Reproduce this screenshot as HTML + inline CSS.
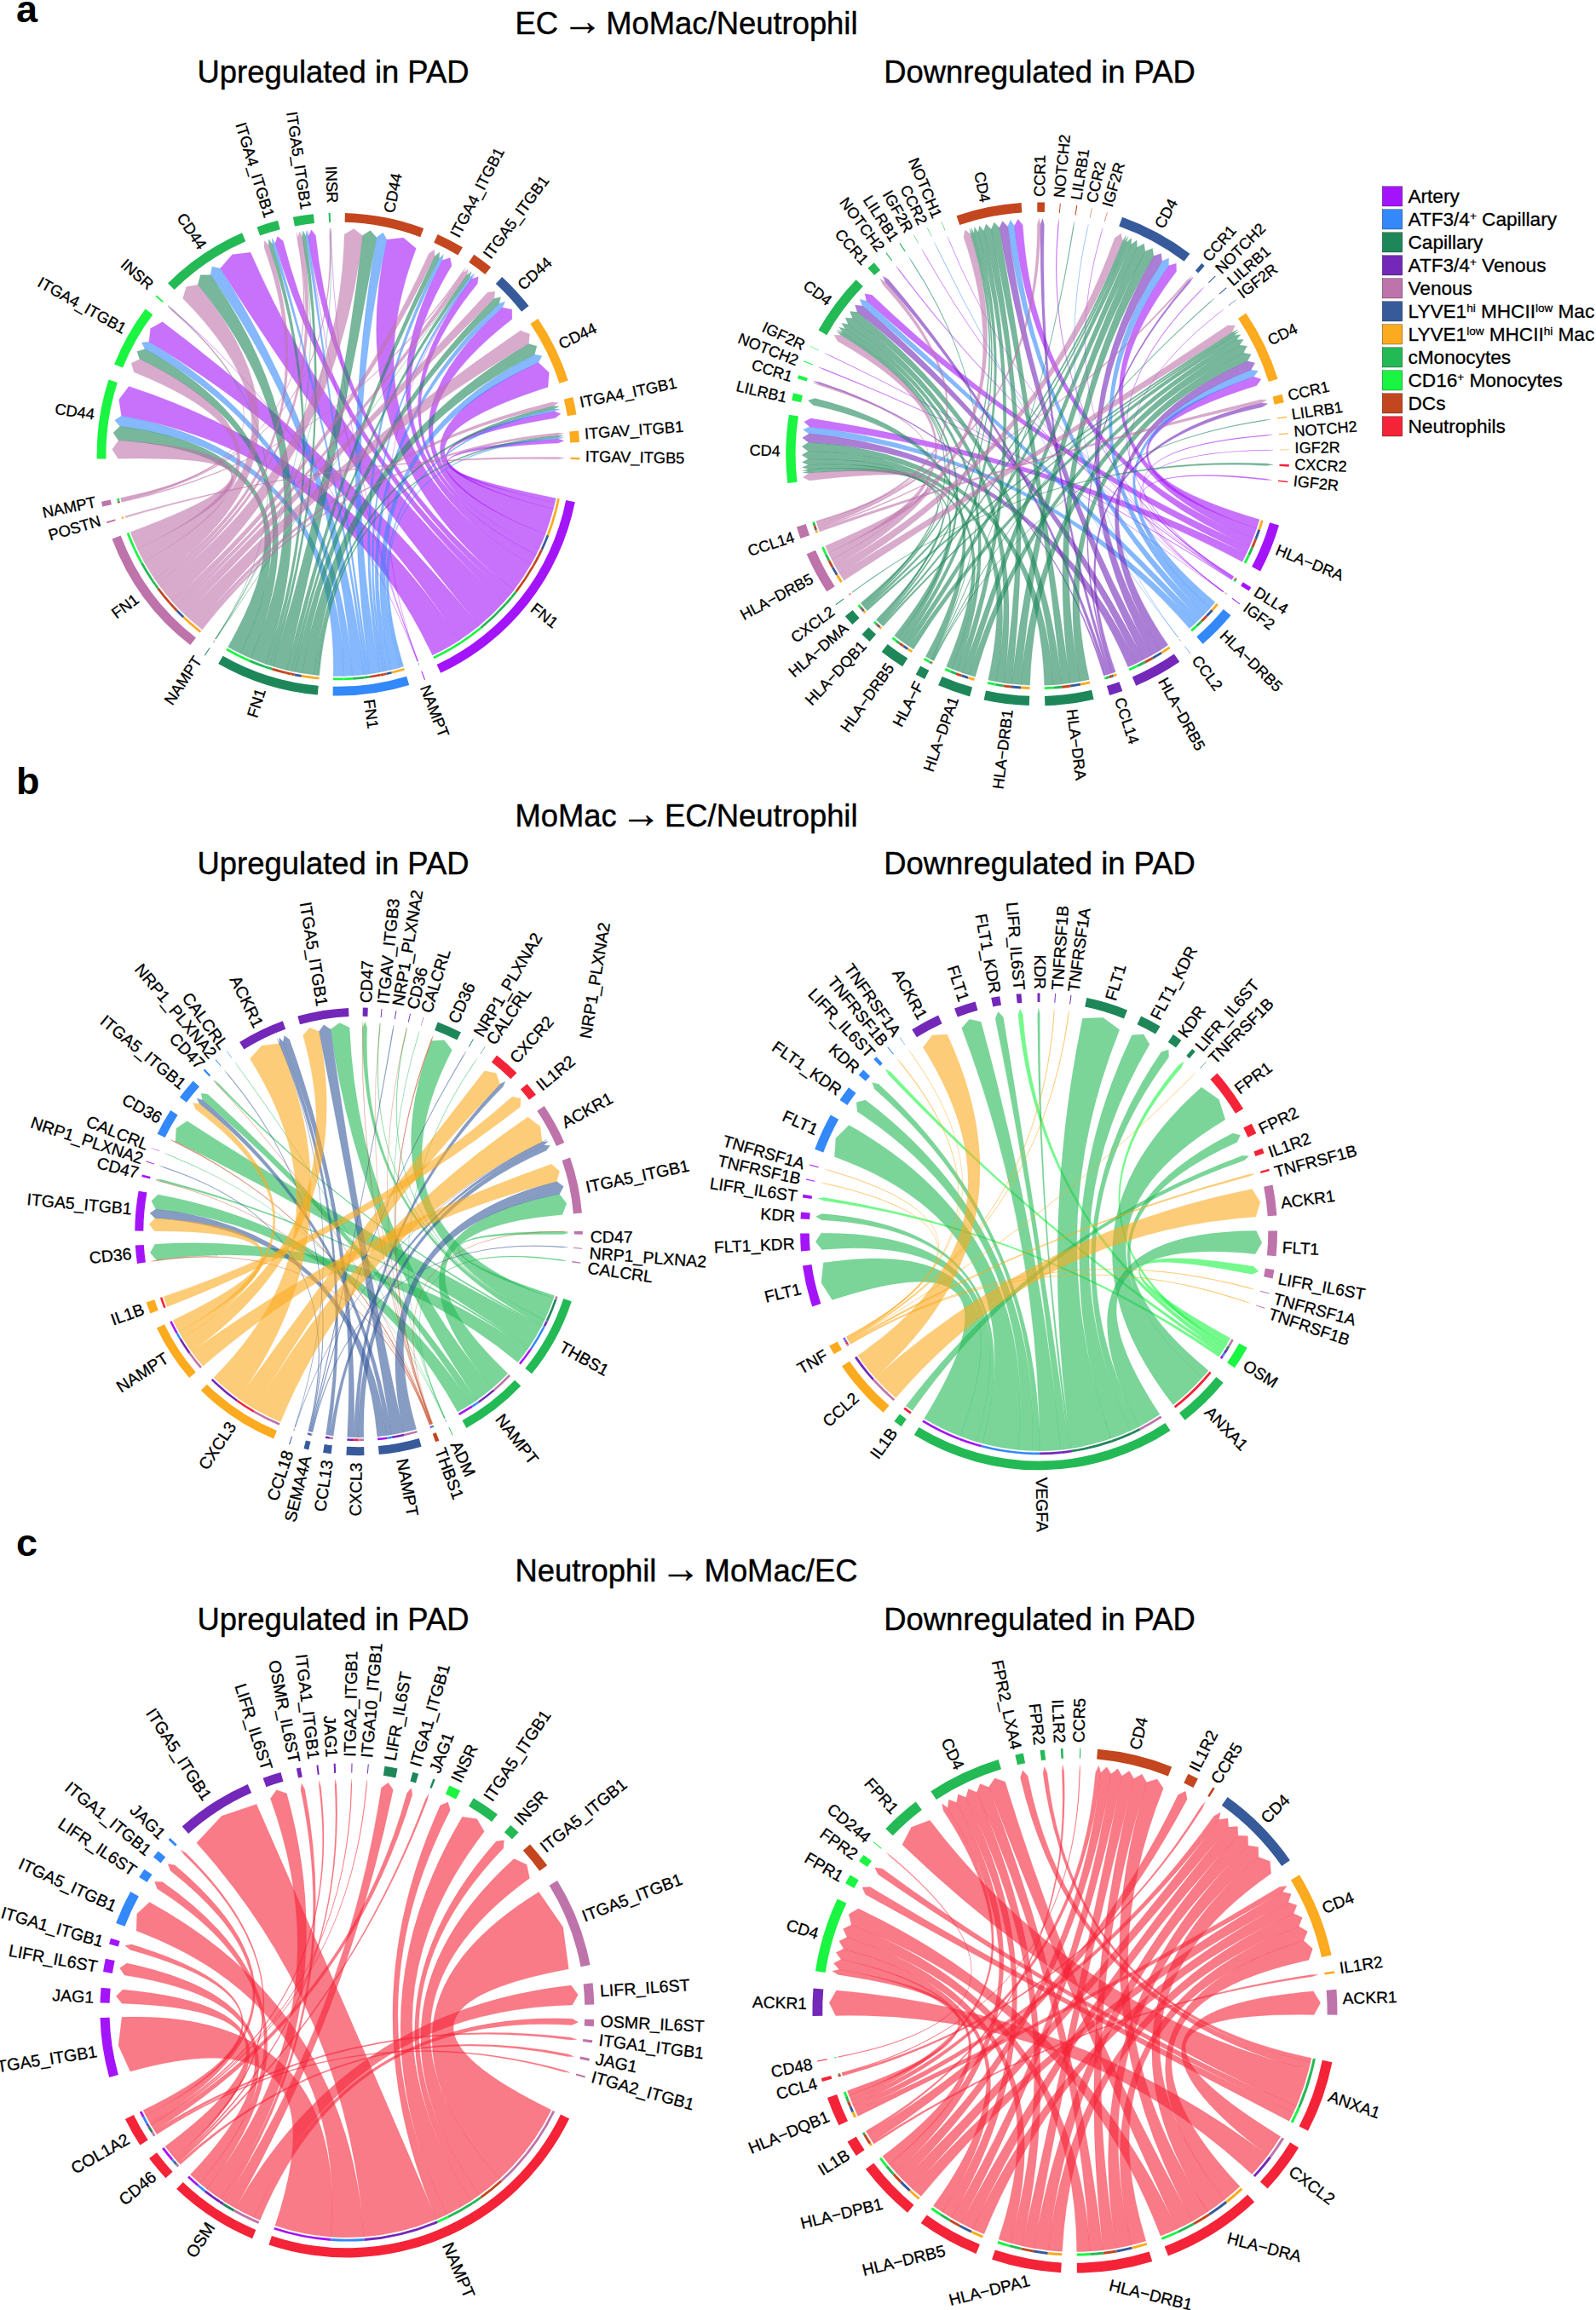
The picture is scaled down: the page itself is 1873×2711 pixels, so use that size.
<!DOCTYPE html>
<html><head><meta charset="utf-8"><title>Chord diagrams</title>
<style>
html,body{margin:0;padding:0;background:#fff;}
body{width:1873px;height:2711px;overflow:hidden;position:relative;font-family:"Liberation Sans", Arial, Helvetica, sans-serif;}
svg{position:absolute;left:0;top:0;display:block;}
text{font-family:"Liberation Sans", Arial, Helvetica, sans-serif;}
</style></head><body>
<svg width="1873" height="2711" viewBox="0 0 1873 2711">
<rect width="1873" height="2711" fill="#fff"/>
<g id="aL">
<g fill-opacity="0.6" stroke-opacity="0.5" stroke-width="0.3">
<path d="M623.1 662.3A260.4 260.4 0 0 1 603.1 692.4Q397.0 533.2 454.0 281.2L473.3 279.1L488.3 291.5Q397.0 533.2 623.1 662.3Z" fill="#A414FA" stroke="#A414FA"/>
<path d="M629.1 651.2A260.4 260.4 0 0 1 623.1 662.3Q397.0 533.2 519.1 305.5L528.1 302.5L530.1 311.7Q397.0 533.2 629.1 651.2Z" fill="#A414FA" stroke="#A414FA"/>
<path d="M632.9 643.3A260.4 260.4 0 0 1 629.1 651.2Q397.0 533.2 553.5 327.6L561.2 324.8L560.3 333.0Q397.0 533.2 632.9 643.3Z" fill="#A414FA" stroke="#A414FA"/>
<path d="M639.9 627.0A260.4 260.4 0 0 1 632.9 643.3Q397.0 533.2 589.6 360.9L600.7 363.2L600.9 374.5Q397.0 533.2 639.9 627.0Z" fill="#A414FA" stroke="#A414FA"/>
<path d="M649.3 597.4A260.4 260.4 0 0 1 639.9 627.0Q397.0 533.2 631.9 425.5L644.3 437.2L643.0 454.2Q397.0 533.2 649.3 597.4Z" fill="#A414FA" stroke="#A414FA"/>
<path d="M651.2 589.7A260.4 260.4 0 0 1 649.3 597.4Q397.0 533.2 650.4 482.8L658.0 485.4L651.8 490.6Q397.0 533.2 651.2 589.7Z" fill="#A414FA" stroke="#A414FA"/>
<path d="M652.3 584.7A260.4 260.4 0 0 1 651.2 589.7Q397.0 533.2 654.7 515.1L661.8 517.2L655.0 520.1Q397.0 533.2 652.3 584.7Z" fill="#A414FA" stroke="#A414FA"/>
<path d="M539.0 751.4A260.4 260.4 0 0 1 507.5 769.0Q397.0 533.2 142.6 488.1L139.6 468.9L151.3 453.4Q397.0 533.2 539.0 751.4Z" fill="#A414FA" stroke="#A414FA"/>
<path d="M562.1 734.6A260.4 260.4 0 0 1 539.0 751.4Q397.0 533.2 174.9 401.2L176.7 385.4L190.7 377.7Q397.0 533.2 562.1 734.6Z" fill="#A414FA" stroke="#A414FA"/>
<path d="M591.3 706.5A260.4 260.4 0 0 1 562.1 734.6Q397.0 533.2 258.5 315.1L272.6 298.8L294.0 296.3Q397.0 533.2 591.3 706.5Z" fill="#A414FA" stroke="#A414FA"/>
<path d="M597.7 699.1A260.4 260.4 0 0 1 591.3 706.5Q397.0 533.2 322.9 285.7L325.7 277.6L332.3 283.1Q397.0 533.2 597.7 699.1Z" fill="#A414FA" stroke="#A414FA"/>
<path d="M603.1 692.4A260.4 260.4 0 0 1 597.7 699.1Q397.0 533.2 362.0 277.2L365.4 269.8L370.4 276.2Q397.0 533.2 603.1 692.4Z" fill="#A414FA" stroke="#A414FA"/>
<path d="M490.7 776.1A260.4 260.4 0 0 1 490.5 776.2Q397.0 533.2 553.3 327.5L557.6 322.0L553.5 327.6Q397.0 533.2 490.7 776.1Z" fill="#A414FA" stroke="#A414FA"/>
<path d="M490.1 776.4A260.4 260.4 0 0 1 489.9 776.5Q397.0 533.2 202.4 363.2L197.3 358.5L202.6 363.0Q397.0 533.2 490.1 776.4Z" fill="#A414FA" stroke="#A414FA"/>
<path d="M490.3 776.3A260.4 260.4 0 0 1 490.1 776.4Q397.0 533.2 361.8 277.2L361.0 270.3L362.0 277.2Q397.0 533.2 490.3 776.3Z" fill="#A414FA" stroke="#A414FA"/>
<path d="M490.5 776.2A260.4 260.4 0 0 1 490.3 776.3Q397.0 533.2 388.2 275.0L388.1 268.0L388.4 275.0Q397.0 533.2 490.5 776.2Z" fill="#A414FA" stroke="#A414FA"/>
<path d="M445.8 789.0A260.4 260.4 0 0 1 433.5 791.0Q397.0 533.2 441.9 278.8L449.4 273.1L454.0 281.2Q397.0 533.2 445.8 789.0Z" fill="#3388FA" stroke="#3388FA"/>
<path d="M450.0 788.1A260.4 260.4 0 0 1 445.8 789.0Q397.0 533.2 515.3 303.5L520.5 298.4L519.1 305.5Q397.0 533.2 450.0 788.1Z" fill="#3388FA" stroke="#3388FA"/>
<path d="M453.0 787.5A260.4 260.4 0 0 1 450.0 788.1Q397.0 533.2 551.0 325.7L556.3 321.0L553.3 327.5Q397.0 533.2 453.0 787.5Z" fill="#3388FA" stroke="#3388FA"/>
<path d="M458.9 786.1A260.4 260.4 0 0 1 453.0 787.5Q397.0 533.2 585.5 356.5L592.7 354.0L589.6 360.9Q397.0 533.2 458.9 786.1Z" fill="#3388FA" stroke="#3388FA"/>
<path d="M469.3 783.4A260.4 260.4 0 0 1 458.9 786.1Q397.0 533.2 627.3 416.0L635.9 417.7L631.9 425.5Q397.0 533.2 469.3 783.4Z" fill="#3388FA" stroke="#3388FA"/>
<path d="M471.9 782.6A260.4 260.4 0 0 1 469.3 783.4Q397.0 533.2 649.9 480.1L656.9 480.1L650.4 482.8Q397.0 533.2 471.9 782.6Z" fill="#3388FA" stroke="#3388FA"/>
<path d="M473.6 782.1A260.4 260.4 0 0 1 471.9 782.6Q397.0 533.2 654.6 513.3L661.6 513.7L654.7 515.1Q397.0 533.2 473.6 782.1Z" fill="#3388FA" stroke="#3388FA"/>
<path d="M403.5 793.5A260.4 260.4 0 0 1 391.1 793.5Q397.0 533.2 140.7 500.3L134.7 493.2L142.6 488.1Q397.0 533.2 403.5 793.5Z" fill="#3388FA" stroke="#3388FA"/>
<path d="M413.4 793.1A260.4 260.4 0 0 1 403.5 793.5Q397.0 533.2 170.0 409.7L166.4 402.0L174.9 401.2Q397.0 533.2 413.4 793.1Z" fill="#3388FA" stroke="#3388FA"/>
<path d="M427.2 791.8A260.4 260.4 0 0 1 413.4 793.1Q397.0 533.2 247.1 322.8L248.9 313.1L258.5 315.1Q397.0 533.2 427.2 791.8Z" fill="#3388FA" stroke="#3388FA"/>
<path d="M430.6 791.4A260.4 260.4 0 0 1 427.2 791.8Q397.0 533.2 319.7 286.7L319.3 279.5L322.9 285.7Q397.0 533.2 430.6 791.4Z" fill="#3388FA" stroke="#3388FA"/>
<path d="M433.5 791.0A260.4 260.4 0 0 1 430.6 791.4Q397.0 533.2 358.9 277.6L359.4 270.6L361.8 277.2Q397.0 533.2 433.5 791.0Z" fill="#3388FA" stroke="#3388FA"/>
<path d="M336.5 786.5A260.4 260.4 0 0 1 320.3 782.0Q397.0 533.2 425.4 276.4L434.7 270.6L441.9 278.8Q397.0 533.2 336.5 786.5Z" fill="#1E875A" stroke="#1E875A"/>
<path d="M342.3 787.8A260.4 260.4 0 0 1 336.5 786.5Q397.0 533.2 510.1 300.9L515.8 296.0L515.3 303.5Q397.0 533.2 342.3 787.8Z" fill="#1E875A" stroke="#1E875A"/>
<path d="M346.2 788.6A260.4 260.4 0 0 1 342.3 787.8Q397.0 533.2 547.7 323.3L553.4 318.9L551.0 325.7Q397.0 533.2 346.2 788.6Z" fill="#1E875A" stroke="#1E875A"/>
<path d="M354.4 790.1A260.4 260.4 0 0 1 346.2 788.6Q397.0 533.2 579.8 350.6L587.6 348.7L585.5 356.5Q397.0 533.2 354.4 790.1Z" fill="#1E875A" stroke="#1E875A"/>
<path d="M368.7 792.0A260.4 260.4 0 0 1 354.4 790.1Q397.0 533.2 620.4 403.4L630.0 406.3L627.3 416.0Q397.0 533.2 368.7 792.0Z" fill="#1E875A" stroke="#1E875A"/>
<path d="M372.4 792.4A260.4 260.4 0 0 1 368.7 792.0Q397.0 533.2 649.1 476.6L656.3 476.9L649.9 480.1Q397.0 533.2 372.4 792.4Z" fill="#1E875A" stroke="#1E875A"/>
<path d="M374.8 792.6A260.4 260.4 0 0 1 372.4 792.4Q397.0 533.2 654.4 511.0L661.4 511.6L654.6 513.3Q397.0 533.2 374.8 792.6Z" fill="#1E875A" stroke="#1E875A"/>
<path d="M282.5 767.0A260.4 260.4 0 0 1 267.6 759.2Q397.0 533.2 139.1 516.9L132.9 507.9L140.7 500.3Q397.0 533.2 282.5 767.0Z" fill="#1E875A" stroke="#1E875A"/>
<path d="M294.6 772.6A260.4 260.4 0 0 1 282.5 767.0Q397.0 533.2 164.0 421.5L160.8 412.4L170.0 409.7Q397.0 533.2 294.6 772.6Z" fill="#1E875A" stroke="#1E875A"/>
<path d="M312.1 779.4A260.4 260.4 0 0 1 294.6 772.6Q397.0 533.2 232.2 334.2L235.3 322.8L247.1 322.8Q397.0 533.2 312.1 779.4Z" fill="#1E875A" stroke="#1E875A"/>
<path d="M316.5 780.8A260.4 260.4 0 0 1 312.1 779.4Q397.0 533.2 315.4 288.1L315.4 280.7L319.7 286.7Q397.0 533.2 316.5 780.8Z" fill="#1E875A" stroke="#1E875A"/>
<path d="M320.3 782.0A260.4 260.4 0 0 1 316.5 780.8Q397.0 533.2 355.1 278.3L355.9 271.1L358.9 277.6Q397.0 533.2 320.3 782.0Z" fill="#1E875A" stroke="#1E875A"/>
<path d="M253.3 750.3A260.4 260.4 0 0 1 253.1 750.2Q397.0 533.2 547.5 323.2L551.7 317.6L547.7 323.3Q397.0 533.2 253.3 750.3Z" fill="#1E875A" stroke="#1E875A"/>
<path d="M252.7 750.0A260.4 260.4 0 0 1 252.5 749.8Q397.0 533.2 202.3 363.4L197.1 358.7L202.4 363.2Q397.0 533.2 252.7 750.0Z" fill="#1E875A" stroke="#1E875A"/>
<path d="M252.9 750.1A260.4 260.4 0 0 1 252.7 750.0Q397.0 533.2 354.8 278.3L353.8 271.4L355.1 278.3Q397.0 533.2 252.9 750.1Z" fill="#1E875A" stroke="#1E875A"/>
<path d="M253.1 750.2A260.4 260.4 0 0 1 252.9 750.1Q397.0 533.2 388.0 275.0L387.9 268.0L388.2 275.0Q397.0 533.2 253.1 750.2Z" fill="#1E875A" stroke="#1E875A"/>
<path d="M201.5 705.2A260.4 260.4 0 0 1 188.0 688.5Q397.0 533.2 404.2 274.9L415.3 268.5L425.4 276.4Q397.0 533.2 201.5 705.2Z" fill="#BE73AA" stroke="#BE73AA"/>
<path d="M206.5 710.8A260.4 260.4 0 0 1 201.5 705.2Q397.0 533.2 503.3 297.7L509.7 293.0L510.1 300.9Q397.0 533.2 206.5 710.8Z" fill="#BE73AA" stroke="#BE73AA"/>
<path d="M210.1 714.5A260.4 260.4 0 0 1 206.5 710.8Q397.0 533.2 543.4 320.3L549.4 316.0L547.5 323.2Q397.0 533.2 210.1 714.5Z" fill="#BE73AA" stroke="#BE73AA"/>
<path d="M217.6 721.9A260.4 260.4 0 0 1 210.1 714.5Q397.0 533.2 572.2 343.3L580.8 341.9L579.8 350.6Q397.0 533.2 217.6 721.9Z" fill="#BE73AA" stroke="#BE73AA"/>
<path d="M231.4 734.1A260.4 260.4 0 0 1 217.6 721.9Q397.0 533.2 610.7 388.0L621.6 391.9L620.4 403.4Q397.0 533.2 231.4 734.1Z" fill="#BE73AA" stroke="#BE73AA"/>
<path d="M235.0 737.1A260.4 260.4 0 0 1 231.4 734.1Q397.0 533.2 648.0 472.0L655.3 472.7L649.1 476.6Q397.0 533.2 235.0 737.1Z" fill="#BE73AA" stroke="#BE73AA"/>
<path d="M237.4 738.9A260.4 260.4 0 0 1 235.0 737.1Q397.0 533.2 654.1 508.0L661.2 508.8L654.4 511.0Q397.0 533.2 237.4 738.9Z" fill="#BE73AA" stroke="#BE73AA"/>
<path d="M161.4 644.1A260.4 260.4 0 0 1 153.1 624.4Q397.0 533.2 138.7 538.2L131.7 527.4L139.1 516.9Q397.0 533.2 161.4 644.1Z" fill="#BE73AA" stroke="#BE73AA"/>
<path d="M169.1 659.2A260.4 260.4 0 0 1 161.4 644.1Q397.0 533.2 157.3 436.8L154.2 426.3L164.0 421.5Q397.0 533.2 169.1 659.2Z" fill="#BE73AA" stroke="#BE73AA"/>
<path d="M181.7 679.7A260.4 260.4 0 0 1 169.1 659.2Q397.0 533.2 214.6 350.2L218.6 336.8L232.2 334.2Q397.0 533.2 181.7 679.7Z" fill="#BE73AA" stroke="#BE73AA"/>
<path d="M185.0 684.4A260.4 260.4 0 0 1 181.7 679.7Q397.0 533.2 309.9 289.9L310.4 282.4L315.4 288.1Q397.0 533.2 185.0 684.4Z" fill="#BE73AA" stroke="#BE73AA"/>
<path d="M188.0 688.5A260.4 260.4 0 0 1 185.0 684.4Q397.0 533.2 349.9 279.2L351.2 271.9L354.8 278.3Q397.0 533.2 188.0 688.5Z" fill="#BE73AA" stroke="#BE73AA"/>
<path d="M147.5 607.6A260.4 260.4 0 0 1 147.0 605.8Q397.0 533.2 655.4 536.6L662.3 537.8L655.3 538.8Q397.0 533.2 147.5 607.6Z" fill="#BE73AA" stroke="#BE73AA"/>
<path d="M142.8 589.6A260.4 260.4 0 0 1 142.5 588.2Q397.0 533.2 542.2 319.5L546.7 314.2L543.4 320.3Q397.0 533.2 142.8 589.6Z" fill="#BE73AA" stroke="#BE73AA"/>
<path d="M141.9 585.6A260.4 260.4 0 0 1 141.7 584.2Q397.0 533.2 201.4 364.4L196.6 359.3L202.3 363.4Q397.0 533.2 141.9 585.6Z" fill="#BE73AA" stroke="#BE73AA"/>
<path d="M142.2 586.9A260.4 260.4 0 0 1 141.9 585.6Q397.0 533.2 348.6 279.4L348.0 272.5L349.9 279.2Q397.0 533.2 142.2 586.9Z" fill="#BE73AA" stroke="#BE73AA"/>
<path d="M142.5 588.2A260.4 260.4 0 0 1 142.2 586.9Q397.0 533.2 386.6 275.0L387.0 268.1L388.0 275.0Q397.0 533.2 142.5 588.2Z" fill="#BE73AA" stroke="#BE73AA"/>
</g>
<path d="M627.1 664.6A265.0 265.0 0 0 1 606.7 695.2L604.6 693.6A262.3 262.3 0 0 0 624.8 663.3Z" fill="#C3461E"/>
<path d="M633.3 653.3A265.0 265.0 0 0 1 627.1 664.6L624.8 663.3A262.3 262.3 0 0 0 630.8 652.0Z" fill="#C3461E"/>
<path d="M637.2 645.3A265.0 265.0 0 0 1 633.3 653.3L630.8 652.0A262.3 262.3 0 0 0 634.7 644.2Z" fill="#C3461E"/>
<path d="M644.3 628.6A265.0 265.0 0 0 1 637.2 645.3L634.7 644.2A262.3 262.3 0 0 0 641.7 627.7Z" fill="#375A9B"/>
<path d="M653.9 598.6A265.0 265.0 0 0 1 644.3 628.6L641.7 627.7A262.3 262.3 0 0 0 651.2 597.9Z" fill="#FCAA1E"/>
<path d="M655.7 590.7A265.0 265.0 0 0 1 653.9 598.6L651.2 597.9A262.3 262.3 0 0 0 653.0 590.1Z" fill="#FCAA1E"/>
<path d="M656.8 585.6A265.0 265.0 0 0 1 655.7 590.7L653.0 590.1A262.3 262.3 0 0 0 654.1 585.0Z" fill="#FCAA1E"/>
<path d="M541.6 755.3A265.0 265.0 0 0 1 509.4 773.2L508.3 770.7A262.3 262.3 0 0 0 540.1 753.0Z" fill="#19F541"/>
<path d="M565.0 738.1A265.0 265.0 0 0 1 541.6 755.3L540.1 753.0A262.3 262.3 0 0 0 563.3 736.0Z" fill="#19F541"/>
<path d="M594.8 709.6A265.0 265.0 0 0 1 565.0 738.1L563.3 736.0A262.3 262.3 0 0 0 592.7 707.8Z" fill="#23B955"/>
<path d="M601.3 702.0A265.0 265.0 0 0 1 594.8 709.6L592.7 707.8A262.3 262.3 0 0 0 599.2 700.3Z" fill="#23B955"/>
<path d="M606.7 695.2A265.0 265.0 0 0 1 601.3 702.0L599.2 700.3A262.3 262.3 0 0 0 604.6 693.6Z" fill="#23B955"/>
<path d="M492.4 780.5A265.0 265.0 0 0 1 492.2 780.5L491.2 778.0A262.3 262.3 0 0 0 491.4 777.9Z" fill="#C3461E"/>
<path d="M491.8 780.7A265.0 265.0 0 0 1 491.5 780.8L490.6 778.2A262.3 262.3 0 0 0 490.8 778.1Z" fill="#19F541"/>
<path d="M492.0 780.6A265.0 265.0 0 0 1 491.8 780.7L490.8 778.1A262.3 262.3 0 0 0 491.0 778.1Z" fill="#23B955"/>
<path d="M492.2 780.5A265.0 265.0 0 0 1 492.0 780.6L491.0 778.1A262.3 262.3 0 0 0 491.2 778.0Z" fill="#23B955"/>
<path d="M446.6 793.5A265.0 265.0 0 0 1 434.2 795.6L433.8 792.9A262.3 262.3 0 0 0 446.1 790.8Z" fill="#C3461E"/>
<path d="M451.0 792.7A265.0 265.0 0 0 1 446.6 793.5L446.1 790.8A262.3 262.3 0 0 0 450.4 790.0Z" fill="#C3461E"/>
<path d="M454.0 792.0A265.0 265.0 0 0 1 451.0 792.7L450.4 790.0A262.3 262.3 0 0 0 453.4 789.4Z" fill="#C3461E"/>
<path d="M460.0 790.6A265.0 265.0 0 0 1 454.0 792.0L453.4 789.4A262.3 262.3 0 0 0 459.4 788.0Z" fill="#375A9B"/>
<path d="M470.5 787.8A265.0 265.0 0 0 1 460.0 790.6L459.4 788.0A262.3 262.3 0 0 0 469.8 785.2Z" fill="#FCAA1E"/>
<path d="M473.2 787.0A265.0 265.0 0 0 1 470.5 787.8L469.8 785.2A262.3 262.3 0 0 0 472.4 784.4Z" fill="#FCAA1E"/>
<path d="M474.9 786.5A265.0 265.0 0 0 1 473.2 787.0L472.4 784.4A262.3 262.3 0 0 0 474.1 783.9Z" fill="#FCAA1E"/>
<path d="M403.6 798.2A265.0 265.0 0 0 1 391.0 798.2L391.0 795.4A262.3 262.3 0 0 0 403.6 795.4Z" fill="#19F541"/>
<path d="M413.6 797.7A265.0 265.0 0 0 1 403.6 798.2L403.6 795.4A262.3 262.3 0 0 0 413.5 795.0Z" fill="#19F541"/>
<path d="M427.8 796.4A265.0 265.0 0 0 1 413.6 797.7L413.5 795.0A262.3 262.3 0 0 0 427.5 793.7Z" fill="#23B955"/>
<path d="M431.2 796.0A265.0 265.0 0 0 1 427.8 796.4L427.5 793.7A262.3 262.3 0 0 0 430.8 793.3Z" fill="#23B955"/>
<path d="M434.2 795.6A265.0 265.0 0 0 1 431.2 796.0L430.8 793.3A262.3 262.3 0 0 0 433.8 792.9Z" fill="#23B955"/>
<path d="M335.4 791.0A265.0 265.0 0 0 1 318.9 786.5L319.7 783.8A262.3 262.3 0 0 0 336.1 788.3Z" fill="#C3461E"/>
<path d="M341.3 792.3A265.0 265.0 0 0 1 335.4 791.0L336.1 788.3A262.3 262.3 0 0 0 341.9 789.6Z" fill="#C3461E"/>
<path d="M345.3 793.2A265.0 265.0 0 0 1 341.3 792.3L341.9 789.6A262.3 262.3 0 0 0 345.9 790.5Z" fill="#C3461E"/>
<path d="M353.6 794.7A265.0 265.0 0 0 1 345.3 793.2L345.9 790.5A262.3 262.3 0 0 0 354.1 792.0Z" fill="#375A9B"/>
<path d="M368.2 796.7A265.0 265.0 0 0 1 353.6 794.7L354.1 792.0A262.3 262.3 0 0 0 368.5 793.9Z" fill="#FCAA1E"/>
<path d="M371.9 797.0A265.0 265.0 0 0 1 368.2 796.7L368.5 793.9A262.3 262.3 0 0 0 372.2 794.3Z" fill="#FCAA1E"/>
<path d="M374.4 797.3A265.0 265.0 0 0 1 371.9 797.0L372.2 794.3A262.3 262.3 0 0 0 374.6 794.5Z" fill="#FCAA1E"/>
<path d="M280.4 771.2A265.0 265.0 0 0 1 265.3 763.2L266.7 760.8A262.3 262.3 0 0 0 281.6 768.7Z" fill="#19F541"/>
<path d="M292.7 776.9A265.0 265.0 0 0 1 280.4 771.2L281.6 768.7A262.3 262.3 0 0 0 293.8 774.3Z" fill="#19F541"/>
<path d="M310.6 783.8A265.0 265.0 0 0 1 292.7 776.9L293.8 774.3A262.3 262.3 0 0 0 311.5 781.2Z" fill="#23B955"/>
<path d="M315.1 785.3A265.0 265.0 0 0 1 310.6 783.8L311.5 781.2A262.3 262.3 0 0 0 315.9 782.6Z" fill="#23B955"/>
<path d="M318.9 786.5A265.0 265.0 0 0 1 315.1 785.3L315.9 782.6A262.3 262.3 0 0 0 319.7 783.8Z" fill="#23B955"/>
<path d="M250.7 754.2A265.0 265.0 0 0 1 250.5 754.1L252.0 751.8A262.3 262.3 0 0 0 252.2 751.9Z" fill="#C3461E"/>
<path d="M250.1 753.8A265.0 265.0 0 0 1 249.9 753.7L251.5 751.4A262.3 262.3 0 0 0 251.7 751.5Z" fill="#19F541"/>
<path d="M250.3 754.0A265.0 265.0 0 0 1 250.1 753.8L251.7 751.5A262.3 262.3 0 0 0 251.9 751.7Z" fill="#23B955"/>
<path d="M250.5 754.1A265.0 265.0 0 0 1 250.3 754.0L251.9 751.7A262.3 262.3 0 0 0 252.0 751.8Z" fill="#23B955"/>
<path d="M198.0 708.3A265.0 265.0 0 0 1 184.3 691.3L186.5 689.7A262.3 262.3 0 0 0 200.1 706.4Z" fill="#C3461E"/>
<path d="M203.1 713.9A265.0 265.0 0 0 1 198.0 708.3L200.1 706.4A262.3 262.3 0 0 0 205.2 712.1Z" fill="#C3461E"/>
<path d="M206.8 717.7A265.0 265.0 0 0 1 203.1 713.9L205.2 712.1A262.3 262.3 0 0 0 208.7 715.8Z" fill="#C3461E"/>
<path d="M214.4 725.3A265.0 265.0 0 0 1 206.8 717.7L208.7 715.8A262.3 262.3 0 0 0 216.3 723.3Z" fill="#375A9B"/>
<path d="M228.4 737.7A265.0 265.0 0 0 1 214.4 725.3L216.3 723.3A262.3 262.3 0 0 0 230.2 735.6Z" fill="#FCAA1E"/>
<path d="M232.1 740.7A265.0 265.0 0 0 1 228.4 737.7L230.2 735.6A262.3 262.3 0 0 0 233.8 738.6Z" fill="#FCAA1E"/>
<path d="M234.6 742.6A265.0 265.0 0 0 1 232.1 740.7L233.8 738.6A262.3 262.3 0 0 0 236.2 740.4Z" fill="#FCAA1E"/>
<path d="M157.2 646.1A265.0 265.0 0 0 1 148.7 626.0L151.3 625.1A262.3 262.3 0 0 0 159.7 644.9Z" fill="#19F541"/>
<path d="M165.1 661.5A265.0 265.0 0 0 1 157.2 646.1L159.7 644.9A262.3 262.3 0 0 0 167.5 660.1Z" fill="#19F541"/>
<path d="M177.9 682.3A265.0 265.0 0 0 1 165.1 661.5L167.5 660.1A262.3 262.3 0 0 0 180.1 680.7Z" fill="#23B955"/>
<path d="M181.3 687.1A265.0 265.0 0 0 1 177.9 682.3L180.1 680.7A262.3 262.3 0 0 0 183.5 685.5Z" fill="#23B955"/>
<path d="M184.3 691.3A265.0 265.0 0 0 1 181.3 687.1L183.5 685.5A262.3 262.3 0 0 0 186.5 689.7Z" fill="#23B955"/>
<path d="M143.0 608.9A265.0 265.0 0 0 1 142.5 607.1L145.1 606.4A262.3 262.3 0 0 0 145.6 608.1Z" fill="#FCAA1E"/>
<path d="M138.2 590.6A265.0 265.0 0 0 1 137.9 589.2L140.6 588.6A262.3 262.3 0 0 0 140.9 590.0Z" fill="#C3461E"/>
<path d="M137.4 586.5A265.0 265.0 0 0 1 137.1 585.1L139.8 584.6A262.3 262.3 0 0 0 140.1 585.9Z" fill="#19F541"/>
<path d="M137.7 587.8A265.0 265.0 0 0 1 137.4 586.5L140.1 585.9A262.3 262.3 0 0 0 140.3 587.3Z" fill="#23B955"/>
<path d="M137.9 589.2A265.0 265.0 0 0 1 137.7 587.8L140.3 587.3A262.3 262.3 0 0 0 140.6 588.6Z" fill="#23B955"/>
<path d="M404.9 249.9A283.4 283.4 0 0 1 497.2 268.1L493.3 278.2A272.5 272.5 0 0 0 404.6 260.8Z" fill="#C3461E"/>
<path d="M513.6 274.9A283.4 283.4 0 0 1 543.0 290.3L537.4 299.6A272.5 272.5 0 0 0 509.2 284.8Z" fill="#C3461E"/>
<path d="M556.3 298.8A283.4 283.4 0 0 1 576.1 313.6L569.3 322.0A272.5 272.5 0 0 0 550.2 307.8Z" fill="#C3461E"/>
<path d="M589.2 324.9A283.4 283.4 0 0 1 620.6 359.1L612.1 365.8A272.5 272.5 0 0 0 581.8 332.9Z" fill="#375A9B"/>
<path d="M631.4 373.9A283.4 283.4 0 0 1 666.8 446.6L656.5 449.9A272.5 272.5 0 0 0 622.4 380.0Z" fill="#FCAA1E"/>
<path d="M672.3 466.1A283.4 283.4 0 0 1 676.5 486.4L665.8 488.2A272.5 272.5 0 0 0 661.8 468.7Z" fill="#FCAA1E"/>
<path d="M679.0 505.5A283.4 283.4 0 0 1 680.0 518.9L669.2 519.4A272.5 272.5 0 0 0 668.2 506.6Z" fill="#FCAA1E"/>
<path d="M680.4 536.9A283.4 283.4 0 0 1 680.3 539.4L669.5 539.1A272.5 272.5 0 0 0 669.5 536.8Z" fill="#FCAA1E"/>
<path d="M674.8 589.2A283.4 283.4 0 0 1 517.2 789.8L512.6 780.0A272.5 272.5 0 0 0 664.2 587.1Z" fill="#A414FA"/>
<path d="M499.0 797.6A283.4 283.4 0 0 1 498.1 798.0L494.2 787.8A272.5 272.5 0 0 0 495.1 787.5Z" fill="#A414FA"/>
<path d="M480.3 804.1A283.4 283.4 0 0 1 390.6 816.5L390.8 805.7A272.5 272.5 0 0 0 477.1 793.7Z" fill="#3388FA"/>
<path d="M372.8 815.6A283.4 283.4 0 0 1 256.2 779.1L261.6 769.7A272.5 272.5 0 0 0 373.7 804.7Z" fill="#1E875A"/>
<path d="M240.6 769.5A283.4 283.4 0 0 1 239.8 769.0L245.8 759.9A272.5 272.5 0 0 0 246.6 760.5Z" fill="#1E875A"/>
<path d="M223.3 757.1A283.4 283.4 0 0 1 131.5 632.4L141.7 628.6A272.5 272.5 0 0 0 230.0 748.6Z" fill="#BE73AA"/>
<path d="M125.4 614.2A283.4 283.4 0 0 1 124.9 612.3L135.3 609.2A272.5 272.5 0 0 0 135.8 611.1Z" fill="#BE73AA"/>
<path d="M120.3 594.5A283.4 283.4 0 0 1 119.1 588.7L129.7 586.6A272.5 272.5 0 0 0 130.9 592.2Z" fill="#BE73AA"/>
<path d="M113.7 538.6A283.4 283.4 0 0 1 127.5 445.6L137.8 449.0A272.5 272.5 0 0 0 124.5 538.4Z" fill="#19F541"/>
<path d="M134.1 427.5A283.4 283.4 0 0 1 170.7 362.6L179.3 369.2A272.5 272.5 0 0 0 144.1 431.5Z" fill="#19F541"/>
<path d="M182.5 348.0A283.4 283.4 0 0 1 183.8 346.5L191.9 353.7A272.5 272.5 0 0 0 190.7 355.1Z" fill="#19F541"/>
<path d="M197.0 332.5A283.4 283.4 0 0 1 284.0 273.3L288.3 283.3A272.5 272.5 0 0 0 204.6 340.1Z" fill="#23B955"/>
<path d="M301.5 266.4A283.4 283.4 0 0 1 326.0 258.8L328.8 269.3A272.5 272.5 0 0 0 305.1 276.6Z" fill="#23B955"/>
<path d="M343.9 254.8A283.4 283.4 0 0 1 367.9 251.3L369.0 262.1A272.5 272.5 0 0 0 345.9 265.5Z" fill="#23B955"/>
<path d="M385.6 250.0A283.4 283.4 0 0 1 387.6 250.0L388.0 260.8A272.5 272.5 0 0 0 386.1 260.9Z" fill="#23B955"/>
<g font-size="18.3" fill="#000" stroke="#000" stroke-width="0.3">
<text transform="translate(456.2 249.4) rotate(-78.8)" text-anchor="start" dy="0.355em">CD44</text>
<text transform="translate(533.0 277.1) rotate(-62.4)" text-anchor="start" dy="0.355em">ITGA4_ITGB1</text>
<text transform="translate(570.8 301.1) rotate(-53.3)" text-anchor="start" dy="0.355em">ITGA5_ITGB1</text>
<text transform="translate(610.1 336.6) rotate(-42.6)" text-anchor="start" dy="0.355em">CD44</text>
<text transform="translate(656.7 404.3) rotate(-26.0)" text-anchor="start" dy="0.355em">CD44</text>
<text transform="translate(680.4 472.2) rotate(-11.6)" text-anchor="start" dy="0.355em">ITGA4_ITGB1</text>
<text transform="translate(685.9 508.8) rotate(-4.2)" text-anchor="start" dy="0.355em">ITGAV_ITGB1</text>
<text transform="translate(686.9 535.3) rotate(1.0)" text-anchor="start" dy="0.355em">ITGAV_ITGB5</text>
<text transform="translate(625.6 711.5) rotate(38.2)" text-anchor="start" dy="0.355em">FN1</text>
<text transform="translate(498.8 804.7) rotate(69.0)" text-anchor="start" dy="0.355em">NAMPT</text>
<text transform="translate(433.4 820.8) rotate(82.1)" text-anchor="start" dy="0.355em">FN1</text>
<text transform="translate(305.9 808.5) rotate(287.4)" text-anchor="end" dy="0.355em">FN1</text>
<text transform="translate(232.3 771.8) rotate(303.6)" text-anchor="end" dy="0.355em">NAMPT</text>
<text transform="translate(160.6 701.1) rotate(323.6)" text-anchor="end" dy="0.355em">FN1</text>
<text transform="translate(117.6 610.6) rotate(343.6)" text-anchor="end" dy="0.355em">POSTN</text>
<text transform="translate(112.4 588.5) rotate(348.1)" text-anchor="end" dy="0.355em">NAMPT</text>
<text transform="translate(110.9 486.1) rotate(368.4)" text-anchor="end" dy="0.355em">CD44</text>
<text transform="translate(146.9 386.5) rotate(389.4)" text-anchor="end" dy="0.355em">ITGA4_ITGB1</text>
<text transform="translate(177.7 336.0) rotate(401.0)" text-anchor="end" dy="0.355em">INSR</text>
<text transform="translate(238.3 290.6) rotate(415.8)" text-anchor="end" dy="0.355em">CD44</text>
<text transform="translate(316.4 254.7) rotate(432.9)" text-anchor="end" dy="0.355em">ITGA4_ITGB1</text>
<text transform="translate(359.4 245.7) rotate(441.6)" text-anchor="end" dy="0.355em">ITGA5_ITGB1</text>
<text transform="translate(390.4 238.3) rotate(447.9)" text-anchor="end" dy="0.355em">INSR</text>
</g>
</g>
<g id="aR">
<g fill-opacity="0.6" stroke-opacity="0.5" stroke-width="0.3">
<path d="M1474.6 620.4A271.4 271.4 0 0 1 1470.5 631.5Q1217.7 532.9 1371.4 311.8L1380.3 309.2L1380.6 318.5Q1217.7 532.9 1474.6 620.4Z" fill="#A414FA" stroke="#A414FA"/>
<path d="M1478.0 609.7A271.4 271.4 0 0 1 1474.6 620.4Q1217.7 532.9 1471.2 442.1L1479.9 445.0L1474.7 452.5Q1217.7 532.9 1478.0 609.7Z" fill="#A414FA" stroke="#A414FA"/>
<path d="M1462.6 649.8A271.4 271.4 0 0 1 1457.9 659.2Q1217.7 532.9 950.2 501.0L943.7 494.9L951.6 490.9Q1217.7 532.9 1462.6 649.8Z" fill="#A414FA" stroke="#A414FA"/>
<path d="M1466.6 641.0A271.4 271.4 0 0 1 1462.6 649.8Q1217.7 532.9 1017.0 353.2L1014.9 344.8L1023.4 346.3Q1217.7 532.9 1466.6 641.0Z" fill="#A414FA" stroke="#A414FA"/>
<path d="M1470.5 631.5A271.4 271.4 0 0 1 1466.6 641.0Q1217.7 532.9 1190.4 265.0L1194.7 257.3L1200.2 264.1Q1217.7 532.9 1470.5 631.5Z" fill="#A414FA" stroke="#A414FA"/>
<path d="M1447.1 677.9A271.4 271.4 0 0 1 1446.6 678.7Q1217.7 532.9 1241.5 264.6L1242.6 257.5L1242.4 264.7Q1217.7 532.9 1447.1 677.9Z" fill="#A414FA" stroke="#A414FA"/>
<path d="M1447.5 677.2A271.4 271.4 0 0 1 1447.1 677.9Q1217.7 532.9 1407.5 341.9L1413.0 337.1L1408.2 342.6Q1217.7 532.9 1447.5 677.2Z" fill="#A414FA" stroke="#A414FA"/>
<path d="M1448.0 676.5A271.4 271.4 0 0 1 1447.5 677.2Q1217.7 532.9 1486.0 510.5L1493.3 510.3L1486.1 511.4Q1217.7 532.9 1448.0 676.5Z" fill="#A414FA" stroke="#A414FA"/>
<path d="M1445.9 679.8A271.4 271.4 0 0 1 1445.4 680.5Q1217.7 532.9 967.2 433.9L960.6 430.8L967.5 433.0Q1217.7 532.9 1445.9 679.8Z" fill="#A414FA" stroke="#A414FA"/>
<path d="M1446.4 679.0A271.4 271.4 0 0 1 1445.9 679.8Q1217.7 532.9 1055.3 318.0L1051.4 311.9L1056.1 317.4Q1217.7 532.9 1446.4 679.0Z" fill="#A414FA" stroke="#A414FA"/>
<path d="M1446.6 678.7A271.4 271.4 0 0 1 1446.4 679.0Q1217.7 532.9 1114.5 284.1L1111.9 277.4L1114.9 284.0Q1217.7 532.9 1446.6 678.7Z" fill="#A414FA" stroke="#A414FA"/>
<path d="M1435.6 694.6A271.4 271.4 0 0 1 1435.6 694.7Q1217.7 532.9 1292.0 274.0L1294.2 267.2L1292.4 274.2Q1217.7 532.9 1435.6 694.6Z" fill="#A414FA" stroke="#A414FA"/>
<path d="M1435.7 694.5A271.4 271.4 0 0 1 1435.6 694.6Q1217.7 532.9 1430.1 367.4L1436.0 363.1L1430.4 367.8Q1217.7 532.9 1435.7 694.5Z" fill="#A414FA" stroke="#A414FA"/>
<path d="M1435.8 694.4A271.4 271.4 0 0 1 1435.7 694.5Q1217.7 532.9 1486.9 528.1L1494.2 528.2L1486.9 528.5Q1217.7 532.9 1435.8 694.4Z" fill="#A414FA" stroke="#A414FA"/>
<path d="M1436.0 694.1A271.4 271.4 0 0 1 1435.8 694.4Q1217.7 532.9 1485.4 561.9L1492.5 563.4L1485.2 563.3Q1217.7 532.9 1436.0 694.1Z" fill="#A414FA" stroke="#A414FA"/>
<path d="M1435.5 694.8A271.4 271.4 0 0 1 1435.4 694.9Q1217.7 532.9 974.2 417.7L967.8 414.4L974.4 417.3Q1217.7 532.9 1435.5 694.8Z" fill="#A414FA" stroke="#A414FA"/>
<path d="M1435.6 694.7A271.4 271.4 0 0 1 1435.5 694.8Q1217.7 532.9 1085.0 298.5L1081.6 292.1L1085.4 298.3Q1217.7 532.9 1435.6 694.7Z" fill="#A414FA" stroke="#A414FA"/>
<path d="M1420.1 713.7A271.4 271.4 0 0 1 1413.6 720.7Q1217.7 532.9 1363.7 306.6L1371.6 303.1L1371.4 311.8Q1217.7 532.9 1420.1 713.7Z" fill="#3388FA" stroke="#3388FA"/>
<path d="M1426.0 706.8A271.4 271.4 0 0 1 1420.1 713.7Q1217.7 532.9 1468.1 433.9L1476.5 435.5L1471.2 442.1Q1217.7 532.9 1426.0 706.8Z" fill="#3388FA" stroke="#3388FA"/>
<path d="M1402.2 731.9A271.4 271.4 0 0 1 1395.9 737.6Q1217.7 532.9 949.4 509.1L942.6 504.3L950.2 501.0Q1217.7 532.9 1402.2 731.9Z" fill="#3388FA" stroke="#3388FA"/>
<path d="M1407.8 726.5A271.4 271.4 0 0 1 1402.2 731.9Q1217.7 532.9 1012.1 358.9L1009.1 351.3L1017.0 353.2Q1217.7 532.9 1407.8 726.5Z" fill="#3388FA" stroke="#3388FA"/>
<path d="M1413.6 720.7A271.4 271.4 0 0 1 1407.8 726.5Q1217.7 532.9 1182.6 265.9L1185.7 258.2L1190.4 265.0Q1217.7 532.9 1413.6 720.7Z" fill="#3388FA" stroke="#3388FA"/>
<path d="M1382.8 748.3A271.4 271.4 0 0 1 1382.7 748.4Q1217.7 532.9 1275.6 269.9L1277.4 262.9L1276.0 270.0Q1217.7 532.9 1382.8 748.3Z" fill="#3388FA" stroke="#3388FA"/>
<path d="M1382.7 748.4A271.4 271.4 0 0 1 1382.5 748.5Q1217.7 532.9 1099.5 290.9L1096.5 284.3L1099.9 290.7Q1217.7 532.9 1382.7 748.4Z" fill="#3388FA" stroke="#3388FA"/>
<path d="M1361.3 763.2A271.4 271.4 0 0 1 1351.1 769.2Q1217.7 532.9 1353.9 300.6L1362.6 297.4L1363.7 306.6Q1217.7 532.9 1361.3 763.2Z" fill="#7328B9" stroke="#7328B9"/>
<path d="M1370.7 757.0A271.4 271.4 0 0 1 1361.3 763.2Q1217.7 532.9 1463.9 423.8L1472.7 426.1L1468.1 433.9Q1217.7 532.9 1370.7 757.0Z" fill="#7328B9" stroke="#7328B9"/>
<path d="M1333.4 778.4A271.4 271.4 0 0 1 1323.8 782.7Q1217.7 532.9 948.7 519.3L941.8 513.7L949.4 509.1Q1217.7 532.9 1333.4 778.4Z" fill="#7328B9" stroke="#7328B9"/>
<path d="M1342.1 774.1A271.4 271.4 0 0 1 1333.4 778.4Q1217.7 532.9 1006.1 366.2L1003.5 358.0L1012.1 358.9Q1217.7 532.9 1342.1 774.1Z" fill="#7328B9" stroke="#7328B9"/>
<path d="M1351.1 769.2A271.4 271.4 0 0 1 1342.1 774.1Q1217.7 532.9 1172.8 267.3L1176.6 259.4L1182.6 265.9Q1217.7 532.9 1351.1 769.2Z" fill="#7328B9" stroke="#7328B9"/>
<path d="M1303.8 790.3A271.4 271.4 0 0 1 1300.5 791.4Q1217.7 532.9 1221.2 263.6L1223.4 256.4L1225.4 263.7Q1217.7 532.9 1303.8 790.3Z" fill="#7328B9" stroke="#7328B9"/>
<path d="M1305.6 789.7A271.4 271.4 0 0 1 1303.8 790.3Q1217.7 532.9 1394.8 330.0L1400.4 325.3L1396.4 331.5Q1217.7 532.9 1305.6 789.7Z" fill="#7328B9" stroke="#7328B9"/>
<path d="M1309.2 788.4A271.4 271.4 0 0 1 1305.6 789.7Q1217.7 532.9 1480.2 473.1L1487.8 473.8L1481.2 477.7Q1217.7 532.9 1309.2 788.4Z" fill="#7328B9" stroke="#7328B9"/>
<path d="M1296.8 792.5A271.4 271.4 0 0 1 1295.2 793.0Q1217.7 532.9 961.3 450.3L954.7 447.2L961.9 448.5Q1217.7 532.9 1296.8 792.5Z" fill="#7328B9" stroke="#7328B9"/>
<path d="M1300.5 791.4A271.4 271.4 0 0 1 1296.8 792.5Q1217.7 532.9 1039.2 331.2L1036.2 324.2L1042.7 328.1Q1217.7 532.9 1300.5 791.4Z" fill="#7328B9" stroke="#7328B9"/>
<path d="M1267.3 799.7A271.4 271.4 0 0 1 1255.7 801.6Q1217.7 532.9 1343.9 295.0L1352.5 291.4L1353.9 300.6Q1217.7 532.9 1267.3 799.7Z" fill="#1E875A" stroke="#1E875A"/>
<path d="M1278.3 797.5A271.4 271.4 0 0 1 1267.3 799.7Q1217.7 532.9 1459.3 414.0L1468.2 415.9L1463.9 423.8Q1217.7 532.9 1278.3 797.5Z" fill="#1E875A" stroke="#1E875A"/>
<path d="M1236.1 803.7A271.4 271.4 0 0 1 1225.7 804.2Q1217.7 532.9 948.4 529.4L941.2 524.1L948.7 519.3Q1217.7 532.9 1236.1 803.7Z" fill="#1E875A" stroke="#1E875A"/>
<path d="M1245.7 802.9A271.4 271.4 0 0 1 1236.1 803.7Q1217.7 532.9 1000.5 373.6L997.5 365.5L1006.1 366.2Q1217.7 532.9 1245.7 802.9Z" fill="#1E875A" stroke="#1E875A"/>
<path d="M1255.7 801.6A271.4 271.4 0 0 1 1245.7 802.9Q1217.7 532.9 1163.2 269.1L1166.7 261.1L1172.8 267.3Q1217.7 532.9 1255.7 801.6Z" fill="#1E875A" stroke="#1E875A"/>
<path d="M1198.2 803.6A271.4 271.4 0 0 1 1187.3 802.6Q1217.7 532.9 1334.5 290.3L1342.5 286.1L1343.9 295.0Q1217.7 532.9 1198.2 803.6Z" fill="#1E875A" stroke="#1E875A"/>
<path d="M1208.6 804.2A271.4 271.4 0 0 1 1198.2 803.6Q1217.7 532.9 1454.7 405.1L1463.5 406.3L1459.3 414.0Q1217.7 532.9 1208.6 804.2Z" fill="#1E875A" stroke="#1E875A"/>
<path d="M1169.2 800.0A271.4 271.4 0 0 1 1159.7 798.1Q1217.7 532.9 948.4 538.8L941.1 534.1L948.4 529.4Q1217.7 532.9 1169.2 800.0Z" fill="#1E875A" stroke="#1E875A"/>
<path d="M1178.0 801.4A271.4 271.4 0 0 1 1169.2 800.0Q1217.7 532.9 995.5 380.7L992.1 372.9L1000.5 373.6Q1217.7 532.9 1178.0 801.4Z" fill="#1E875A" stroke="#1E875A"/>
<path d="M1187.3 802.6A271.4 271.4 0 0 1 1178.0 801.4Q1217.7 532.9 1154.4 271.1L1157.2 263.0L1163.2 269.1Q1217.7 532.9 1187.3 802.6Z" fill="#1E875A" stroke="#1E875A"/>
<path d="M1137.2 792.1A271.4 271.4 0 0 1 1129.7 789.7Q1217.7 532.9 1327.5 287.0L1334.1 282.0L1334.5 290.3Q1217.7 532.9 1137.2 792.1Z" fill="#1E875A" stroke="#1E875A"/>
<path d="M1144.5 794.3A271.4 271.4 0 0 1 1137.2 792.1Q1217.7 532.9 1451.2 398.7L1459.3 398.4L1454.7 405.1Q1217.7 532.9 1144.5 794.3Z" fill="#1E875A" stroke="#1E875A"/>
<path d="M1117.1 785.0A271.4 271.4 0 0 1 1110.6 782.3Q1217.7 532.9 948.6 545.6L941.3 542.4L948.4 538.8Q1217.7 532.9 1117.1 785.0Z" fill="#1E875A" stroke="#1E875A"/>
<path d="M1123.2 787.3A271.4 271.4 0 0 1 1117.1 785.0Q1217.7 532.9 992.0 385.9L987.7 379.3L995.5 380.7Q1217.7 532.9 1123.2 787.3Z" fill="#1E875A" stroke="#1E875A"/>
<path d="M1129.7 789.7A271.4 271.4 0 0 1 1123.2 787.3Q1217.7 532.9 1147.9 272.8L1149.4 264.9L1154.4 271.1Q1217.7 532.9 1129.7 789.7Z" fill="#1E875A" stroke="#1E875A"/>
<path d="M1094.4 774.7A271.4 271.4 0 0 1 1093.6 774.3Q1217.7 532.9 1259.2 266.8L1260.8 259.7L1260.1 267.0Q1217.7 532.9 1094.4 774.7Z" fill="#1E875A" stroke="#1E875A"/>
<path d="M1095.2 775.1A271.4 271.4 0 0 1 1094.4 774.7Q1217.7 532.9 1419.5 354.6L1425.2 350.1L1420.1 355.3Q1217.7 532.9 1095.2 775.1Z" fill="#1E875A" stroke="#1E875A"/>
<path d="M1095.9 775.5A271.4 271.4 0 0 1 1095.2 775.1Q1217.7 532.9 1484.0 492.7L1491.2 492.1L1484.1 493.7Q1217.7 532.9 1095.9 775.5Z" fill="#1E875A" stroke="#1E875A"/>
<path d="M1092.8 773.9A271.4 271.4 0 0 1 1086.3 770.4Q1217.7 532.9 954.5 475.4L948.4 469.9L956.4 467.6Q1217.7 532.9 1092.8 773.9Z" fill="#1E875A" stroke="#1E875A"/>
<path d="M1093.6 774.3A271.4 271.4 0 0 1 1092.8 773.9Q1217.7 532.9 1069.9 307.7L1066.4 301.4L1070.7 307.2Q1217.7 532.9 1093.6 774.3Z" fill="#1E875A" stroke="#1E875A"/>
<path d="M1067.2 758.8A271.4 271.4 0 0 1 1062.1 755.3Q1217.7 532.9 1322.1 284.7L1327.7 279.2L1327.5 287.0Q1217.7 532.9 1067.2 758.8Z" fill="#1E875A" stroke="#1E875A"/>
<path d="M1072.0 761.9A271.4 271.4 0 0 1 1067.2 758.8Q1217.7 532.9 1448.3 393.9L1456.0 392.6L1451.2 398.7Q1217.7 532.9 1072.0 761.9Z" fill="#1E875A" stroke="#1E875A"/>
<path d="M1053.9 749.3A271.4 271.4 0 0 1 1049.6 746.0Q1217.7 532.9 948.9 550.8L941.5 548.6L948.6 545.6Q1217.7 532.9 1053.9 749.3Z" fill="#1E875A" stroke="#1E875A"/>
<path d="M1057.9 752.3A271.4 271.4 0 0 1 1053.9 749.3Q1217.7 532.9 989.4 390.0L984.6 384.1L992.0 385.9Q1217.7 532.9 1057.9 752.3Z" fill="#1E875A" stroke="#1E875A"/>
<path d="M1062.1 755.3A271.4 271.4 0 0 1 1057.9 752.3Q1217.7 532.9 1143.1 274.1L1143.6 266.5L1147.9 272.8Q1217.7 532.9 1062.1 755.3Z" fill="#1E875A" stroke="#1E875A"/>
<path d="M1034.8 733.4A271.4 271.4 0 0 1 1032.9 731.7Q1217.7 532.9 1319.8 283.7L1323.8 277.5L1322.1 284.7Q1217.7 532.9 1034.8 733.4Z" fill="#1E875A" stroke="#1E875A"/>
<path d="M1036.5 735.0A271.4 271.4 0 0 1 1034.8 733.4Q1217.7 532.9 1447.1 391.9L1453.9 389.1L1448.3 393.9Q1217.7 532.9 1036.5 735.0Z" fill="#1E875A" stroke="#1E875A"/>
<path d="M1029.8 728.8A271.4 271.4 0 0 1 1028.2 727.3Q1217.7 532.9 949.1 553.0L941.8 552.4L948.9 550.8Q1217.7 532.9 1029.8 728.8Z" fill="#1E875A" stroke="#1E875A"/>
<path d="M1031.3 730.3A271.4 271.4 0 0 1 1029.8 728.8Q1217.7 532.9 988.3 391.7L982.7 387.0L989.4 390.0Q1217.7 532.9 1031.3 730.3Z" fill="#1E875A" stroke="#1E875A"/>
<path d="M1032.9 731.7A271.4 271.4 0 0 1 1031.3 730.3Q1217.7 532.9 1141.1 274.7L1140.0 267.5L1143.1 274.1Q1217.7 532.9 1032.9 731.7Z" fill="#1E875A" stroke="#1E875A"/>
<path d="M1016.3 714.9A271.4 271.4 0 0 1 1014.5 712.9Q1217.7 532.9 1317.5 282.8L1321.4 276.5L1319.8 283.7Q1217.7 532.9 1016.3 714.9Z" fill="#1E875A" stroke="#1E875A"/>
<path d="M1018.0 716.7A271.4 271.4 0 0 1 1016.3 714.9Q1217.7 532.9 1445.8 389.9L1452.6 387.1L1447.1 391.9Q1217.7 532.9 1018.0 716.7Z" fill="#1E875A" stroke="#1E875A"/>
<path d="M1011.7 709.6A271.4 271.4 0 0 1 1010.1 707.8Q1217.7 532.9 949.3 555.3L942.0 554.7L949.1 553.0Q1217.7 532.9 1011.7 709.6Z" fill="#1E875A" stroke="#1E875A"/>
<path d="M1013.1 711.2A271.4 271.4 0 0 1 1011.7 709.6Q1217.7 532.9 987.2 393.5L981.6 388.8L988.3 391.7Q1217.7 532.9 1013.1 711.2Z" fill="#1E875A" stroke="#1E875A"/>
<path d="M1014.5 712.9A271.4 271.4 0 0 1 1013.1 711.2Q1217.7 532.9 1139.0 275.3L1137.9 268.1L1141.1 274.7Q1217.7 532.9 1014.5 712.9Z" fill="#1E875A" stroke="#1E875A"/>
<path d="M1000.4 695.6A271.4 271.4 0 0 1 999.8 694.8Q1217.7 532.9 1486.7 544.0L1493.9 545.5L1486.6 546.4Q1217.7 532.9 1000.4 695.6Z" fill="#1E875A" stroke="#1E875A"/>
<path d="M985.2 673.0A271.4 271.4 0 0 1 980.1 664.2Q1217.7 532.9 1308.3 279.3L1315.5 274.2L1317.5 282.8Q1217.7 532.9 985.2 673.0Z" fill="#BE73AA" stroke="#BE73AA"/>
<path d="M990.4 681.2A271.4 271.4 0 0 1 985.2 673.0Q1217.7 532.9 1440.7 382.0L1449.4 382.0L1445.8 389.9Q1217.7 532.9 990.4 681.2Z" fill="#BE73AA" stroke="#BE73AA"/>
<path d="M972.3 649.0A271.4 271.4 0 0 1 968.6 640.8Q1217.7 532.9 950.1 563.9L942.5 560.3L949.3 555.3Q1217.7 532.9 972.3 649.0Z" fill="#BE73AA" stroke="#BE73AA"/>
<path d="M976.0 656.5A271.4 271.4 0 0 1 972.3 649.0Q1217.7 532.9 983.2 400.4L978.9 393.3L987.2 393.5Q1217.7 532.9 976.0 656.5Z" fill="#BE73AA" stroke="#BE73AA"/>
<path d="M980.1 664.2A271.4 271.4 0 0 1 976.0 656.5Q1217.7 532.9 1130.9 277.9L1132.7 269.7L1139.0 275.3Q1217.7 532.9 980.1 664.2Z" fill="#BE73AA" stroke="#BE73AA"/>
<path d="M960.3 619.2A271.4 271.4 0 0 1 959.3 616.2Q1217.7 532.9 1217.4 263.6L1219.3 256.4L1221.2 263.6Q1217.7 532.9 960.3 619.2Z" fill="#BE73AA" stroke="#BE73AA"/>
<path d="M960.8 620.7A271.4 271.4 0 0 1 960.3 619.2Q1217.7 532.9 1393.2 328.7L1398.7 323.9L1394.8 330.0Q1217.7 532.9 960.8 620.7Z" fill="#BE73AA" stroke="#BE73AA"/>
<path d="M962.0 624.0A271.4 271.4 0 0 1 960.8 620.7Q1217.7 532.9 1479.3 469.0L1486.8 469.4L1480.2 473.1Q1217.7 532.9 962.0 624.0Z" fill="#BE73AA" stroke="#BE73AA"/>
<path d="M958.3 612.9A271.4 271.4 0 0 1 957.8 611.4Q1217.7 532.9 960.8 452.0L954.1 449.0L961.3 450.3Q1217.7 532.9 958.3 612.9Z" fill="#BE73AA" stroke="#BE73AA"/>
<path d="M959.3 616.2A271.4 271.4 0 0 1 958.3 612.9Q1217.7 532.9 1036.0 334.0L1032.8 327.2L1039.2 331.2Q1217.7 532.9 959.3 616.2Z" fill="#BE73AA" stroke="#BE73AA"/>
</g>
<path d="M1479.2 622.0A276.3 276.3 0 0 1 1475.0 633.3L1472.3 632.3A273.4 273.4 0 0 0 1476.4 621.0Z" fill="#375A9B"/>
<path d="M1482.6 611.0A276.3 276.3 0 0 1 1479.2 622.0L1476.4 621.0A273.4 273.4 0 0 0 1479.9 610.2Z" fill="#FCAA1E"/>
<path d="M1467.0 651.9A276.3 276.3 0 0 1 1462.2 661.5L1459.6 660.1A273.4 273.4 0 0 0 1464.4 650.6Z" fill="#19F541"/>
<path d="M1471.1 642.9A276.3 276.3 0 0 1 1467.0 651.9L1464.4 650.6A273.4 273.4 0 0 0 1468.4 641.7Z" fill="#23B955"/>
<path d="M1475.0 633.3A276.3 276.3 0 0 1 1471.1 642.9L1468.4 641.7A273.4 273.4 0 0 0 1472.3 632.3Z" fill="#C3461E"/>
<path d="M1451.2 680.5A276.3 276.3 0 0 1 1450.7 681.3L1448.3 679.7A273.4 273.4 0 0 0 1448.7 679.0Z" fill="#C3461E"/>
<path d="M1451.6 679.8A276.3 276.3 0 0 1 1451.2 680.5L1448.7 679.0A273.4 273.4 0 0 0 1449.2 678.3Z" fill="#375A9B"/>
<path d="M1452.1 679.0A276.3 276.3 0 0 1 1451.6 679.8L1449.2 678.3A273.4 273.4 0 0 0 1449.7 677.5Z" fill="#FCAA1E"/>
<path d="M1450.0 682.4A276.3 276.3 0 0 1 1449.5 683.1L1447.1 681.6A273.4 273.4 0 0 0 1447.6 680.8Z" fill="#19F541"/>
<path d="M1450.4 681.6A276.3 276.3 0 0 1 1450.0 682.4L1447.6 680.8A273.4 273.4 0 0 0 1448.0 680.1Z" fill="#23B955"/>
<path d="M1450.7 681.3A276.3 276.3 0 0 1 1450.4 681.6L1448.0 680.1A273.4 273.4 0 0 0 1448.3 679.7Z" fill="#23B955"/>
<path d="M1439.5 697.5A276.3 276.3 0 0 1 1439.5 697.6L1437.2 695.9A273.4 273.4 0 0 0 1437.2 695.8Z" fill="#C3461E"/>
<path d="M1439.6 697.4A276.3 276.3 0 0 1 1439.5 697.5L1437.2 695.8A273.4 273.4 0 0 0 1437.3 695.7Z" fill="#375A9B"/>
<path d="M1439.7 697.3A276.3 276.3 0 0 1 1439.6 697.4L1437.3 695.7A273.4 273.4 0 0 0 1437.4 695.6Z" fill="#FCAA1E"/>
<path d="M1439.9 697.0A276.3 276.3 0 0 1 1439.7 697.3L1437.4 695.6A273.4 273.4 0 0 0 1437.6 695.3Z" fill="#F52337"/>
<path d="M1439.4 697.7A276.3 276.3 0 0 1 1439.3 697.8L1437.0 696.1A273.4 273.4 0 0 0 1437.1 696.0Z" fill="#19F541"/>
<path d="M1439.5 697.6A276.3 276.3 0 0 1 1439.4 697.7L1437.1 696.0A273.4 273.4 0 0 0 1437.2 695.9Z" fill="#23B955"/>
<path d="M1423.7 716.9A276.3 276.3 0 0 1 1417.1 724.0L1415.0 722.1A273.4 273.4 0 0 0 1421.6 715.0Z" fill="#375A9B"/>
<path d="M1429.8 709.9A276.3 276.3 0 0 1 1423.7 716.9L1421.6 715.0A273.4 273.4 0 0 0 1427.6 708.1Z" fill="#FCAA1E"/>
<path d="M1405.5 735.5A276.3 276.3 0 0 1 1399.1 741.3L1397.2 739.1A273.4 273.4 0 0 0 1403.5 733.4Z" fill="#19F541"/>
<path d="M1411.2 730.0A276.3 276.3 0 0 1 1405.5 735.5L1403.5 733.4A273.4 273.4 0 0 0 1409.2 727.9Z" fill="#23B955"/>
<path d="M1417.1 724.0A276.3 276.3 0 0 1 1411.2 730.0L1409.2 727.9A273.4 273.4 0 0 0 1415.0 722.1Z" fill="#C3461E"/>
<path d="M1385.8 752.1A276.3 276.3 0 0 1 1385.6 752.2L1383.9 750.0A273.4 273.4 0 0 0 1384.0 749.8Z" fill="#C3461E"/>
<path d="M1385.6 752.2A276.3 276.3 0 0 1 1385.4 752.4L1383.7 750.1A273.4 273.4 0 0 0 1383.9 750.0Z" fill="#23B955"/>
<path d="M1363.9 767.3A276.3 276.3 0 0 1 1353.5 773.5L1352.1 771.0A273.4 273.4 0 0 0 1362.3 764.9Z" fill="#375A9B"/>
<path d="M1373.5 761.0A276.3 276.3 0 0 1 1363.9 767.3L1362.3 764.9A273.4 273.4 0 0 0 1371.9 758.7Z" fill="#FCAA1E"/>
<path d="M1335.5 782.8A276.3 276.3 0 0 1 1325.7 787.2L1324.6 784.5A273.4 273.4 0 0 0 1334.3 780.2Z" fill="#19F541"/>
<path d="M1344.3 778.4A276.3 276.3 0 0 1 1335.5 782.8L1334.3 780.2A273.4 273.4 0 0 0 1343.0 775.8Z" fill="#23B955"/>
<path d="M1353.5 773.5A276.3 276.3 0 0 1 1344.3 778.4L1343.0 775.8A273.4 273.4 0 0 0 1352.1 771.0Z" fill="#C3461E"/>
<path d="M1305.4 794.9A276.3 276.3 0 0 1 1302.0 796.0L1301.1 793.2A273.4 273.4 0 0 0 1304.4 792.1Z" fill="#C3461E"/>
<path d="M1307.1 794.3A276.3 276.3 0 0 1 1305.4 794.9L1304.4 792.1A273.4 273.4 0 0 0 1306.2 791.6Z" fill="#375A9B"/>
<path d="M1310.9 793.0A276.3 276.3 0 0 1 1307.1 794.3L1306.2 791.6A273.4 273.4 0 0 0 1309.9 790.3Z" fill="#FCAA1E"/>
<path d="M1298.2 797.1A276.3 276.3 0 0 1 1296.6 797.6L1295.8 794.9A273.4 273.4 0 0 0 1297.4 794.4Z" fill="#19F541"/>
<path d="M1302.0 796.0A276.3 276.3 0 0 1 1298.2 797.1L1297.4 794.4A273.4 273.4 0 0 0 1301.1 793.2Z" fill="#23B955"/>
<path d="M1268.2 804.5A276.3 276.3 0 0 1 1256.4 806.4L1256.0 803.6A273.4 273.4 0 0 0 1267.7 801.7Z" fill="#375A9B"/>
<path d="M1279.4 802.2A276.3 276.3 0 0 1 1268.2 804.5L1267.7 801.7A273.4 273.4 0 0 0 1278.7 799.4Z" fill="#FCAA1E"/>
<path d="M1236.4 808.5A276.3 276.3 0 0 1 1225.8 809.0L1225.7 806.2A273.4 273.4 0 0 0 1236.2 805.7Z" fill="#19F541"/>
<path d="M1246.2 807.7A276.3 276.3 0 0 1 1236.4 808.5L1236.2 805.7A273.4 273.4 0 0 0 1245.9 804.8Z" fill="#23B955"/>
<path d="M1256.4 806.4A276.3 276.3 0 0 1 1246.2 807.7L1245.9 804.8A273.4 273.4 0 0 0 1256.0 803.6Z" fill="#C3461E"/>
<path d="M1197.9 808.4A276.3 276.3 0 0 1 1186.8 807.4L1187.1 804.6A273.4 273.4 0 0 0 1198.1 805.6Z" fill="#375A9B"/>
<path d="M1208.4 809.0A276.3 276.3 0 0 1 1197.9 808.4L1198.1 805.6A273.4 273.4 0 0 0 1208.5 806.1Z" fill="#FCAA1E"/>
<path d="M1168.4 804.7A276.3 276.3 0 0 1 1158.7 802.8L1159.3 800.0A273.4 273.4 0 0 0 1168.9 801.9Z" fill="#19F541"/>
<path d="M1177.3 806.2A276.3 276.3 0 0 1 1168.4 804.7L1168.9 801.9A273.4 273.4 0 0 0 1177.8 803.4Z" fill="#23B955"/>
<path d="M1186.8 807.4A276.3 276.3 0 0 1 1177.3 806.2L1177.8 803.4A273.4 273.4 0 0 0 1187.1 804.6Z" fill="#C3461E"/>
<path d="M1135.8 796.8A276.3 276.3 0 0 1 1128.1 794.2L1129.0 791.5A273.4 273.4 0 0 0 1136.7 794.0Z" fill="#375A9B"/>
<path d="M1143.2 798.9A276.3 276.3 0 0 1 1135.8 796.8L1136.7 794.0A273.4 273.4 0 0 0 1144.0 796.2Z" fill="#FCAA1E"/>
<path d="M1115.3 789.5A276.3 276.3 0 0 1 1108.6 786.7L1109.8 784.1A273.4 273.4 0 0 0 1116.4 786.8Z" fill="#19F541"/>
<path d="M1121.5 791.9A276.3 276.3 0 0 1 1115.3 789.5L1116.4 786.8A273.4 273.4 0 0 0 1122.5 789.2Z" fill="#23B955"/>
<path d="M1128.1 794.2A276.3 276.3 0 0 1 1121.5 791.9L1122.5 789.2A273.4 273.4 0 0 0 1129.0 791.5Z" fill="#C3461E"/>
<path d="M1092.2 779.0A276.3 276.3 0 0 1 1091.4 778.6L1092.7 776.1A273.4 273.4 0 0 0 1093.5 776.5Z" fill="#C3461E"/>
<path d="M1093.0 779.4A276.3 276.3 0 0 1 1092.2 779.0L1093.5 776.5A273.4 273.4 0 0 0 1094.3 776.9Z" fill="#375A9B"/>
<path d="M1093.8 779.8A276.3 276.3 0 0 1 1093.0 779.4L1094.3 776.9A273.4 273.4 0 0 0 1095.0 777.3Z" fill="#FCAA1E"/>
<path d="M1090.6 778.2A276.3 276.3 0 0 1 1083.9 774.6L1085.3 772.1A273.4 273.4 0 0 0 1091.9 775.7Z" fill="#19F541"/>
<path d="M1091.4 778.6A276.3 276.3 0 0 1 1090.6 778.2L1091.9 775.7A273.4 273.4 0 0 0 1092.7 776.1Z" fill="#23B955"/>
<path d="M1064.5 762.8A276.3 276.3 0 0 1 1059.4 759.3L1061.0 757.0A273.4 273.4 0 0 0 1066.1 760.4Z" fill="#375A9B"/>
<path d="M1069.4 766.0A276.3 276.3 0 0 1 1064.5 762.8L1066.1 760.4A273.4 273.4 0 0 0 1071.0 763.6Z" fill="#FCAA1E"/>
<path d="M1050.9 753.2A276.3 276.3 0 0 1 1046.6 749.8L1048.4 747.6A273.4 273.4 0 0 0 1052.7 750.9Z" fill="#19F541"/>
<path d="M1055.0 756.2A276.3 276.3 0 0 1 1050.9 753.2L1052.7 750.9A273.4 273.4 0 0 0 1056.7 753.9Z" fill="#23B955"/>
<path d="M1059.4 759.3A276.3 276.3 0 0 1 1055.0 756.2L1056.7 753.9A273.4 273.4 0 0 0 1061.0 757.0Z" fill="#C3461E"/>
<path d="M1031.5 737.0A276.3 276.3 0 0 1 1029.6 735.3L1031.6 733.2A273.4 273.4 0 0 0 1033.4 734.9Z" fill="#375A9B"/>
<path d="M1033.3 738.7A276.3 276.3 0 0 1 1031.5 737.0L1033.4 734.9A273.4 273.4 0 0 0 1035.2 736.5Z" fill="#FCAA1E"/>
<path d="M1026.5 732.3A276.3 276.3 0 0 1 1024.8 730.7L1026.8 728.7A273.4 273.4 0 0 0 1028.5 730.3Z" fill="#19F541"/>
<path d="M1028.0 733.8A276.3 276.3 0 0 1 1026.5 732.3L1028.5 730.3A273.4 273.4 0 0 0 1030.0 731.7Z" fill="#23B955"/>
<path d="M1029.6 735.3A276.3 276.3 0 0 1 1028.0 733.8L1030.0 731.7A273.4 273.4 0 0 0 1031.6 733.2Z" fill="#C3461E"/>
<path d="M1012.7 718.1A276.3 276.3 0 0 1 1010.9 716.1L1013.1 714.2A273.4 273.4 0 0 0 1014.8 716.2Z" fill="#375A9B"/>
<path d="M1014.4 720.0A276.3 276.3 0 0 1 1012.7 718.1L1014.8 716.2A273.4 273.4 0 0 0 1016.5 718.1Z" fill="#FCAA1E"/>
<path d="M1008.0 712.8A276.3 276.3 0 0 1 1006.4 711.0L1008.6 709.1A273.4 273.4 0 0 0 1010.1 710.9Z" fill="#19F541"/>
<path d="M1009.4 714.4A276.3 276.3 0 0 1 1008.0 712.8L1010.1 710.9A273.4 273.4 0 0 0 1011.6 712.5Z" fill="#23B955"/>
<path d="M1010.9 716.1A276.3 276.3 0 0 1 1009.4 714.4L1011.6 712.5A273.4 273.4 0 0 0 1013.1 714.2Z" fill="#C3461E"/>
<path d="M996.5 698.5A276.3 276.3 0 0 1 996.0 697.7L998.3 696.0A273.4 273.4 0 0 0 998.8 696.8Z" fill="#F52337"/>
<path d="M981.1 675.5A276.3 276.3 0 0 1 975.9 666.6L978.4 665.2A273.4 273.4 0 0 0 983.5 674.1Z" fill="#375A9B"/>
<path d="M986.3 683.9A276.3 276.3 0 0 1 981.1 675.5L983.5 674.1A273.4 273.4 0 0 0 988.7 682.3Z" fill="#FCAA1E"/>
<path d="M968.0 651.1A276.3 276.3 0 0 1 964.2 642.7L966.8 641.6A273.4 273.4 0 0 0 970.5 649.9Z" fill="#19F541"/>
<path d="M971.7 658.7A276.3 276.3 0 0 1 968.0 651.1L970.5 649.9A273.4 273.4 0 0 0 974.3 657.4Z" fill="#23B955"/>
<path d="M975.9 666.6A276.3 276.3 0 0 1 971.7 658.7L974.3 657.4A273.4 273.4 0 0 0 978.4 665.2Z" fill="#C3461E"/>
<path d="M955.7 620.7A276.3 276.3 0 0 1 954.7 617.7L957.4 616.8A273.4 273.4 0 0 0 958.4 619.8Z" fill="#C3461E"/>
<path d="M956.3 622.3A276.3 276.3 0 0 1 955.7 620.7L958.4 619.8A273.4 273.4 0 0 0 959.0 621.4Z" fill="#375A9B"/>
<path d="M957.4 625.7A276.3 276.3 0 0 1 956.3 622.3L959.0 621.4A273.4 273.4 0 0 0 960.1 624.7Z" fill="#FCAA1E"/>
<path d="M953.7 614.3A276.3 276.3 0 0 1 953.2 612.8L956.0 612.0A273.4 273.4 0 0 0 956.4 613.4Z" fill="#19F541"/>
<path d="M954.7 617.7A276.3 276.3 0 0 1 953.7 614.3L956.4 613.4A273.4 273.4 0 0 0 957.4 616.8Z" fill="#23B955"/>
<path d="M1217.3 237.5A295.4 295.4 0 0 1 1226.1 237.6L1225.8 248.9A284.1 284.1 0 0 0 1217.3 248.8Z" fill="#C3461E"/>
<path d="M1243.8 238.7A295.4 295.4 0 0 1 1244.8 238.8L1243.8 250.0A284.1 284.1 0 0 0 1242.8 249.9Z" fill="#C3461E"/>
<path d="M1263.2 241.0A295.4 295.4 0 0 1 1264.3 241.2L1262.5 252.4A284.1 284.1 0 0 0 1261.5 252.2Z" fill="#C3461E"/>
<path d="M1281.2 244.4A295.4 295.4 0 0 1 1281.7 244.5L1279.3 255.6A284.1 284.1 0 0 0 1278.8 255.5Z" fill="#C3461E"/>
<path d="M1299.2 249.0A295.4 295.4 0 0 1 1299.7 249.1L1296.5 260.0A284.1 284.1 0 0 0 1296.0 259.8Z" fill="#C3461E"/>
<path d="M1317.1 254.7A295.4 295.4 0 0 1 1396.4 297.7L1389.6 306.7A284.1 284.1 0 0 0 1313.2 265.4Z" fill="#375A9B"/>
<path d="M1410.2 308.9A295.4 295.4 0 0 1 1413.7 312.0L1406.2 320.4A284.1 284.1 0 0 0 1402.9 317.5Z" fill="#375A9B"/>
<path d="M1425.9 323.4A295.4 295.4 0 0 1 1426.7 324.2L1418.7 332.2A284.1 284.1 0 0 0 1418.0 331.5Z" fill="#375A9B"/>
<path d="M1439.0 337.3A295.4 295.4 0 0 1 1439.7 338.1L1431.2 345.5A284.1 284.1 0 0 0 1430.5 344.8Z" fill="#375A9B"/>
<path d="M1450.7 351.4A295.4 295.4 0 0 1 1451.0 351.8L1442.1 358.7A284.1 284.1 0 0 0 1441.8 358.3Z" fill="#375A9B"/>
<path d="M1462.3 367.4A295.4 295.4 0 0 1 1499.6 444.7L1488.8 448.0A284.1 284.1 0 0 0 1453.0 373.7Z" fill="#FCAA1E"/>
<path d="M1504.6 462.8A295.4 295.4 0 0 1 1506.8 472.3L1495.7 474.7A284.1 284.1 0 0 0 1493.6 465.5Z" fill="#FCAA1E"/>
<path d="M1509.7 488.8A295.4 295.4 0 0 1 1509.9 489.9L1498.7 491.5A284.1 284.1 0 0 0 1498.6 490.5Z" fill="#FCAA1E"/>
<path d="M1512.0 508.3A295.4 295.4 0 0 1 1512.1 509.3L1500.8 510.2A284.1 284.1 0 0 0 1500.7 509.2Z" fill="#FCAA1E"/>
<path d="M1513.0 527.6A295.4 295.4 0 0 1 1513.0 528.1L1501.7 528.3A284.1 284.1 0 0 0 1501.7 527.8Z" fill="#FCAA1E"/>
<path d="M1512.8 545.1A295.4 295.4 0 0 1 1512.7 547.7L1501.4 547.1A284.1 284.1 0 0 0 1501.5 544.7Z" fill="#F52337"/>
<path d="M1511.3 564.7A295.4 295.4 0 0 1 1511.2 566.2L1499.9 564.9A284.1 284.1 0 0 0 1500.1 563.4Z" fill="#F52337"/>
<path d="M1501.0 616.4A295.4 295.4 0 0 1 1479.1 670.4L1469.1 665.1A284.1 284.1 0 0 0 1490.1 613.2Z" fill="#A414FA"/>
<path d="M1468.3 689.2A295.4 295.4 0 0 1 1465.6 693.5L1456.1 687.4A284.1 284.1 0 0 0 1458.7 683.2Z" fill="#A414FA"/>
<path d="M1455.3 708.4A295.4 295.4 0 0 1 1454.7 709.2L1445.6 702.4A284.1 284.1 0 0 0 1446.2 701.7Z" fill="#A414FA"/>
<path d="M1444.5 722.2A295.4 295.4 0 0 1 1411.6 755.7L1404.2 747.2A284.1 284.1 0 0 0 1435.8 714.9Z" fill="#3388FA"/>
<path d="M1397.4 767.3A295.4 295.4 0 0 1 1397.0 767.6L1390.2 758.6A284.1 284.1 0 0 0 1390.6 758.3Z" fill="#3388FA"/>
<path d="M1384.3 776.8A295.4 295.4 0 0 1 1333.2 804.8L1328.8 794.4A284.1 284.1 0 0 0 1377.9 767.5Z" fill="#7328B9"/>
<path d="M1317.3 811.0A295.4 295.4 0 0 1 1302.1 816.0L1298.9 805.1A284.1 284.1 0 0 0 1313.5 800.3Z" fill="#7328B9"/>
<path d="M1283.6 820.8A295.4 295.4 0 0 1 1226.4 828.2L1226.0 816.9A284.1 284.1 0 0 0 1281.1 809.8Z" fill="#1E875A"/>
<path d="M1207.8 828.1A295.4 295.4 0 0 1 1154.6 821.5L1157.0 810.4A284.1 284.1 0 0 0 1208.2 816.8Z" fill="#1E875A"/>
<path d="M1138.1 817.4A295.4 295.4 0 0 1 1101.1 804.3L1105.6 793.9A284.1 284.1 0 0 0 1141.1 806.5Z" fill="#1E875A"/>
<path d="M1085.2 796.9A295.4 295.4 0 0 1 1074.7 791.4L1080.2 781.5A284.1 284.1 0 0 0 1090.3 786.8Z" fill="#1E875A"/>
<path d="M1059.1 782.2A295.4 295.4 0 0 1 1034.7 764.9L1041.7 756.0A284.1 284.1 0 0 0 1065.2 772.6Z" fill="#1E875A"/>
<path d="M1020.5 752.9A295.4 295.4 0 0 1 1011.5 744.5L1019.4 736.3A284.1 284.1 0 0 0 1028.1 744.5Z" fill="#1E875A"/>
<path d="M1000.3 733.0A295.4 295.4 0 0 1 991.8 723.3L1000.5 716.0A284.1 284.1 0 0 0 1008.7 725.3Z" fill="#1E875A"/>
<path d="M981.2 710.0A295.4 295.4 0 0 1 980.6 709.2L989.7 702.4A284.1 284.1 0 0 0 990.3 703.2Z" fill="#1E875A"/>
<path d="M970.3 694.3A295.4 295.4 0 0 1 946.6 650.3L957.0 645.8A284.1 284.1 0 0 0 979.7 688.2Z" fill="#BE73AA"/>
<path d="M939.4 632.1A295.4 295.4 0 0 1 934.9 618.4L945.7 615.1A284.1 284.1 0 0 0 950.1 628.3Z" fill="#BE73AA"/>
<path d="M924.2 567.0A295.4 295.4 0 0 1 925.9 486.8L937.0 488.6A284.1 284.1 0 0 0 935.5 565.7Z" fill="#19F541"/>
<path d="M929.1 469.8A295.4 295.4 0 0 1 931.1 461.3L942.0 464.1A284.1 284.1 0 0 0 940.1 472.3Z" fill="#19F541"/>
<path d="M935.9 444.2A295.4 295.4 0 0 1 937.1 440.3L947.9 443.8A284.1 284.1 0 0 0 946.7 447.6Z" fill="#19F541"/>
<path d="M942.9 424.3A295.4 295.4 0 0 1 943.3 423.3L953.8 427.5A284.1 284.1 0 0 0 953.5 428.5Z" fill="#19F541"/>
<path d="M950.6 406.6A295.4 295.4 0 0 1 950.8 406.1L961.1 411.0A284.1 284.1 0 0 0 960.8 411.4Z" fill="#19F541"/>
<path d="M960.5 387.6A295.4 295.4 0 0 1 1004.6 328.3L1012.8 336.1A284.1 284.1 0 0 0 970.3 393.2Z" fill="#23B955"/>
<path d="M1018.4 314.8A295.4 295.4 0 0 1 1025.8 308.3L1033.1 316.9A284.1 284.1 0 0 0 1026.1 323.1Z" fill="#23B955"/>
<path d="M1039.6 297.2A295.4 295.4 0 0 1 1040.4 296.6L1047.2 305.6A284.1 284.1 0 0 0 1046.4 306.2Z" fill="#23B955"/>
<path d="M1055.6 285.9A295.4 295.4 0 0 1 1056.5 285.3L1062.7 294.8A284.1 284.1 0 0 0 1061.8 295.4Z" fill="#23B955"/>
<path d="M1072.1 275.8A295.4 295.4 0 0 1 1072.5 275.6L1078.1 285.4A284.1 284.1 0 0 0 1077.7 285.7Z" fill="#23B955"/>
<path d="M1088.0 267.5A295.4 295.4 0 0 1 1088.5 267.2L1093.5 277.4A284.1 284.1 0 0 0 1093.0 277.6Z" fill="#23B955"/>
<path d="M1104.5 260.0A295.4 295.4 0 0 1 1104.9 259.8L1109.3 270.3A284.1 284.1 0 0 0 1108.8 270.5Z" fill="#23B955"/>
<path d="M1122.5 253.2A295.4 295.4 0 0 1 1198.6 238.1L1199.3 249.4A284.1 284.1 0 0 0 1126.2 263.9Z" fill="#C3461E"/>
<g font-size="18.1" fill="#000" stroke="#000" stroke-width="0.3">
<text transform="translate(1219.6 231.0) rotate(-89.2)" text-anchor="start" dy="0.355em">CCR1</text>
<text transform="translate(1242.7 232.0) rotate(-84.8)" text-anchor="start" dy="0.355em">NOTCH2</text>
<text transform="translate(1262.6 234.4) rotate(-81.0)" text-anchor="start" dy="0.355em">LILRB1</text>
<text transform="translate(1280.7 237.7) rotate(-77.5)" text-anchor="start" dy="0.355em">CCR2</text>
<text transform="translate(1299.1 242.2) rotate(-73.9)" text-anchor="start" dy="0.355em">IGF2R</text>
<text transform="translate(1359.6 266.4) rotate(-61.5)" text-anchor="start" dy="0.355em">CD4</text>
<text transform="translate(1414.6 304.1) rotate(-48.9)" text-anchor="start" dy="0.355em">CCR1</text>
<text transform="translate(1429.3 317.6) rotate(-45.1)" text-anchor="start" dy="0.355em">NOTCH2</text>
<text transform="translate(1442.8 331.7) rotate(-41.4)" text-anchor="start" dy="0.355em">LILRB1</text>
<text transform="translate(1454.6 345.8) rotate(-37.9)" text-anchor="start" dy="0.355em">IGF2R</text>
<text transform="translate(1488.7 399.9) rotate(-25.7)" text-anchor="start" dy="0.355em">CD4</text>
<text transform="translate(1511.6 464.0) rotate(-12.8)" text-anchor="start" dy="0.355em">CCR1</text>
<text transform="translate(1515.9 486.2) rotate(-8.5)" text-anchor="start" dy="0.355em">LILRB1</text>
<text transform="translate(1518.4 506.1) rotate(-4.7)" text-anchor="start" dy="0.355em">NOTCH2</text>
<text transform="translate(1519.5 525.5) rotate(-1.0)" text-anchor="start" dy="0.355em">IGF2R</text>
<text transform="translate(1519.3 544.5) rotate(2.6)" text-anchor="start" dy="0.355em">CXCR2</text>
<text transform="translate(1518.0 564.0) rotate(6.3)" text-anchor="start" dy="0.355em">IGF2R</text>
<text transform="translate(1498.2 644.3) rotate(22.1)" text-anchor="start" dy="0.355em">HLA−DRA</text>
<text transform="translate(1473.6 693.0) rotate(32.4)" text-anchor="start" dy="0.355em">DLL4</text>
<text transform="translate(1461.5 710.9) rotate(36.5)" text-anchor="start" dy="0.355em">IGF2</text>
<text transform="translate(1434.9 742.6) rotate(44.4)" text-anchor="start" dy="0.355em">HLA−DRB5</text>
<text transform="translate(1402.9 771.3) rotate(52.6)" text-anchor="start" dy="0.355em">CCL2</text>
<text transform="translate(1364.5 796.7) rotate(61.3)" text-anchor="start" dy="0.355em">HLA−DRB5</text>
<text transform="translate(1313.9 819.1) rotate(71.8)" text-anchor="start" dy="0.355em">CCL14</text>
<text transform="translate(1258.2 832.1) rotate(82.7)" text-anchor="start" dy="0.355em">HLA−DRA</text>
<text transform="translate(1182.4 832.7) rotate(277.1)" text-anchor="end" dy="0.355em">HLA−DRB1</text>
<text transform="translate(1119.3 818.3) rotate(289.4)" text-anchor="end" dy="0.355em">HLA−DPA1</text>
<text transform="translate(1078.8 801.0) rotate(297.8)" text-anchor="end" dy="0.355em">HLA−F</text>
<text transform="translate(1044.8 780.4) rotate(305.4)" text-anchor="end" dy="0.355em">HLA−DRB5</text>
<text transform="translate(1013.1 755.0) rotate(313.1)" text-anchor="end" dy="0.355em">HLA−DQB1</text>
<text transform="translate(992.6 734.1) rotate(318.6)" text-anchor="end" dy="0.355em">HLA−DMA</text>
<text transform="translate(977.0 715.2) rotate(323.3)" text-anchor="end" dy="0.355em">CXCL2</text>
<text transform="translate(952.8 677.9) rotate(331.7)" text-anchor="end" dy="0.355em">HLA−DRB5</text>
<text transform="translate(931.6 629.4) rotate(341.8)" text-anchor="end" dy="0.355em">CCL14</text>
<text transform="translate(915.8 528.9) rotate(361.2)" text-anchor="end" dy="0.355em">CD4</text>
<text transform="translate(923.2 466.2) rotate(373.2)" text-anchor="end" dy="0.355em">LILRB1</text>
<text transform="translate(929.6 442.3) rotate(377.9)" text-anchor="end" dy="0.355em">CCR1</text>
<text transform="translate(936.3 423.5) rotate(381.7)" text-anchor="end" dy="0.355em">NOTCH2</text>
<text transform="translate(943.9 405.5) rotate(385.4)" text-anchor="end" dy="0.355em">IGF2R</text>
<text transform="translate(974.1 354.4) rotate(396.7)" text-anchor="end" dy="0.355em">CD4</text>
<text transform="translate(1016.1 308.1) rotate(408.5)" text-anchor="end" dy="0.355em">CCR1</text>
<text transform="translate(1034.4 293.0) rotate(413.0)" text-anchor="end" dy="0.355em">NOTCH2</text>
<text transform="translate(1050.7 281.4) rotate(416.8)" text-anchor="end" dy="0.355em">LILRB1</text>
<text transform="translate(1067.2 271.1) rotate(420.5)" text-anchor="end" dy="0.355em">IGF2R</text>
<text transform="translate(1083.5 262.5) rotate(424.0)" text-anchor="end" dy="0.355em">CCR2</text>
<text transform="translate(1100.2 254.8) rotate(427.5)" text-anchor="end" dy="0.355em">NOTCH1</text>
<text transform="translate(1156.6 237.2) rotate(438.8)" text-anchor="end" dy="0.355em">CD4</text>
</g>
</g>
<g id="bL">
<g fill-opacity="0.6" stroke-opacity="0.5" stroke-width="0.3">
<path d="M638.6 1550.1A241.5 241.5 0 0 1 636.3 1554.9Q421.1 1445.4 425.7 1205.8L428.4 1199.5L430.8 1206.0Q421.1 1445.4 638.6 1550.1Z" fill="#23B955" stroke="#23B955"/>
<path d="M639.0 1549.3A241.5 241.5 0 0 1 638.6 1550.1Q421.1 1445.4 445.3 1207.0L446.4 1200.7L446.1 1207.1Q421.1 1445.4 639.0 1549.3Z" fill="#23B955" stroke="#23B955"/>
<path d="M639.4 1548.6A241.5 241.5 0 0 1 639.0 1549.3Q421.1 1445.4 475.9 1212.2L477.8 1206.0L476.7 1212.3Q421.1 1445.4 639.4 1548.6Z" fill="#23B955" stroke="#23B955"/>
<path d="M649.5 1523.7A241.5 241.5 0 0 1 639.4 1548.6Q421.1 1445.4 506.6 1221.6L521.3 1220.7L530.4 1232.2Q421.1 1445.4 649.5 1523.7Z" fill="#23B955" stroke="#23B955"/>
<path d="M650.5 1520.5A241.5 241.5 0 0 1 649.5 1523.7Q421.1 1445.4 660.6 1445.3L667.1 1446.9L660.6 1448.5Q421.1 1445.4 650.5 1520.5Z" fill="#23B955" stroke="#23B955"/>
<path d="M619.3 1583.2A241.5 241.5 0 0 1 607.6 1598.7Q421.1 1445.4 183.8 1478.8L176.3 1470.2L181.9 1460.2Q421.1 1445.4 619.3 1583.2Z" fill="#23B955" stroke="#23B955"/>
<path d="M620.7 1581.2A241.5 241.5 0 0 1 619.3 1583.2Q421.1 1445.4 188.8 1386.6L182.8 1383.9L189.4 1384.3Q421.1 1445.4 620.7 1581.2Z" fill="#23B955" stroke="#23B955"/>
<path d="M635.3 1556.7A241.5 241.5 0 0 1 620.7 1581.2Q421.1 1445.4 206.0 1339.7L206.9 1324.3L219.6 1315.7Q421.1 1445.4 635.3 1556.7Z" fill="#23B955" stroke="#23B955"/>
<path d="M636.3 1554.9A241.5 241.5 0 0 1 635.3 1556.7Q421.1 1445.4 254.8 1272.8L251.1 1267.5L256.3 1271.5Q421.1 1445.4 636.3 1554.9Z" fill="#23B955" stroke="#23B955"/>
<path d="M595.9 1611.9A241.5 241.5 0 0 1 577.8 1629.0Q421.1 1445.4 656.6 1401.4L664.9 1412.5L659.8 1425.5Q421.1 1445.4 595.9 1611.9Z" fill="#23B955" stroke="#23B955"/>
<path d="M552.3 1648.1A241.5 241.5 0 0 1 537.1 1657.1Q421.1 1445.4 182.9 1419.0L177.7 1409.5L185.4 1401.9Q421.1 1445.4 552.3 1648.1Z" fill="#23B955" stroke="#23B955"/>
<path d="M559.9 1642.9A241.5 241.5 0 0 1 552.3 1648.1Q421.1 1445.4 237.8 1291.0L236.0 1283.3L243.8 1284.2Q421.1 1445.4 559.9 1642.9Z" fill="#23B955" stroke="#23B955"/>
<path d="M577.8 1629.0A241.5 241.5 0 0 1 559.9 1642.9Q421.1 1445.4 388.0 1208.1L398.4 1200.4L410.1 1206.1Q421.1 1445.4 577.8 1629.0Z" fill="#23B955" stroke="#23B955"/>
<path d="M522.0 1664.7A241.5 241.5 0 0 1 521.9 1664.8Q421.1 1445.4 490.2 1216.0L492.3 1209.9L490.6 1216.1Q421.1 1445.4 522.0 1664.7Z" fill="#23B955" stroke="#23B955"/>
<path d="M522.1 1664.7A241.5 241.5 0 0 1 522.0 1664.7Q421.1 1445.4 556.1 1247.5L559.9 1242.3L556.5 1247.7Q421.1 1445.4 522.1 1664.7Z" fill="#23B955" stroke="#23B955"/>
<path d="M522.5 1664.5A241.5 241.5 0 0 1 522.1 1664.7Q421.1 1445.4 658.4 1478.3L664.7 1479.8L658.2 1479.5Q421.1 1445.4 522.5 1664.5Z" fill="#23B955" stroke="#23B955"/>
<path d="M521.8 1664.8A241.5 241.5 0 0 1 521.7 1664.9Q421.1 1445.4 198.8 1355.9L192.9 1353.3L198.9 1355.6Q421.1 1445.4 521.8 1664.8Z" fill="#23B955" stroke="#23B955"/>
<path d="M521.9 1664.8A241.5 241.5 0 0 1 521.8 1664.8Q421.1 1445.4 279.4 1252.1L275.8 1246.8L279.8 1251.9Q421.1 1445.4 521.9 1664.8Z" fill="#23B955" stroke="#23B955"/>
<path d="M506.4 1671.3A241.5 241.5 0 0 1 506.1 1671.4Q421.1 1445.4 425.4 1205.8L425.7 1199.4L425.7 1205.8Q421.1 1445.4 506.4 1671.3Z" fill="#C3461E" stroke="#C3461E"/>
<path d="M506.4 1671.3A241.5 241.5 0 0 1 506.4 1671.3Q421.1 1445.4 445.3 1207.0L445.9 1200.6L445.3 1207.0Q421.1 1445.4 506.4 1671.3Z" fill="#C3461E" stroke="#C3461E"/>
<path d="M506.4 1671.3A241.5 241.5 0 0 1 506.4 1671.3Q421.1 1445.4 475.8 1212.2L477.3 1205.9L475.9 1212.2Q421.1 1445.4 506.4 1671.3Z" fill="#C3461E" stroke="#C3461E"/>
<path d="M507.6 1670.8A241.5 241.5 0 0 1 506.4 1671.3Q421.1 1445.4 505.5 1221.2L508.3 1215.4L506.6 1221.6Q421.1 1445.4 507.6 1670.8Z" fill="#C3461E" stroke="#C3461E"/>
<path d="M507.7 1670.8A241.5 241.5 0 0 1 507.6 1670.8Q421.1 1445.4 660.6 1445.1L667.1 1445.2L660.6 1445.3Q421.1 1445.4 507.7 1670.8Z" fill="#C3461E" stroke="#C3461E"/>
<path d="M504.7 1671.9A241.5 241.5 0 0 1 503.8 1672.2Q421.1 1445.4 183.9 1479.7L177.5 1480.2L183.8 1478.8Q421.1 1445.4 504.7 1671.9Z" fill="#C3461E" stroke="#C3461E"/>
<path d="M504.8 1671.9A241.5 241.5 0 0 1 504.7 1671.9Q421.1 1445.4 188.7 1386.8L182.5 1385.1L188.8 1386.6Q421.1 1445.4 504.8 1671.9Z" fill="#C3461E" stroke="#C3461E"/>
<path d="M506.0 1671.4A241.5 241.5 0 0 1 504.8 1671.9Q421.1 1445.4 205.5 1340.8L200.0 1337.4L206.0 1339.7Q421.1 1445.4 506.0 1671.4Z" fill="#C3461E" stroke="#C3461E"/>
<path d="M506.1 1671.4A241.5 241.5 0 0 1 506.0 1671.4Q421.1 1445.4 254.8 1272.9L250.3 1268.2L254.8 1272.8Q421.1 1445.4 506.1 1671.4Z" fill="#C3461E" stroke="#C3461E"/>
<path d="M488.6 1677.2A241.5 241.5 0 0 1 473.5 1681.1Q421.1 1445.4 653.3 1386.5L661.3 1392.5L656.6 1401.4Q421.1 1445.4 488.6 1677.2Z" fill="#375A9B" stroke="#375A9B"/>
<path d="M453.8 1684.6A241.5 241.5 0 0 1 442.8 1685.9Q421.1 1445.4 182.0 1429.8L176.0 1423.8L182.9 1419.0Q421.1 1445.4 453.8 1684.6Z" fill="#375A9B" stroke="#375A9B"/>
<path d="M459.6 1683.8A241.5 241.5 0 0 1 453.8 1684.6Q421.1 1445.4 234.2 1295.4L231.0 1289.1L237.8 1291.0Q421.1 1445.4 459.6 1683.8Z" fill="#375A9B" stroke="#375A9B"/>
<path d="M473.5 1681.1A241.5 241.5 0 0 1 459.6 1683.8Q421.1 1445.4 374.3 1210.4L380.1 1202.8L388.0 1208.1Q421.1 1445.4 473.5 1681.1Z" fill="#375A9B" stroke="#375A9B"/>
<path d="M420.1 1686.9A241.5 241.5 0 0 1 415.3 1686.8Q421.1 1445.4 586.7 1272.3L592.9 1269.3L590.1 1275.6Q421.1 1445.4 420.1 1686.9Z" fill="#375A9B" stroke="#375A9B"/>
<path d="M426.9 1686.8A241.5 241.5 0 0 1 420.1 1686.9Q421.1 1445.4 638.2 1344.1L645.5 1344.5L641.0 1350.3Q421.1 1445.4 426.9 1686.8Z" fill="#375A9B" stroke="#375A9B"/>
<path d="M415.3 1686.8A241.5 241.5 0 0 1 407.6 1686.5Q421.1 1445.4 332.3 1222.8L333.7 1215.4L339.7 1220.0Q421.1 1445.4 415.3 1686.8Z" fill="#375A9B" stroke="#375A9B"/>
<path d="M391.2 1685.0A241.5 241.5 0 0 1 387.2 1684.5Q421.1 1445.4 636.4 1340.3L643.1 1339.4L638.2 1344.1Q421.1 1445.4 391.2 1685.0Z" fill="#375A9B" stroke="#375A9B"/>
<path d="M387.2 1684.5A241.5 241.5 0 0 1 382.5 1683.8Q421.1 1445.4 327.9 1224.6L327.7 1217.8L332.3 1222.8Q421.1 1445.4 387.2 1684.5Z" fill="#375A9B" stroke="#375A9B"/>
<path d="M364.9 1680.2A241.5 241.5 0 0 1 363.8 1680.0Q421.1 1445.4 460.6 1209.1L462.1 1202.8L461.5 1209.2Q421.1 1445.4 364.9 1680.2Z" fill="#375A9B" stroke="#375A9B"/>
<path d="M366.0 1680.5A241.5 241.5 0 0 1 364.9 1680.2Q421.1 1445.4 543.2 1239.3L546.9 1234.0L543.9 1239.7Q421.1 1445.4 366.0 1680.5Z" fill="#375A9B" stroke="#375A9B"/>
<path d="M367.0 1680.7A241.5 241.5 0 0 1 366.0 1680.5Q421.1 1445.4 660.0 1463.1L666.4 1464.0L659.9 1463.9Q421.1 1445.4 367.0 1680.7Z" fill="#375A9B" stroke="#375A9B"/>
<path d="M362.8 1679.7A241.5 241.5 0 0 1 361.7 1679.5Q421.1 1445.4 193.4 1370.7L187.4 1368.3L193.7 1369.9Q421.1 1445.4 362.8 1679.7Z" fill="#375A9B" stroke="#375A9B"/>
<path d="M363.8 1680.0A241.5 241.5 0 0 1 362.8 1679.7Q421.1 1445.4 267.4 1261.6L263.6 1256.4L268.0 1261.0Q421.1 1445.4 363.8 1680.0Z" fill="#375A9B" stroke="#375A9B"/>
<path d="M346.6 1675.1A241.5 241.5 0 0 1 346.2 1675.0Q421.1 1445.4 636.2 1340.0L642.1 1337.3L636.4 1340.3Q421.1 1445.4 346.6 1675.1Z" fill="#375A9B" stroke="#375A9B"/>
<path d="M346.2 1675.0A241.5 241.5 0 0 1 345.8 1674.8Q421.1 1445.4 327.5 1224.8L325.2 1218.8L327.9 1224.6Q421.1 1445.4 346.2 1675.0Z" fill="#375A9B" stroke="#375A9B"/>
<path d="M299.5 1654.1A241.5 241.5 0 0 1 279.9 1641.3Q421.1 1445.4 568.8 1256.8L582.1 1259.4L586.7 1272.3Q421.1 1445.4 299.5 1654.1Z" fill="#FCAA1E" stroke="#FCAA1E"/>
<path d="M329.2 1668.7A241.5 241.5 0 0 1 299.5 1654.1Q421.1 1445.4 619.5 1311.1L633.9 1322.0L636.2 1340.0Q421.1 1445.4 329.2 1668.7Z" fill="#FCAA1E" stroke="#FCAA1E"/>
<path d="M279.9 1641.3A241.5 241.5 0 0 1 250.9 1616.7Q421.1 1445.4 293.4 1242.6L307.1 1227.3L327.5 1224.8Q421.1 1445.4 279.9 1641.3Z" fill="#FCAA1E" stroke="#FCAA1E"/>
<path d="M238.2 1603.2A241.5 241.5 0 0 1 224.9 1586.3Q421.1 1445.4 647.2 1366.3L656.6 1374.5L653.3 1386.5Q421.1 1445.4 238.2 1603.2Z" fill="#FCAA1E" stroke="#FCAA1E"/>
<path d="M210.1 1563.0A241.5 241.5 0 0 1 203.1 1549.4Q421.1 1445.4 181.5 1444.7L175.2 1437.0L182.0 1429.8Q421.1 1445.4 210.1 1563.0Z" fill="#FCAA1E" stroke="#FCAA1E"/>
<path d="M214.2 1569.9A241.5 241.5 0 0 1 210.1 1563.0Q421.1 1445.4 229.4 1301.6L226.7 1294.5L234.2 1295.4Q421.1 1445.4 214.2 1569.9Z" fill="#FCAA1E" stroke="#FCAA1E"/>
<path d="M224.9 1586.3A241.5 241.5 0 0 1 214.2 1569.9Q421.1 1445.4 355.6 1214.9L363.4 1206.2L374.3 1210.4Q421.1 1445.4 224.9 1586.3Z" fill="#FCAA1E" stroke="#FCAA1E"/>
<path d="M196.3 1533.6A241.5 241.5 0 0 1 192.0 1521.7Q421.1 1445.4 601.0 1287.2L610.9 1288.9L610.6 1298.9Q421.1 1445.4 196.3 1533.6Z" fill="#FCAA1E" stroke="#FCAA1E"/>
</g>
<path d="M642.5 1551.9A245.8 245.8 0 0 1 640.1 1556.8L637.8 1555.7A243.2 243.2 0 0 0 640.2 1550.8Z" fill="#7328B9"/>
<path d="M642.9 1551.2A245.8 245.8 0 0 1 642.5 1551.9L640.2 1550.8A243.2 243.2 0 0 0 640.6 1550.1Z" fill="#7328B9"/>
<path d="M643.3 1550.4A245.8 245.8 0 0 1 642.9 1551.2L640.6 1550.1A243.2 243.2 0 0 0 640.9 1549.3Z" fill="#7328B9"/>
<path d="M653.6 1525.1A245.8 245.8 0 0 1 643.3 1550.4L640.9 1549.3A243.2 243.2 0 0 0 651.1 1524.2Z" fill="#1E875A"/>
<path d="M654.6 1521.9A245.8 245.8 0 0 1 653.6 1525.1L651.1 1524.2A243.2 243.2 0 0 0 652.2 1521.1Z" fill="#BE73AA"/>
<path d="M622.8 1585.7A245.8 245.8 0 0 1 610.9 1601.4L609.0 1599.8A243.2 243.2 0 0 0 620.8 1584.2Z" fill="#A414FA"/>
<path d="M624.3 1583.6A245.8 245.8 0 0 1 622.8 1585.7L620.8 1584.2A243.2 243.2 0 0 0 622.2 1582.2Z" fill="#A414FA"/>
<path d="M639.1 1558.7A245.8 245.8 0 0 1 624.3 1583.6L622.2 1582.2A243.2 243.2 0 0 0 636.9 1557.5Z" fill="#3388FA"/>
<path d="M640.1 1556.8A245.8 245.8 0 0 1 639.1 1558.7L636.9 1557.5A243.2 243.2 0 0 0 637.8 1555.7Z" fill="#3388FA"/>
<path d="M599.0 1614.9A245.8 245.8 0 0 1 580.6 1632.3L579.0 1630.4A243.2 243.2 0 0 0 597.2 1613.1Z" fill="#BE73AA"/>
<path d="M554.6 1651.7A245.8 245.8 0 0 1 539.2 1660.9L537.9 1658.7A243.2 243.2 0 0 0 553.2 1649.6Z" fill="#A414FA"/>
<path d="M562.4 1646.4A245.8 245.8 0 0 1 554.6 1651.7L553.2 1649.6A243.2 243.2 0 0 0 561.0 1644.4Z" fill="#3388FA"/>
<path d="M580.6 1632.3A245.8 245.8 0 0 1 562.4 1646.4L561.0 1644.4A243.2 243.2 0 0 0 579.0 1630.4Z" fill="#7328B9"/>
<path d="M523.8 1668.6A245.8 245.8 0 0 1 523.7 1668.7L522.7 1666.4A243.2 243.2 0 0 0 522.8 1666.3Z" fill="#7328B9"/>
<path d="M523.9 1668.6A245.8 245.8 0 0 1 523.8 1668.6L522.8 1666.3A243.2 243.2 0 0 0 522.9 1666.3Z" fill="#1E875A"/>
<path d="M524.3 1668.4A245.8 245.8 0 0 1 523.9 1668.6L522.9 1666.3A243.2 243.2 0 0 0 523.2 1666.1Z" fill="#BE73AA"/>
<path d="M523.6 1668.8A245.8 245.8 0 0 1 523.5 1668.8L522.4 1666.5A243.2 243.2 0 0 0 522.5 1666.4Z" fill="#A414FA"/>
<path d="M523.7 1668.7A245.8 245.8 0 0 1 523.6 1668.8L522.5 1666.4A243.2 243.2 0 0 0 522.7 1666.4Z" fill="#3388FA"/>
<path d="M507.9 1675.3A245.8 245.8 0 0 1 507.6 1675.4L506.7 1673.0A243.2 243.2 0 0 0 507.0 1672.9Z" fill="#7328B9"/>
<path d="M507.9 1675.3A245.8 245.8 0 0 1 507.9 1675.3L507.0 1672.9A243.2 243.2 0 0 0 507.0 1672.9Z" fill="#7328B9"/>
<path d="M507.9 1675.3A245.8 245.8 0 0 1 507.9 1675.3L507.0 1672.9A243.2 243.2 0 0 0 507.0 1672.9Z" fill="#7328B9"/>
<path d="M509.2 1674.8A245.8 245.8 0 0 1 507.9 1675.3L507.0 1672.9A243.2 243.2 0 0 0 508.2 1672.5Z" fill="#1E875A"/>
<path d="M509.3 1674.8A245.8 245.8 0 0 1 509.2 1674.8L508.2 1672.5A243.2 243.2 0 0 0 508.4 1672.4Z" fill="#BE73AA"/>
<path d="M506.2 1676.0A245.8 245.8 0 0 1 505.3 1676.3L504.4 1673.9A243.2 243.2 0 0 0 505.3 1673.6Z" fill="#A414FA"/>
<path d="M506.3 1675.9A245.8 245.8 0 0 1 506.2 1676.0L505.3 1673.6A243.2 243.2 0 0 0 505.4 1673.5Z" fill="#A414FA"/>
<path d="M507.5 1675.4A245.8 245.8 0 0 1 506.3 1675.9L505.4 1673.5A243.2 243.2 0 0 0 506.6 1673.1Z" fill="#3388FA"/>
<path d="M507.6 1675.4A245.8 245.8 0 0 1 507.5 1675.4L506.6 1673.1A243.2 243.2 0 0 0 506.7 1673.0Z" fill="#3388FA"/>
<path d="M489.8 1681.3A245.8 245.8 0 0 1 474.5 1685.3L473.9 1682.8A243.2 243.2 0 0 0 489.1 1678.9Z" fill="#BE73AA"/>
<path d="M454.4 1688.9A245.8 245.8 0 0 1 443.2 1690.2L443.0 1687.6A243.2 243.2 0 0 0 454.1 1686.4Z" fill="#A414FA"/>
<path d="M460.3 1688.0A245.8 245.8 0 0 1 454.4 1688.9L454.1 1686.4A243.2 243.2 0 0 0 459.9 1685.5Z" fill="#3388FA"/>
<path d="M474.5 1685.3A245.8 245.8 0 0 1 460.3 1688.0L459.9 1685.5A243.2 243.2 0 0 0 473.9 1682.8Z" fill="#7328B9"/>
<path d="M420.1 1691.2A245.8 245.8 0 0 1 415.2 1691.1L415.3 1688.6A243.2 243.2 0 0 0 420.1 1688.6Z" fill="#F52337"/>
<path d="M427.0 1691.1A245.8 245.8 0 0 1 420.1 1691.2L420.1 1688.6A243.2 243.2 0 0 0 426.9 1688.6Z" fill="#BE73AA"/>
<path d="M415.2 1691.1A245.8 245.8 0 0 1 407.3 1690.8L407.5 1688.2A243.2 243.2 0 0 0 415.3 1688.6Z" fill="#7328B9"/>
<path d="M390.7 1689.3A245.8 245.8 0 0 1 386.6 1688.7L386.9 1686.2A243.2 243.2 0 0 0 391.0 1686.8Z" fill="#BE73AA"/>
<path d="M386.6 1688.7A245.8 245.8 0 0 1 381.8 1688.0L382.2 1685.5A243.2 243.2 0 0 0 386.9 1686.2Z" fill="#7328B9"/>
<path d="M363.9 1684.4A245.8 245.8 0 0 1 362.8 1684.2L363.4 1681.7A243.2 243.2 0 0 0 364.5 1682.0Z" fill="#7328B9"/>
<path d="M365.0 1684.7A245.8 245.8 0 0 1 363.9 1684.4L364.5 1682.0A243.2 243.2 0 0 0 365.6 1682.2Z" fill="#1E875A"/>
<path d="M366.1 1684.9A245.8 245.8 0 0 1 365.0 1684.7L365.6 1682.2A243.2 243.2 0 0 0 366.6 1682.5Z" fill="#BE73AA"/>
<path d="M361.7 1683.9A245.8 245.8 0 0 1 360.6 1683.6L361.3 1681.2A243.2 243.2 0 0 0 362.3 1681.4Z" fill="#A414FA"/>
<path d="M362.8 1684.2A245.8 245.8 0 0 1 361.7 1683.9L362.3 1681.4A243.2 243.2 0 0 0 363.4 1681.7Z" fill="#3388FA"/>
<path d="M345.2 1679.2A245.8 245.8 0 0 1 344.8 1679.1L345.6 1676.6A243.2 243.2 0 0 0 346.0 1676.8Z" fill="#BE73AA"/>
<path d="M344.8 1679.1A245.8 245.8 0 0 1 344.4 1678.9L345.2 1676.5A243.2 243.2 0 0 0 345.6 1676.6Z" fill="#7328B9"/>
<path d="M297.4 1657.8A245.8 245.8 0 0 1 277.4 1644.8L278.9 1642.7A243.2 243.2 0 0 0 298.6 1655.6Z" fill="#F52337"/>
<path d="M327.6 1672.7A245.8 245.8 0 0 1 297.4 1657.8L298.6 1655.6A243.2 243.2 0 0 0 328.5 1670.3Z" fill="#BE73AA"/>
<path d="M277.4 1644.8A245.8 245.8 0 0 1 247.8 1619.7L249.6 1617.9A243.2 243.2 0 0 0 278.9 1642.7Z" fill="#7328B9"/>
<path d="M235.0 1606.0A245.8 245.8 0 0 1 221.4 1588.8L223.5 1587.3A243.2 243.2 0 0 0 236.9 1604.3Z" fill="#BE73AA"/>
<path d="M206.4 1565.1A245.8 245.8 0 0 1 199.3 1551.3L201.6 1550.2A243.2 243.2 0 0 0 208.6 1563.8Z" fill="#A414FA"/>
<path d="M210.5 1572.1A245.8 245.8 0 0 1 206.4 1565.1L208.6 1563.8A243.2 243.2 0 0 0 212.7 1570.8Z" fill="#3388FA"/>
<path d="M221.4 1588.8A245.8 245.8 0 0 1 210.5 1572.1L212.7 1570.8A243.2 243.2 0 0 0 223.5 1587.3Z" fill="#7328B9"/>
<path d="M192.3 1535.2A245.8 245.8 0 0 1 187.9 1523.1L190.3 1522.3A243.2 243.2 0 0 0 194.6 1534.2Z" fill="#F52337"/>
<path d="M425.8 1182.6A262.8 262.8 0 0 1 431.8 1182.8L431.4 1192.9A252.7 252.7 0 0 0 425.6 1192.7Z" fill="#7328B9"/>
<path d="M447.6 1183.9A262.8 262.8 0 0 1 448.5 1184.0L447.5 1194.1A252.7 252.7 0 0 0 446.6 1194.0Z" fill="#7328B9"/>
<path d="M464.5 1186.2A262.8 262.8 0 0 1 465.4 1186.4L463.7 1196.3A252.7 252.7 0 0 0 462.8 1196.1Z" fill="#7328B9"/>
<path d="M481.1 1189.6A262.8 262.8 0 0 1 482.0 1189.8L479.7 1199.6A252.7 252.7 0 0 0 478.8 1199.4Z" fill="#7328B9"/>
<path d="M496.9 1193.8A262.8 262.8 0 0 1 497.3 1193.9L494.4 1203.6A252.7 252.7 0 0 0 494.0 1203.4Z" fill="#7328B9"/>
<path d="M513.7 1199.5A262.8 262.8 0 0 1 541.0 1211.6L536.4 1220.5A252.7 252.7 0 0 0 510.1 1208.9Z" fill="#1E875A"/>
<path d="M555.1 1219.3A262.8 262.8 0 0 1 555.8 1219.8L550.7 1228.4A252.7 252.7 0 0 0 549.9 1228.0Z" fill="#1E875A"/>
<path d="M569.2 1228.3A262.8 262.8 0 0 1 569.6 1228.6L563.9 1236.9A252.7 252.7 0 0 0 563.5 1236.7Z" fill="#1E875A"/>
<path d="M583.1 1238.5A262.8 262.8 0 0 1 606.5 1259.2L599.4 1266.3A252.7 252.7 0 0 0 576.9 1246.4Z" fill="#F52337"/>
<path d="M618.5 1271.9A262.8 262.8 0 0 1 629.0 1284.7L621.0 1290.8A252.7 252.7 0 0 0 610.9 1278.6Z" fill="#F52337"/>
<path d="M638.7 1298.1A262.8 262.8 0 0 1 662.3 1341.1L653.0 1345.1A252.7 252.7 0 0 0 630.3 1303.7Z" fill="#BE73AA"/>
<path d="M669.1 1358.6A262.8 262.8 0 0 1 682.9 1423.6L672.9 1424.4A252.7 252.7 0 0 0 659.6 1362.0Z" fill="#BE73AA"/>
<path d="M683.8 1445.1A262.8 262.8 0 0 1 683.8 1448.8L673.8 1448.6A252.7 252.7 0 0 0 673.8 1445.1Z" fill="#BE73AA"/>
<path d="M683.1 1464.8A262.8 262.8 0 0 1 683.1 1465.7L673.0 1464.9A252.7 252.7 0 0 0 673.1 1464.1Z" fill="#BE73AA"/>
<path d="M681.4 1481.4A262.8 262.8 0 0 1 681.2 1482.8L671.2 1481.4A252.7 252.7 0 0 0 671.4 1480.1Z" fill="#BE73AA"/>
<path d="M670.8 1527.2A262.8 262.8 0 0 1 624.1 1612.2L616.3 1605.9A252.7 252.7 0 0 0 661.2 1524.0Z" fill="#23B955"/>
<path d="M611.3 1626.6A262.8 262.8 0 0 1 547.4 1675.9L542.5 1667.0A252.7 252.7 0 0 0 604.1 1619.7Z" fill="#23B955"/>
<path d="M531.4 1683.9A262.8 262.8 0 0 1 530.6 1684.3L526.4 1675.1A252.7 252.7 0 0 0 527.2 1674.8Z" fill="#23B955"/>
<path d="M515.4 1690.7A262.8 262.8 0 0 1 511.1 1692.3L507.7 1682.8A252.7 252.7 0 0 0 511.8 1681.3Z" fill="#C3461E"/>
<path d="M494.6 1697.7A262.8 262.8 0 0 1 444.8 1707.1L443.9 1697.1A252.7 252.7 0 0 0 491.8 1688.0Z" fill="#375A9B"/>
<path d="M427.4 1708.1A262.8 262.8 0 0 1 406.4 1707.8L406.9 1697.7A252.7 252.7 0 0 0 427.2 1698.1Z" fill="#375A9B"/>
<path d="M388.6 1706.2A262.8 262.8 0 0 1 379.1 1704.8L380.7 1694.9A252.7 252.7 0 0 0 389.8 1696.2Z" fill="#375A9B"/>
<path d="M362.2 1701.5A262.8 262.8 0 0 1 356.5 1700.1L358.9 1690.4A252.7 252.7 0 0 0 364.5 1691.7Z" fill="#375A9B"/>
<path d="M340.0 1695.4A262.8 262.8 0 0 1 339.1 1695.1L342.2 1685.5A252.7 252.7 0 0 0 343.1 1685.8Z" fill="#375A9B"/>
<path d="M321.1 1688.4A262.8 262.8 0 0 1 235.8 1631.8L242.9 1624.7A252.7 252.7 0 0 0 324.9 1679.1Z" fill="#FCAA1E"/>
<path d="M222.1 1617.1A262.8 262.8 0 0 1 183.9 1558.6L193.0 1554.3A252.7 252.7 0 0 0 229.7 1610.5Z" fill="#FCAA1E"/>
<path d="M176.4 1541.4A262.8 262.8 0 0 1 171.7 1528.5L181.3 1525.3A252.7 252.7 0 0 0 185.8 1537.7Z" fill="#FCAA1E"/>
<path d="M161.0 1483.0A262.8 262.8 0 0 1 158.7 1461.6L168.8 1461.0A252.7 252.7 0 0 0 170.9 1481.6Z" fill="#A414FA"/>
<path d="M158.3 1444.6A262.8 262.8 0 0 1 162.6 1397.7L172.5 1399.5A252.7 252.7 0 0 0 168.3 1444.7Z" fill="#A414FA"/>
<path d="M166.2 1381.1A262.8 262.8 0 0 1 166.9 1378.4L176.7 1381.0A252.7 252.7 0 0 0 176.0 1383.5Z" fill="#A414FA"/>
<path d="M171.4 1363.5A262.8 262.8 0 0 1 171.6 1362.6L181.2 1365.8A252.7 252.7 0 0 0 180.9 1366.6Z" fill="#A414FA"/>
<path d="M177.3 1347.3A262.8 262.8 0 0 1 177.4 1346.9L186.8 1350.6A252.7 252.7 0 0 0 186.6 1351.0Z" fill="#A414FA"/>
<path d="M184.6 1330.7A262.8 262.8 0 0 1 200.1 1303.1L208.6 1308.6A252.7 252.7 0 0 0 193.7 1335.1Z" fill="#3388FA"/>
<path d="M210.9 1287.7A262.8 262.8 0 0 1 226.7 1268.6L234.1 1275.3A252.7 252.7 0 0 0 218.9 1293.7Z" fill="#3388FA"/>
<path d="M238.7 1256.2A262.8 262.8 0 0 1 240.3 1254.6L247.2 1261.9A252.7 252.7 0 0 0 245.6 1263.4Z" fill="#3388FA"/>
<path d="M252.5 1243.8A262.8 262.8 0 0 1 253.2 1243.2L259.6 1250.9A252.7 252.7 0 0 0 259.0 1251.5Z" fill="#3388FA"/>
<path d="M265.7 1233.4A262.8 262.8 0 0 1 266.1 1233.2L272.0 1241.3A252.7 252.7 0 0 0 271.6 1241.6Z" fill="#3388FA"/>
<path d="M281.1 1223.0A262.8 262.8 0 0 1 331.8 1198.2L335.2 1207.7A252.7 252.7 0 0 0 286.4 1231.5Z" fill="#7328B9"/>
<path d="M349.3 1192.6A262.8 262.8 0 0 1 409.0 1182.9L409.5 1192.9A252.7 252.7 0 0 0 352.0 1202.3Z" fill="#7328B9"/>
<g font-size="19.5" fill="#000" stroke="#000" stroke-width="0.3">
<text transform="translate(429.4 1177.0) rotate(-88.3)" text-anchor="start" dy="0.355em">CD47</text>
<text transform="translate(449.2 1178.2) rotate(-84.1)" text-anchor="start" dy="0.355em">ITGAV_ITGB3</text>
<text transform="translate(466.6 1180.4) rotate(-80.4)" text-anchor="start" dy="0.355em">NRP1_PLXNA2</text>
<text transform="translate(483.8 1183.8) rotate(-76.7)" text-anchor="start" dy="0.355em">CD36</text>
<text transform="translate(499.9 1188.1) rotate(-73.2)" text-anchor="start" dy="0.355em">CALCRL</text>
<text transform="translate(531.5 1199.6) rotate(-66.1)" text-anchor="start" dy="0.355em">CD36</text>
<text transform="translate(560.6 1214.6) rotate(-59.2)" text-anchor="start" dy="0.355em">NRP1_PLXNA2</text>
<text transform="translate(575.1 1223.8) rotate(-55.6)" text-anchor="start" dy="0.355em">CALCRL</text>
<text transform="translate(601.9 1244.7) rotate(-48.5)" text-anchor="start" dy="0.355em">CXCR2</text>
<text transform="translate(631.8 1275.7) rotate(-39.5)" text-anchor="start" dy="0.355em">IL1R2</text>
<text transform="translate(660.4 1318.4) rotate(-28.7)" text-anchor="start" dy="0.355em">ACKR1</text>
<text transform="translate(687.5 1393.1) rotate(-12.0)" text-anchor="start" dy="0.355em">ITGA5_ITGB1</text>
<text transform="translate(692.8 1451.4) rotate(0.3)" text-anchor="start" dy="0.355em">CD47</text>
<text transform="translate(691.8 1470.3) rotate(4.3)" text-anchor="start" dy="0.355em">NRP1_PLXNA2</text>
<text transform="translate(689.8 1487.6) rotate(8.0)" text-anchor="start" dy="0.355em">CALCRL</text>
<text transform="translate(658.1 1579.1) rotate(28.8)" text-anchor="start" dy="0.355em">THBS1</text>
<text transform="translate(586.0 1661.8) rotate(52.4)" text-anchor="start" dy="0.355em">NAMPT</text>
<text transform="translate(534.6 1692.4) rotate(65.3)" text-anchor="start" dy="0.355em">ADM</text>
<text transform="translate(516.5 1699.8) rotate(69.5)" text-anchor="start" dy="0.355em">THBS1</text>
<text transform="translate(472.1 1712.0) rotate(79.3)" text-anchor="start" dy="0.355em">NAMPT</text>
<text transform="translate(417.8 1716.5) rotate(270.9)" text-anchor="end" dy="0.355em">CXCL3</text>
<text transform="translate(383.8 1713.6) rotate(278.1)" text-anchor="end" dy="0.355em">CCL13</text>
<text transform="translate(358.6 1708.7) rotate(283.6)" text-anchor="end" dy="0.355em">SEMA4A</text>
<text transform="translate(338.1 1702.8) rotate(288.1)" text-anchor="end" dy="0.355em">CCL18</text>
<text transform="translate(272.2 1670.4) rotate(303.6)" text-anchor="end" dy="0.355em">CXCL3</text>
<text transform="translate(195.6 1591.8) rotate(326.8)" text-anchor="end" dy="0.355em">NAMPT</text>
<text transform="translate(168.3 1535.5) rotate(340.1)" text-anchor="end" dy="0.355em">IL1B</text>
<text transform="translate(154.3 1471.0) rotate(354.1)" text-anchor="end" dy="0.355em">CD36</text>
<text transform="translate(154.7 1418.6) rotate(365.3)" text-anchor="end" dy="0.355em">ITGA5_ITGB1</text>
<text transform="translate(162.5 1376.6) rotate(374.5)" text-anchor="end" dy="0.355em">CD47</text>
<text transform="translate(167.6 1359.7) rotate(378.3)" text-anchor="end" dy="0.355em">NRP1_PLXNA2</text>
<text transform="translate(173.7 1343.6) rotate(382.0)" text-anchor="end" dy="0.355em">CALCRL</text>
<text transform="translate(188.7 1313.0) rotate(389.3)" text-anchor="end" dy="0.355em">CD36</text>
<text transform="translate(215.8 1274.0) rotate(399.6)" text-anchor="end" dy="0.355em">ITGA5_ITGB1</text>
<text transform="translate(237.0 1251.3) rotate(406.3)" text-anchor="end" dy="0.355em">CD47</text>
<text transform="translate(250.5 1239.3) rotate(410.2)" text-anchor="end" dy="0.355em">NRP1_PLXNA2</text>
<text transform="translate(263.7 1229.0) rotate(413.8)" text-anchor="end" dy="0.355em">CALCRL</text>
<text transform="translate(304.0 1204.6) rotate(424.0)" text-anchor="end" dy="0.355em">ACKR1</text>
<text transform="translate(378.3 1180.6) rotate(440.8)" text-anchor="end" dy="0.355em">ITGA5_ITGB1</text>
<text transform="translate(686.6 1218.5) rotate(-80.6)" text-anchor="start" dy="0.355em">NRP1_PLXNA2</text>
</g>
</g>
<g id="bR">
<g fill-opacity="0.6" stroke-opacity="0.5" stroke-width="0.3">
<path d="M1439.3 1578.4A257.3 257.3 0 0 1 1437.1 1582.0Q1219.0 1445.4 1383.2 1249.9L1389.3 1246.1L1386.5 1252.8Q1219.0 1445.4 1439.3 1578.4Z" fill="#19F541" stroke="#19F541"/>
<path d="M1443.8 1570.6A257.3 257.3 0 0 1 1439.3 1578.4Q1219.0 1445.4 1471.0 1486.3L1477.0 1492.1L1469.4 1495.5Q1219.0 1445.4 1443.8 1570.6Z" fill="#19F541" stroke="#19F541"/>
<path d="M1432.2 1589.5A257.3 257.3 0 0 1 1430.2 1592.3Q1219.0 1445.4 966.4 1409.1L959.8 1406.3L966.9 1405.6Q1219.0 1445.4 1432.2 1589.5Z" fill="#19F541" stroke="#19F541"/>
<path d="M1434.3 1586.3A257.3 257.3 0 0 1 1432.2 1589.5Q1219.0 1445.4 1042.5 1261.1L1039.2 1254.7L1045.4 1258.3Q1219.0 1445.4 1434.3 1586.3Z" fill="#19F541" stroke="#19F541"/>
<path d="M1437.1 1582.0A257.3 257.3 0 0 1 1434.3 1586.3Q1219.0 1445.4 1195.0 1191.3L1197.1 1184.2L1200.3 1190.8Q1219.0 1445.4 1437.1 1582.0Z" fill="#19F541" stroke="#19F541"/>
<path d="M1410.6 1617.1A257.3 257.3 0 0 1 1376.7 1648.7Q1219.0 1445.4 1410.0 1275.9L1430.3 1290.3L1437.9 1314.0Q1219.0 1445.4 1410.6 1617.1Z" fill="#23B955" stroke="#23B955"/>
<path d="M1418.1 1608.4A257.3 257.3 0 0 1 1410.6 1617.1Q1219.0 1445.4 1446.7 1330.0L1455.5 1332.2L1451.7 1340.4Q1219.0 1445.4 1418.1 1608.4Z" fill="#23B955" stroke="#23B955"/>
<path d="M1257.5 1699.8A257.3 257.3 0 0 1 1254.7 1700.2Q1219.0 1445.4 1217.7 1190.1L1219.0 1183.3L1220.3 1190.1Q1219.0 1445.4 1257.5 1699.8Z" fill="#23B955" stroke="#23B955"/>
<path d="M1303.7 1688.3A257.3 257.3 0 0 1 1257.5 1699.8Q1219.0 1445.4 1270.4 1195.3L1294.4 1194.3L1313.8 1208.4Q1219.0 1445.4 1303.7 1688.3Z" fill="#23B955" stroke="#23B955"/>
<path d="M1326.3 1679.3A257.3 257.3 0 0 1 1303.7 1688.3Q1219.0 1445.4 1328.5 1214.8L1342.1 1213.9L1349.0 1225.7Q1219.0 1445.4 1326.3 1679.3Z" fill="#23B955" stroke="#23B955"/>
<path d="M1336.4 1674.4A257.3 257.3 0 0 1 1326.3 1679.3Q1219.0 1445.4 1362.9 1234.5L1371.3 1232.0L1371.6 1240.7Q1219.0 1445.4 1336.4 1674.4Z" fill="#23B955" stroke="#23B955"/>
<path d="M1361.0 1660.0A257.3 257.3 0 0 1 1336.4 1674.4Q1219.0 1445.4 1474.3 1444.6L1480.9 1458.5L1473.0 1471.7Q1219.0 1445.4 1361.0 1660.0Z" fill="#23B955" stroke="#23B955"/>
<path d="M1126.9 1685.6A257.3 257.3 0 0 1 1084.6 1664.8Q1219.0 1445.4 976.7 1525.6L963.9 1505.6L966.4 1481.9Q1219.0 1445.4 1126.9 1685.6Z" fill="#23B955" stroke="#23B955"/>
<path d="M1145.9 1692.1A257.3 257.3 0 0 1 1126.9 1685.6Q1219.0 1445.4 964.6 1466.4L957.2 1457.2L963.8 1447.3Q1219.0 1445.4 1145.9 1692.1Z" fill="#23B955" stroke="#23B955"/>
<path d="M1153.1 1694.1A257.3 257.3 0 0 1 1145.9 1692.1Q1219.0 1445.4 964.1 1431.7L957.5 1427.7L964.6 1424.6Q1219.0 1445.4 1153.1 1694.1Z" fill="#23B955" stroke="#23B955"/>
<path d="M1195.0 1701.5A257.3 257.3 0 0 1 1153.1 1694.1Q1219.0 1445.4 979.4 1357.4L980.9 1335.8L996.4 1320.6Q1219.0 1445.4 1195.0 1701.5Z" fill="#23B955" stroke="#23B955"/>
<path d="M1212.2 1702.6A257.3 257.3 0 0 1 1195.0 1701.5Q1219.0 1445.4 1006.1 1304.6L1005.2 1293.8L1015.7 1291.1Q1219.0 1445.4 1212.2 1702.6Z" fill="#23B955" stroke="#23B955"/>
<path d="M1220.2 1702.7A257.3 257.3 0 0 1 1212.2 1702.6Q1219.0 1445.4 1026.3 1278.0L1023.7 1270.6L1031.4 1272.4Q1219.0 1445.4 1220.2 1702.7Z" fill="#23B955" stroke="#23B955"/>
<path d="M1244.9 1701.4A257.3 257.3 0 0 1 1220.2 1702.7Q1219.0 1445.4 1128.7 1206.6L1137.8 1196.2L1151.2 1199.3Q1219.0 1445.4 1244.9 1701.4Z" fill="#23B955" stroke="#23B955"/>
<path d="M1254.7 1700.2A257.3 257.3 0 0 1 1244.9 1701.4Q1219.0 1445.4 1168.1 1195.3L1171.4 1187.6L1177.3 1193.6Q1219.0 1445.4 1254.7 1700.2Z" fill="#23B955" stroke="#23B955"/>
<path d="M1070.8 1655.6A257.3 257.3 0 0 1 1063.2 1650.1Q1219.0 1445.4 1458.3 1356.3L1465.7 1356.7L1460.2 1361.7Q1219.0 1445.4 1070.8 1655.6Z" fill="#23B955" stroke="#23B955"/>
<path d="M1051.3 1640.5A257.3 257.3 0 0 1 1027.1 1616.7Q1219.0 1445.4 1469.4 1395.5L1478.9 1410.8L1473.7 1428.1Q1219.0 1445.4 1051.3 1640.5Z" fill="#FCAA1E" stroke="#FCAA1E"/>
<path d="M1027.1 1616.7A257.3 257.3 0 0 1 1006.8 1590.8Q1219.0 1445.4 1083.3 1229.2L1093.9 1215.1L1111.5 1213.9Q1219.0 1445.4 1027.1 1616.7Z" fill="#FCAA1E" stroke="#FCAA1E"/>
<path d="M995.4 1572.5A257.3 257.3 0 0 1 994.9 1571.6Q1219.0 1445.4 1236.4 1190.7L1237.3 1183.9L1237.3 1190.8Q1219.0 1445.4 995.4 1572.5Z" fill="#FCAA1E" stroke="#FCAA1E"/>
<path d="M995.8 1573.3A257.3 257.3 0 0 1 995.4 1572.5Q1219.0 1445.4 1253.2 1192.4L1254.6 1185.7L1254.1 1192.5Q1219.0 1445.4 995.8 1573.3Z" fill="#FCAA1E" stroke="#FCAA1E"/>
<path d="M996.1 1573.7A257.3 257.3 0 0 1 995.8 1573.3Q1219.0 1445.4 1398.2 1263.5L1403.1 1258.8L1398.5 1263.8Q1219.0 1445.4 996.1 1573.7Z" fill="#FCAA1E" stroke="#FCAA1E"/>
<path d="M997.3 1575.9A257.3 257.3 0 0 1 996.1 1573.7Q1219.0 1445.4 1465.4 1378.3L1472.3 1377.6L1465.9 1380.5Q1219.0 1445.4 997.3 1575.9Z" fill="#FCAA1E" stroke="#FCAA1E"/>
<path d="M997.8 1576.7A257.3 257.3 0 0 1 997.3 1575.9Q1219.0 1445.4 1465.7 1511.1L1472.2 1513.3L1465.5 1512.0Q1219.0 1445.4 997.8 1576.7Z" fill="#FCAA1E" stroke="#FCAA1E"/>
<path d="M998.3 1577.6A257.3 257.3 0 0 1 997.8 1576.7Q1219.0 1445.4 1461.0 1526.9L1467.3 1529.5L1460.7 1527.8Q1219.0 1445.4 998.3 1577.6Z" fill="#FCAA1E" stroke="#FCAA1E"/>
<path d="M993.7 1569.5A257.3 257.3 0 0 1 993.2 1568.6Q1219.0 1445.4 969.9 1389.8L963.3 1387.9L970.1 1388.9Q1219.0 1445.4 993.7 1569.5Z" fill="#FCAA1E" stroke="#FCAA1E"/>
<path d="M994.2 1570.3A257.3 257.3 0 0 1 993.7 1569.5Q1219.0 1445.4 973.9 1374.3L967.4 1371.9L974.1 1373.4Q1219.0 1445.4 994.2 1570.3Z" fill="#FCAA1E" stroke="#FCAA1E"/>
<path d="M994.6 1571.2A257.3 257.3 0 0 1 994.2 1570.3Q1219.0 1445.4 1056.9 1248.2L1052.9 1242.6L1057.6 1247.6Q1219.0 1445.4 994.6 1571.2Z" fill="#FCAA1E" stroke="#FCAA1E"/>
<path d="M994.9 1571.6A257.3 257.3 0 0 1 994.6 1571.2Q1219.0 1445.4 1070.2 1238.0L1066.4 1232.3L1070.6 1237.8Q1219.0 1445.4 994.9 1571.6Z" fill="#FCAA1E" stroke="#FCAA1E"/>
</g>
<path d="M1443.2 1580.7A261.9 261.9 0 0 1 1441.0 1584.4L1438.6 1583.0A259.1 259.1 0 0 0 1440.9 1579.3Z" fill="#1E875A"/>
<path d="M1447.8 1572.8A261.9 261.9 0 0 1 1443.2 1580.7L1440.9 1579.3A259.1 259.1 0 0 0 1445.4 1571.5Z" fill="#BE73AA"/>
<path d="M1436.0 1592.1A261.9 261.9 0 0 1 1434.0 1594.9L1431.8 1593.4A259.1 259.1 0 0 0 1433.7 1590.5Z" fill="#A414FA"/>
<path d="M1438.1 1588.8A261.9 261.9 0 0 1 1436.0 1592.1L1433.7 1590.5A259.1 259.1 0 0 0 1435.9 1587.3Z" fill="#3388FA"/>
<path d="M1441.0 1584.4A261.9 261.9 0 0 1 1438.1 1588.8L1435.9 1587.3A259.1 259.1 0 0 0 1438.6 1583.0Z" fill="#7328B9"/>
<path d="M1414.1 1620.2A261.9 261.9 0 0 1 1379.5 1652.4L1377.8 1650.2A259.1 259.1 0 0 0 1412.0 1618.3Z" fill="#F52337"/>
<path d="M1421.6 1611.3A261.9 261.9 0 0 1 1414.1 1620.2L1412.0 1618.3A259.1 259.1 0 0 0 1419.5 1609.6Z" fill="#F52337"/>
<path d="M1258.1 1704.3A261.9 261.9 0 0 1 1255.3 1704.7L1254.9 1702.0A259.1 259.1 0 0 0 1257.7 1701.6Z" fill="#7328B9"/>
<path d="M1305.2 1692.7A261.9 261.9 0 0 1 1258.1 1704.3L1257.7 1701.6A259.1 259.1 0 0 0 1304.3 1690.1Z" fill="#1E875A"/>
<path d="M1328.2 1683.4A261.9 261.9 0 0 1 1305.2 1692.7L1304.3 1690.1A259.1 259.1 0 0 0 1327.0 1681.0Z" fill="#1E875A"/>
<path d="M1338.4 1678.5A261.9 261.9 0 0 1 1328.2 1683.4L1327.0 1681.0A259.1 259.1 0 0 0 1337.2 1676.0Z" fill="#1E875A"/>
<path d="M1363.5 1663.8A261.9 261.9 0 0 1 1338.4 1678.5L1337.2 1676.0A259.1 259.1 0 0 0 1362.0 1661.5Z" fill="#BE73AA"/>
<path d="M1125.3 1689.9A261.9 261.9 0 0 1 1082.2 1668.7L1083.7 1666.4A259.1 259.1 0 0 0 1126.2 1687.4Z" fill="#A414FA"/>
<path d="M1144.6 1696.5A261.9 261.9 0 0 1 1125.3 1689.9L1126.2 1687.4A259.1 259.1 0 0 0 1145.4 1693.9Z" fill="#A414FA"/>
<path d="M1152.0 1698.5A261.9 261.9 0 0 1 1144.6 1696.5L1145.4 1693.9A259.1 259.1 0 0 0 1152.7 1695.9Z" fill="#A414FA"/>
<path d="M1194.6 1706.1A261.9 261.9 0 0 1 1152.0 1698.5L1152.7 1695.9A259.1 259.1 0 0 0 1194.8 1703.4Z" fill="#3388FA"/>
<path d="M1212.1 1707.2A261.9 261.9 0 0 1 1194.6 1706.1L1194.8 1703.4A259.1 259.1 0 0 0 1212.2 1704.4Z" fill="#3388FA"/>
<path d="M1220.2 1707.3A261.9 261.9 0 0 1 1212.1 1707.2L1212.2 1704.4A259.1 259.1 0 0 0 1220.2 1704.5Z" fill="#3388FA"/>
<path d="M1245.4 1705.9A261.9 261.9 0 0 1 1220.2 1707.3L1220.2 1704.5A259.1 259.1 0 0 0 1245.1 1703.2Z" fill="#7328B9"/>
<path d="M1255.3 1704.7A261.9 261.9 0 0 1 1245.4 1705.9L1245.1 1703.2A259.1 259.1 0 0 0 1254.9 1702.0Z" fill="#7328B9"/>
<path d="M1068.1 1659.4A261.9 261.9 0 0 1 1060.4 1653.7L1062.0 1651.6A259.1 259.1 0 0 0 1069.7 1657.2Z" fill="#F52337"/>
<path d="M1048.3 1643.9A261.9 261.9 0 0 1 1023.7 1619.8L1025.7 1618.0A259.1 259.1 0 0 0 1050.1 1641.9Z" fill="#BE73AA"/>
<path d="M1023.7 1619.8A261.9 261.9 0 0 1 1003.0 1593.4L1005.3 1591.8A259.1 259.1 0 0 0 1025.7 1618.0Z" fill="#7328B9"/>
<path d="M991.4 1574.7A261.9 261.9 0 0 1 990.9 1573.9L993.2 1572.5A259.1 259.1 0 0 0 993.7 1573.4Z" fill="#7328B9"/>
<path d="M991.9 1575.6A261.9 261.9 0 0 1 991.4 1574.7L993.7 1573.4A259.1 259.1 0 0 0 994.2 1574.3Z" fill="#7328B9"/>
<path d="M992.1 1576.0A261.9 261.9 0 0 1 991.9 1575.6L994.2 1574.3A259.1 259.1 0 0 0 994.5 1574.7Z" fill="#1E875A"/>
<path d="M993.4 1578.2A261.9 261.9 0 0 1 992.1 1576.0L994.5 1574.7A259.1 259.1 0 0 0 995.7 1576.8Z" fill="#F52337"/>
<path d="M993.9 1579.1A261.9 261.9 0 0 1 993.4 1578.2L995.7 1576.8A259.1 259.1 0 0 0 996.2 1577.7Z" fill="#BE73AA"/>
<path d="M994.4 1579.9A261.9 261.9 0 0 1 993.9 1579.1L996.2 1577.7A259.1 259.1 0 0 0 996.7 1578.5Z" fill="#BE73AA"/>
<path d="M989.7 1571.7A261.9 261.9 0 0 1 989.2 1570.8L991.6 1569.5A259.1 259.1 0 0 0 992.0 1570.4Z" fill="#A414FA"/>
<path d="M990.1 1572.6A261.9 261.9 0 0 1 989.7 1571.7L992.0 1570.4A259.1 259.1 0 0 0 992.5 1571.2Z" fill="#A414FA"/>
<path d="M990.6 1573.4A261.9 261.9 0 0 1 990.1 1572.6L992.5 1571.2A259.1 259.1 0 0 0 993.0 1572.1Z" fill="#3388FA"/>
<path d="M990.9 1573.9A261.9 261.9 0 0 1 990.6 1573.4L993.0 1572.1A259.1 259.1 0 0 0 993.2 1572.5Z" fill="#3388FA"/>
<path d="M1217.5 1165.4A280.0 280.0 0 0 1 1220.5 1165.4L1220.4 1176.1A269.3 269.3 0 0 0 1217.6 1176.1Z" fill="#7328B9"/>
<path d="M1238.1 1166.0A280.0 280.0 0 0 1 1239.0 1166.1L1238.3 1176.8A269.3 269.3 0 0 0 1237.3 1176.7Z" fill="#7328B9"/>
<path d="M1256.5 1167.9A280.0 280.0 0 0 1 1257.5 1168.1L1256.0 1178.7A269.3 269.3 0 0 0 1255.1 1178.5Z" fill="#7328B9"/>
<path d="M1275.3 1171.1A280.0 280.0 0 0 1 1323.0 1185.4L1319.0 1195.4A269.3 269.3 0 0 0 1273.2 1181.6Z" fill="#1E875A"/>
<path d="M1339.1 1192.5A280.0 280.0 0 0 1 1361.6 1204.4L1356.1 1213.6A269.3 269.3 0 0 0 1334.5 1202.2Z" fill="#1E875A"/>
<path d="M1376.8 1214.1A280.0 280.0 0 0 1 1386.4 1220.9L1380.0 1229.5A269.3 269.3 0 0 0 1370.8 1223.0Z" fill="#1E875A"/>
<path d="M1399.1 1230.9A280.0 280.0 0 0 1 1402.8 1234.1L1395.7 1242.2A269.3 269.3 0 0 0 1392.2 1239.1Z" fill="#1E875A"/>
<path d="M1415.5 1245.9A280.0 280.0 0 0 1 1415.9 1246.2L1408.3 1253.9A269.3 269.3 0 0 0 1408.0 1253.5Z" fill="#1E875A"/>
<path d="M1428.5 1259.5A280.0 280.0 0 0 1 1459.1 1301.2L1449.9 1306.8A269.3 269.3 0 0 0 1420.4 1266.7Z" fill="#F52337"/>
<path d="M1468.8 1318.8A280.0 280.0 0 0 1 1474.3 1330.2L1464.5 1334.7A269.3 269.3 0 0 0 1459.2 1323.6Z" fill="#F52337"/>
<path d="M1481.4 1347.6A280.0 280.0 0 0 1 1483.6 1353.6L1473.4 1357.1A269.3 269.3 0 0 0 1471.4 1351.4Z" fill="#F52337"/>
<path d="M1489.2 1371.8A280.0 280.0 0 0 1 1489.8 1374.2L1479.5 1376.9A269.3 269.3 0 0 0 1478.9 1374.7Z" fill="#F52337"/>
<path d="M1493.6 1390.6A280.0 280.0 0 0 1 1498.4 1426.5L1487.7 1427.2A269.3 269.3 0 0 0 1483.1 1392.7Z" fill="#BE73AA"/>
<path d="M1499.0 1444.5A280.0 280.0 0 0 1 1497.6 1474.3L1486.9 1473.2A269.3 269.3 0 0 0 1488.3 1444.6Z" fill="#BE73AA"/>
<path d="M1495.4 1490.3A280.0 280.0 0 0 1 1493.6 1500.4L1483.1 1498.3A269.3 269.3 0 0 0 1484.8 1488.6Z" fill="#BE73AA"/>
<path d="M1489.6 1517.5A280.0 280.0 0 0 1 1489.4 1518.4L1479.0 1515.7A269.3 269.3 0 0 0 1479.2 1514.7Z" fill="#BE73AA"/>
<path d="M1484.4 1534.8A280.0 280.0 0 0 1 1484.1 1535.7L1473.9 1532.3A269.3 269.3 0 0 0 1474.2 1531.4Z" fill="#BE73AA"/>
<path d="M1463.7 1581.7A280.0 280.0 0 0 1 1448.9 1605.3L1440.1 1599.2A269.3 269.3 0 0 0 1454.3 1576.5Z" fill="#19F541"/>
<path d="M1435.7 1622.8A280.0 280.0 0 0 1 1390.6 1666.7L1384.0 1658.2A269.3 269.3 0 0 0 1427.4 1616.0Z" fill="#23B955"/>
<path d="M1373.5 1678.9A280.0 280.0 0 0 1 1072.8 1684.1L1078.4 1675.0A269.3 269.3 0 0 0 1367.6 1670.0Z" fill="#23B955"/>
<path d="M1057.7 1674.2A280.0 280.0 0 0 1 1049.4 1668.1L1055.9 1659.6A269.3 269.3 0 0 0 1063.8 1665.4Z" fill="#23B955"/>
<path d="M1036.5 1657.7A280.0 280.0 0 0 1 988.0 1603.6L996.9 1597.6A269.3 269.3 0 0 0 1043.5 1649.6Z" fill="#FCAA1E"/>
<path d="M978.8 1589.2A280.0 280.0 0 0 1 973.2 1579.5L982.7 1574.4A269.3 269.3 0 0 0 988.0 1583.7Z" fill="#FCAA1E"/>
<path d="M953.2 1533.4A280.0 280.0 0 0 1 941.9 1485.4L952.5 1483.9A269.3 269.3 0 0 0 963.4 1530.0Z" fill="#A414FA"/>
<path d="M940.0 1468.4A280.0 280.0 0 0 1 939.1 1447.5L949.8 1447.4A269.3 269.3 0 0 0 950.7 1467.6Z" fill="#A414FA"/>
<path d="M939.5 1430.4A280.0 280.0 0 0 1 940.0 1422.6L950.7 1423.4A269.3 269.3 0 0 0 950.2 1430.9Z" fill="#A414FA"/>
<path d="M941.9 1405.6A280.0 280.0 0 0 1 942.5 1401.7L953.1 1403.4A269.3 269.3 0 0 0 952.5 1407.1Z" fill="#A414FA"/>
<path d="M945.8 1384.4A280.0 280.0 0 0 1 946.0 1383.5L956.4 1385.8A269.3 269.3 0 0 0 956.2 1386.8Z" fill="#A414FA"/>
<path d="M950.1 1367.4A280.0 280.0 0 0 1 950.4 1366.5L960.7 1369.5A269.3 269.3 0 0 0 960.4 1370.4Z" fill="#A414FA"/>
<path d="M956.2 1348.8A280.0 280.0 0 0 1 974.8 1308.5L984.2 1313.7A269.3 269.3 0 0 0 966.3 1352.5Z" fill="#3388FA"/>
<path d="M985.5 1291.0A280.0 280.0 0 0 1 996.0 1276.2L1004.5 1282.7A269.3 269.3 0 0 0 994.4 1296.9Z" fill="#3388FA"/>
<path d="M1007.7 1261.8A280.0 280.0 0 0 1 1013.2 1255.6L1021.1 1262.9A269.3 269.3 0 0 0 1015.8 1268.8Z" fill="#3388FA"/>
<path d="M1025.3 1243.2A280.0 280.0 0 0 1 1028.5 1240.2L1035.8 1248.1A269.3 269.3 0 0 0 1032.8 1251.0Z" fill="#3388FA"/>
<path d="M1041.2 1229.1A280.0 280.0 0 0 1 1042.0 1228.5L1048.8 1236.8A269.3 269.3 0 0 0 1048.1 1237.4Z" fill="#3388FA"/>
<path d="M1055.8 1217.9A280.0 280.0 0 0 1 1056.2 1217.6L1062.4 1226.4A269.3 269.3 0 0 0 1062.0 1226.6Z" fill="#3388FA"/>
<path d="M1070.2 1208.3A280.0 280.0 0 0 1 1101.1 1191.5L1105.6 1201.2A269.3 269.3 0 0 0 1075.9 1217.3Z" fill="#7328B9"/>
<path d="M1120.0 1183.5A280.0 280.0 0 0 1 1144.6 1175.5L1147.5 1185.8A269.3 269.3 0 0 0 1123.8 1193.5Z" fill="#7328B9"/>
<path d="M1163.2 1171.0A280.0 280.0 0 0 1 1173.3 1169.2L1175.0 1179.8A269.3 269.3 0 0 0 1165.3 1181.5Z" fill="#7328B9"/>
<path d="M1192.6 1166.6A280.0 280.0 0 0 1 1198.5 1166.2L1199.3 1176.9A269.3 269.3 0 0 0 1193.7 1177.3Z" fill="#7328B9"/>
<g font-size="19.2" fill="#000" stroke="#000" stroke-width="0.3">
<text transform="translate(1220.5 1160.9) rotate(450.0)" text-anchor="end" dy="0.355em">KDR</text>
<text transform="translate(1240.5 1161.7) rotate(-86.0)" text-anchor="start" dy="0.355em">TNFRSF1B</text>
<text transform="translate(1259.4 1163.8) rotate(-82.2)" text-anchor="start" dy="0.355em">TNFRSF1A</text>
<text transform="translate(1302.9 1173.5) rotate(-73.3)" text-anchor="start" dy="0.355em">FLT1</text>
<text transform="translate(1355.0 1195.4) rotate(-62.0)" text-anchor="start" dy="0.355em">FLT1_KDR</text>
<text transform="translate(1386.8 1215.3) rotate(-54.5)" text-anchor="start" dy="0.355em">KDR</text>
<text transform="translate(1406.4 1230.9) rotate(-49.5)" text-anchor="start" dy="0.355em">LIFR_IL6ST</text>
<text transform="translate(1421.4 1244.9) rotate(-45.4)" text-anchor="start" dy="0.355em">TNFRSF1B</text>
<text transform="translate(1450.9 1279.5) rotate(-36.3)" text-anchor="start" dy="0.355em">FPR1</text>
<text transform="translate(1478.1 1325.5) rotate(-25.6)" text-anchor="start" dy="0.355em">FPR2</text>
<text transform="translate(1489.0 1352.4) rotate(-19.8)" text-anchor="start" dy="0.355em">IL1R2</text>
<text transform="translate(1496.0 1375.3) rotate(-15.0)" text-anchor="start" dy="0.355em">TNFRSF1B</text>
<text transform="translate(1503.0 1411.6) rotate(-7.6)" text-anchor="start" dy="0.355em">ACKR1</text>
<text transform="translate(1504.8 1463.7) rotate(2.9)" text-anchor="start" dy="0.355em">FLT1</text>
<text transform="translate(1500.3 1500.4) rotate(10.3)" text-anchor="start" dy="0.355em">LIFR_IL6ST</text>
<text transform="translate(1495.0 1523.5) rotate(15.0)" text-anchor="start" dy="0.355em">TNFRSF1A</text>
<text transform="translate(1489.5 1541.1) rotate(18.7)" text-anchor="start" dy="0.355em">TNFRSF1B</text>
<text transform="translate(1460.9 1600.6) rotate(32.0)" text-anchor="start" dy="0.355em">OSM</text>
<text transform="translate(1417.4 1653.8) rotate(45.8)" text-anchor="start" dy="0.355em">ANXA1</text>
<text transform="translate(1222.5 1733.9) rotate(89.0)" text-anchor="start" dy="0.355em">VEGFA</text>
<text transform="translate(1048.6 1677.9) rotate(306.2)" text-anchor="end" dy="0.355em">IL1B</text>
<text transform="translate(1004.7 1637.9) rotate(318.1)" text-anchor="end" dy="0.355em">CCL2</text>
<text transform="translate(969.6 1588.8) rotate(330.2)" text-anchor="end" dy="0.355em">TNF</text>
<text transform="translate(939.7 1512.2) rotate(346.7)" text-anchor="end" dy="0.355em">FLT1</text>
<text transform="translate(932.5 1459.3) rotate(357.4)" text-anchor="end" dy="0.355em">FLT1_KDR</text>
<text transform="translate(933.0 1427.0) rotate(363.9)" text-anchor="end" dy="0.355em">KDR</text>
<text transform="translate(935.6 1403.6) rotate(368.6)" text-anchor="end" dy="0.355em">LIFR_IL6ST</text>
<text transform="translate(939.5 1383.5) rotate(372.7)" text-anchor="end" dy="0.355em">TNFRSF1B</text>
<text transform="translate(944.0 1366.0) rotate(376.3)" text-anchor="end" dy="0.355em">TNFRSF1A</text>
<text transform="translate(959.0 1326.5) rotate(384.7)" text-anchor="end" dy="0.355em">FLT1</text>
<text transform="translate(985.7 1280.7) rotate(395.3)" text-anchor="end" dy="0.355em">FLT1_KDR</text>
<text transform="translate(1006.1 1255.3) rotate(401.8)" text-anchor="end" dy="0.355em">KDR</text>
<text transform="translate(1023.2 1238.0) rotate(406.7)" text-anchor="end" dy="0.355em">LIFR_IL6ST</text>
<text transform="translate(1038.3 1224.9) rotate(410.7)" text-anchor="end" dy="0.355em">TNFRSF1B</text>
<text transform="translate(1053.1 1213.7) rotate(414.4)" text-anchor="end" dy="0.355em">TNFRSF1A</text>
<text transform="translate(1083.3 1194.9) rotate(421.5)" text-anchor="end" dy="0.355em">ACKR1</text>
<text transform="translate(1131.5 1174.5) rotate(431.9)" text-anchor="end" dy="0.355em">FLT1</text>
<text transform="translate(1168.4 1165.4) rotate(439.5)" text-anchor="end" dy="0.355em">FLT1_KDR</text>
<text transform="translate(1196.5 1161.8) rotate(445.2)" text-anchor="end" dy="0.355em">LIFR_IL6ST</text>
</g>
</g>
<g id="cL">
<g fill-opacity="0.6" stroke-opacity="0.5" stroke-width="0.3">
<path d="M524.3 2598.9A266.5 266.5 0 0 1 512.0 2604.5Q407.4 2359.4 516.8 2118.7L525.7 2115.0L528.4 2124.3Q407.4 2359.4 524.3 2598.9Z" fill="#F52337" stroke="#F52337"/>
<path d="M552.5 2582.9A266.5 266.5 0 0 1 524.3 2598.9Q407.4 2359.4 542.6 2132.2L559.7 2134.7L568.3 2149.6Q407.4 2359.4 552.5 2582.9Z" fill="#F52337" stroke="#F52337"/>
<path d="M562.4 2576.1A266.5 266.5 0 0 1 552.5 2582.9Q407.4 2359.4 582.3 2161.1L591.4 2159.8L590.8 2169.0Q407.4 2359.4 562.4 2576.1Z" fill="#F52337" stroke="#F52337"/>
<path d="M586.1 2557.0A266.5 266.5 0 0 1 562.4 2576.1Q407.4 2359.4 603.1 2181.6L618.1 2188.2L621.5 2204.2Q407.4 2359.4 586.1 2557.0Z" fill="#F52337" stroke="#F52337"/>
<path d="M646.9 2476.2A266.5 266.5 0 0 1 586.1 2557.0Q407.4 2359.4 632.3 2220.4L660.6 2261.4L667.3 2310.8Q407.4 2359.4 646.9 2476.2Z" fill="#F52337" stroke="#F52337"/>
<path d="M388.7 2625.2A266.5 266.5 0 0 1 322.9 2612.1Q407.4 2359.4 152.9 2431.0L139.0 2400.5L143.1 2367.3Q407.4 2359.4 388.7 2625.2Z" fill="#F52337" stroke="#F52337"/>
<path d="M427.3 2625.1A266.5 266.5 0 0 1 388.7 2625.2Q407.4 2359.4 160.1 2265.9L160.8 2245.9L175.5 2232.4Q407.4 2359.4 427.3 2625.1Z" fill="#F52337" stroke="#F52337"/>
<path d="M512.0 2604.5A266.5 266.5 0 0 1 427.3 2625.1Q407.4 2359.4 230.8 2162.7L260.2 2131.2L301.0 2117.4Q407.4 2359.4 512.0 2604.5Z" fill="#F52337" stroke="#F52337"/>
<path d="M276.4 2591.4A266.5 266.5 0 0 1 263.8 2583.9Q407.4 2359.4 447.6 2098.1L455.7 2092.2L461.3 2100.6Q407.4 2359.4 276.4 2591.4Z" fill="#F52337" stroke="#F52337"/>
<path d="M298.0 2602.4A266.5 266.5 0 0 1 276.4 2591.4Q407.4 2359.4 670.2 2330.0L678.3 2341.0L671.7 2353.0Q407.4 2359.4 298.0 2602.4Z" fill="#F52337" stroke="#F52337"/>
<path d="M305.1 2605.4A266.5 266.5 0 0 1 298.0 2602.4Q407.4 2359.4 671.6 2369.2L678.5 2373.2L671.2 2376.6Q407.4 2359.4 305.1 2605.4Z" fill="#F52337" stroke="#F52337"/>
<path d="M234.6 2562.2A266.5 266.5 0 0 1 223.4 2552.1Q407.4 2359.4 146.2 2318.1L140.5 2309.8L148.9 2304.0Q407.4 2359.4 234.6 2562.2Z" fill="#F52337" stroke="#F52337"/>
<path d="M242.8 2569.0A266.5 266.5 0 0 1 234.6 2562.2Q407.4 2359.4 184.7 2216.8L181.6 2208.6L190.4 2208.4Q407.4 2359.4 242.8 2569.0Z" fill="#F52337" stroke="#F52337"/>
<path d="M259.8 2581.2A266.5 266.5 0 0 1 242.8 2569.0Q407.4 2359.4 317.4 2110.8L324.6 2100.8L336.4 2104.7Q407.4 2359.4 259.8 2581.2Z" fill="#F52337" stroke="#F52337"/>
<path d="M263.8 2583.9A266.5 266.5 0 0 1 259.8 2581.2Q407.4 2359.4 353.0 2100.7L353.9 2093.2L357.6 2099.7Q407.4 2359.4 263.8 2583.9Z" fill="#F52337" stroke="#F52337"/>
<path d="M209.7 2538.0A266.5 266.5 0 0 1 208.0 2536.2Q407.4 2359.4 499.4 2111.5L503.0 2105.3L501.6 2112.3Q407.4 2359.4 209.7 2538.0Z" fill="#F52337" stroke="#F52337"/>
<path d="M211.7 2540.2A266.5 266.5 0 0 1 209.7 2538.0Q407.4 2359.4 666.7 2410.8L673.4 2413.6L666.2 2413.5Q407.4 2359.4 211.7 2540.2Z" fill="#F52337" stroke="#F52337"/>
<path d="M204.8 2532.4A266.5 266.5 0 0 1 193.9 2518.9Q407.4 2359.4 143.1 2351.2L136.4 2342.7L144.1 2335.1Q407.4 2359.4 204.8 2532.4Z" fill="#F52337" stroke="#F52337"/>
<path d="M206.7 2534.7A266.5 266.5 0 0 1 204.8 2532.4Q407.4 2359.4 216.2 2176.8L212.0 2170.9L218.1 2174.8Q407.4 2359.4 206.7 2534.7Z" fill="#F52337" stroke="#F52337"/>
<path d="M208.0 2536.2A266.5 266.5 0 0 1 206.7 2534.7Q407.4 2359.4 393.0 2095.4L393.6 2088.3L394.9 2095.3Q407.4 2359.4 208.0 2536.2Z" fill="#F52337" stroke="#F52337"/>
<path d="M177.2 2493.6A266.5 266.5 0 0 1 176.7 2492.7Q407.4 2359.4 412.0 2095.0L412.6 2088.0L413.0 2095.1Q407.4 2359.4 177.2 2493.6Z" fill="#F52337" stroke="#F52337"/>
<path d="M177.7 2494.4A266.5 266.5 0 0 1 177.2 2493.6Q407.4 2359.4 429.7 2095.9L430.7 2088.9L430.6 2096.0Q407.4 2359.4 177.7 2494.4Z" fill="#F52337" stroke="#F52337"/>
<path d="M181.4 2500.5A266.5 266.5 0 0 1 177.7 2494.4Q407.4 2359.4 477.6 2104.5L482.6 2098.5L483.8 2106.3Q407.4 2359.4 181.4 2500.5Z" fill="#F52337" stroke="#F52337"/>
<path d="M183.0 2503.1A266.5 266.5 0 0 1 181.4 2500.5Q407.4 2359.4 669.9 2391.3L676.7 2393.5L669.5 2394.0Q407.4 2359.4 183.0 2503.1Z" fill="#F52337" stroke="#F52337"/>
<path d="M184.1 2504.8A266.5 266.5 0 0 1 183.0 2503.1Q407.4 2359.4 662.3 2429.7L668.9 2432.5L661.8 2431.4Q407.4 2359.4 184.1 2504.8Z" fill="#F52337" stroke="#F52337"/>
<path d="M171.3 2482.9A266.5 266.5 0 0 1 168.1 2476.6Q407.4 2359.4 152.7 2288.3L146.8 2283.2L154.5 2282.1Q407.4 2359.4 171.3 2482.9Z" fill="#F52337" stroke="#F52337"/>
<path d="M175.7 2490.9A266.5 266.5 0 0 1 171.3 2482.9Q407.4 2359.4 200.1 2195.4L197.2 2187.6L205.3 2188.9Q407.4 2359.4 175.7 2490.9Z" fill="#F52337" stroke="#F52337"/>
<path d="M176.7 2492.7A266.5 266.5 0 0 1 175.7 2490.9Q407.4 2359.4 374.5 2097.1L374.6 2089.9L376.4 2096.8Q407.4 2359.4 176.7 2492.7Z" fill="#F52337" stroke="#F52337"/>
</g>
<path d="M526.4 2603.1A271.2 271.2 0 0 1 513.8 2608.9L512.7 2606.3A268.4 268.4 0 0 0 525.1 2600.6Z" fill="#19F541"/>
<path d="M555.0 2586.9A271.2 271.2 0 0 1 526.4 2603.1L525.1 2600.6A268.4 268.4 0 0 0 553.5 2584.5Z" fill="#23B955"/>
<path d="M565.2 2580.0A271.2 271.2 0 0 1 555.0 2586.9L553.5 2584.5A268.4 268.4 0 0 0 563.6 2577.7Z" fill="#23B955"/>
<path d="M589.3 2560.5A271.2 271.2 0 0 1 565.2 2580.0L563.6 2577.7A268.4 268.4 0 0 0 587.4 2558.5Z" fill="#C3461E"/>
<path d="M651.2 2478.2A271.2 271.2 0 0 1 589.3 2560.5L587.4 2558.5A268.4 268.4 0 0 0 648.7 2477.0Z" fill="#BE73AA"/>
<path d="M388.4 2629.9A271.2 271.2 0 0 1 321.4 2616.6L322.2 2613.9A268.4 268.4 0 0 0 388.6 2627.1Z" fill="#A414FA"/>
<path d="M427.6 2629.9A271.2 271.2 0 0 1 388.4 2629.9L388.6 2627.1A268.4 268.4 0 0 0 427.4 2627.0Z" fill="#3388FA"/>
<path d="M513.8 2608.9A271.2 271.2 0 0 1 427.6 2629.9L427.4 2627.0A268.4 268.4 0 0 0 512.7 2606.3Z" fill="#7328B9"/>
<path d="M274.0 2595.6A271.2 271.2 0 0 1 261.3 2587.9L262.8 2585.5A268.4 268.4 0 0 0 275.4 2593.1Z" fill="#1E875A"/>
<path d="M296.0 2606.7A271.2 271.2 0 0 1 274.0 2595.6L275.4 2593.1A268.4 268.4 0 0 0 297.2 2604.1Z" fill="#BE73AA"/>
<path d="M303.3 2609.8A271.2 271.2 0 0 1 296.0 2606.7L297.2 2604.1A268.4 268.4 0 0 0 304.4 2607.2Z" fill="#BE73AA"/>
<path d="M231.5 2565.8A271.2 271.2 0 0 1 220.1 2555.5L222.0 2553.5A268.4 268.4 0 0 0 233.3 2563.7Z" fill="#A414FA"/>
<path d="M239.9 2572.7A271.2 271.2 0 0 1 231.5 2565.8L233.3 2563.7A268.4 268.4 0 0 0 241.6 2570.5Z" fill="#3388FA"/>
<path d="M257.2 2585.2A271.2 271.2 0 0 1 239.9 2572.7L241.6 2570.5A268.4 268.4 0 0 0 258.7 2582.8Z" fill="#7328B9"/>
<path d="M261.3 2587.9A271.2 271.2 0 0 1 257.2 2585.2L258.7 2582.8A268.4 268.4 0 0 0 262.8 2585.5Z" fill="#7328B9"/>
<path d="M206.2 2541.2A271.2 271.2 0 0 1 204.5 2539.3L206.6 2537.5A268.4 268.4 0 0 0 208.2 2539.3Z" fill="#1E875A"/>
<path d="M208.2 2543.4A271.2 271.2 0 0 1 206.2 2541.2L208.2 2539.3A268.4 268.4 0 0 0 210.3 2541.5Z" fill="#BE73AA"/>
<path d="M201.2 2535.5A271.2 271.2 0 0 1 190.1 2521.7L192.4 2520.0A268.4 268.4 0 0 0 203.3 2533.7Z" fill="#A414FA"/>
<path d="M203.1 2537.8A271.2 271.2 0 0 1 201.2 2535.5L203.3 2533.7A268.4 268.4 0 0 0 205.3 2536.0Z" fill="#3388FA"/>
<path d="M204.5 2539.3A271.2 271.2 0 0 1 203.1 2537.8L205.3 2536.0A268.4 268.4 0 0 0 206.6 2537.5Z" fill="#7328B9"/>
<path d="M173.1 2496.0A271.2 271.2 0 0 1 172.6 2495.1L175.0 2493.7A268.4 268.4 0 0 0 175.5 2494.5Z" fill="#7328B9"/>
<path d="M173.6 2496.9A271.2 271.2 0 0 1 173.1 2496.0L175.5 2494.5A268.4 268.4 0 0 0 176.0 2495.4Z" fill="#7328B9"/>
<path d="M177.4 2503.0A271.2 271.2 0 0 1 173.6 2496.9L176.0 2495.4A268.4 268.4 0 0 0 179.7 2501.5Z" fill="#1E875A"/>
<path d="M179.0 2505.7A271.2 271.2 0 0 1 177.4 2503.0L179.7 2501.5A268.4 268.4 0 0 0 181.4 2504.1Z" fill="#BE73AA"/>
<path d="M180.1 2507.4A271.2 271.2 0 0 1 179.0 2505.7L181.4 2504.1A268.4 268.4 0 0 0 182.5 2505.9Z" fill="#BE73AA"/>
<path d="M167.1 2485.1A271.2 271.2 0 0 1 163.8 2478.7L166.4 2477.4A268.4 268.4 0 0 0 169.6 2483.8Z" fill="#A414FA"/>
<path d="M171.5 2493.3A271.2 271.2 0 0 1 167.1 2485.1L169.6 2483.8A268.4 268.4 0 0 0 174.0 2491.9Z" fill="#3388FA"/>
<path d="M172.6 2495.1A271.2 271.2 0 0 1 171.5 2493.3L174.0 2491.9A268.4 268.4 0 0 0 175.0 2493.7Z" fill="#7328B9"/>
<path d="M412.5 2069.4A290.0 290.0 0 0 1 413.5 2069.5L413.3 2080.6A278.9 278.9 0 0 0 412.3 2080.6Z" fill="#7328B9"/>
<path d="M431.8 2070.4A290.0 290.0 0 0 1 432.8 2070.5L431.8 2081.6A278.9 278.9 0 0 0 430.9 2081.5Z" fill="#7328B9"/>
<path d="M451.5 2072.8A290.0 290.0 0 0 1 466.5 2075.5L464.3 2086.4A278.9 278.9 0 0 0 449.8 2083.8Z" fill="#1E875A"/>
<path d="M484.4 2079.8A290.0 290.0 0 0 1 491.2 2081.8L488.0 2092.4A278.9 278.9 0 0 0 481.4 2090.5Z" fill="#1E875A"/>
<path d="M508.3 2087.5A290.0 290.0 0 0 1 510.7 2088.4L506.7 2098.8A278.9 278.9 0 0 0 504.4 2097.9Z" fill="#1E875A"/>
<path d="M527.4 2095.4A290.0 290.0 0 0 1 540.2 2101.6L535.1 2111.5A278.9 278.9 0 0 0 522.8 2105.5Z" fill="#19F541"/>
<path d="M555.7 2110.2A290.0 290.0 0 0 1 583.9 2129.3L577.2 2138.1A278.9 278.9 0 0 0 550.1 2119.8Z" fill="#23B955"/>
<path d="M599.2 2141.9A290.0 290.0 0 0 1 608.6 2150.5L600.9 2158.5A278.9 278.9 0 0 0 591.9 2150.2Z" fill="#23B955"/>
<path d="M622.0 2164.4A290.0 290.0 0 0 1 642.2 2189.2L633.2 2195.7A278.9 278.9 0 0 0 613.8 2171.8Z" fill="#C3461E"/>
<path d="M654.1 2206.9A290.0 290.0 0 0 1 692.5 2306.1L681.5 2308.2A278.9 278.9 0 0 0 644.6 2212.7Z" fill="#BE73AA"/>
<path d="M695.6 2327.2A290.0 290.0 0 0 1 697.3 2352.4L686.2 2352.7A278.9 278.9 0 0 0 684.6 2328.4Z" fill="#BE73AA"/>
<path d="M697.2 2370.1A290.0 290.0 0 0 1 696.8 2378.2L685.7 2377.5A278.9 278.9 0 0 0 686.1 2369.7Z" fill="#BE73AA"/>
<path d="M695.3 2394.3A290.0 290.0 0 0 1 694.9 2397.4L683.9 2395.9A278.9 278.9 0 0 0 684.3 2393.0Z" fill="#BE73AA"/>
<path d="M691.9 2415.8A290.0 290.0 0 0 1 691.3 2418.8L680.4 2416.5A278.9 278.9 0 0 0 681.0 2413.6Z" fill="#BE73AA"/>
<path d="M687.0 2436.5A290.0 290.0 0 0 1 686.4 2438.4L675.7 2435.4A278.9 278.9 0 0 0 676.3 2433.5Z" fill="#BE73AA"/>
<path d="M668.1 2486.5A290.0 290.0 0 0 1 315.4 2634.4L318.9 2623.9A278.9 278.9 0 0 0 658.1 2481.6Z" fill="#F52337"/>
<path d="M296.1 2627.2A290.0 290.0 0 0 1 207.1 2569.1L214.8 2561.1A278.9 278.9 0 0 0 300.3 2616.9Z" fill="#F52337"/>
<path d="M194.4 2556.2A290.0 290.0 0 0 1 175.1 2532.9L184.0 2526.3A278.9 278.9 0 0 0 202.6 2548.7Z" fill="#F52337"/>
<path d="M164.4 2517.6A290.0 290.0 0 0 1 146.9 2486.9L156.9 2482.0A278.9 278.9 0 0 0 173.7 2511.6Z" fill="#F52337"/>
<path d="M128.2 2437.9A290.0 290.0 0 0 1 117.5 2368.1L128.6 2367.8A278.9 278.9 0 0 0 138.9 2434.9Z" fill="#A414FA"/>
<path d="M117.5 2350.4A290.0 290.0 0 0 1 118.6 2332.7L129.7 2333.7A278.9 278.9 0 0 0 128.6 2350.7Z" fill="#A414FA"/>
<path d="M121.0 2314.1A290.0 290.0 0 0 1 123.8 2298.7L134.7 2301.0A278.9 278.9 0 0 0 131.9 2315.9Z" fill="#A414FA"/>
<path d="M128.1 2281.5A290.0 290.0 0 0 1 130.1 2274.7L140.7 2277.9A278.9 278.9 0 0 0 138.8 2284.4Z" fill="#A414FA"/>
<path d="M136.1 2256.9A290.0 290.0 0 0 1 153.1 2220.1L162.8 2225.4A278.9 278.9 0 0 0 146.5 2260.8Z" fill="#3388FA"/>
<path d="M163.2 2203.0A290.0 290.0 0 0 1 169.4 2193.7L178.5 2200.1A278.9 278.9 0 0 0 172.5 2209.0Z" fill="#3388FA"/>
<path d="M180.0 2179.5A290.0 290.0 0 0 1 185.7 2172.4L194.2 2179.6A278.9 278.9 0 0 0 188.7 2186.4Z" fill="#3388FA"/>
<path d="M197.6 2159.2A290.0 290.0 0 0 1 199.7 2157.0L207.7 2164.7A278.9 278.9 0 0 0 205.7 2166.8Z" fill="#3388FA"/>
<path d="M213.7 2143.6A290.0 290.0 0 0 1 290.7 2093.9L295.2 2104.1A278.9 278.9 0 0 0 221.1 2151.9Z" fill="#7328B9"/>
<path d="M308.6 2086.7A290.0 290.0 0 0 1 329.5 2080.1L332.5 2090.8A278.9 278.9 0 0 0 312.4 2097.2Z" fill="#7328B9"/>
<path d="M347.8 2075.6A290.0 290.0 0 0 1 352.7 2074.6L354.8 2085.5A278.9 278.9 0 0 0 350.1 2086.5Z" fill="#7328B9"/>
<path d="M371.4 2071.6A290.0 290.0 0 0 1 373.4 2071.4L374.7 2082.4A278.9 278.9 0 0 0 372.7 2082.7Z" fill="#7328B9"/>
<path d="M391.6 2069.8A290.0 290.0 0 0 1 393.7 2069.7L394.2 2080.8A278.9 278.9 0 0 0 392.2 2080.9Z" fill="#7328B9"/>
<g font-size="19.6" fill="#000" stroke="#000" stroke-width="0.3">
<text transform="translate(410.2 2061.9) rotate(-88.9)" text-anchor="start" dy="0.355em">ITGA2_ITGB1</text>
<text transform="translate(430.1 2062.8) rotate(-85.1)" text-anchor="start" dy="0.355em">ITGA10_ITGB1</text>
<text transform="translate(457.5 2066.1) rotate(-79.7)" text-anchor="start" dy="0.355em">LIFR_IL6ST</text>
<text transform="translate(487.1 2072.7) rotate(-73.9)" text-anchor="start" dy="0.355em">ITGA1_ITGB1</text>
<text transform="translate(509.4 2079.9) rotate(-69.4)" text-anchor="start" dy="0.355em">JAG1</text>
<text transform="translate(534.5 2090.4) rotate(-64.2)" text-anchor="start" dy="0.355em">INSR</text>
<text transform="translate(571.9 2111.5) rotate(-55.9)" text-anchor="start" dy="0.355em">ITGA5_ITGB1</text>
<text transform="translate(606.9 2138.7) rotate(-47.3)" text-anchor="start" dy="0.355em">INSR</text>
<text transform="translate(636.4 2169.5) rotate(-39.1)" text-anchor="start" dy="0.355em">ITGA5_ITGB1</text>
<text transform="translate(683.8 2249.3) rotate(-21.2)" text-anchor="start" dy="0.355em">ITGA5_ITGB1</text>
<text transform="translate(704.0 2336.4) rotate(-3.9)" text-anchor="start" dy="0.355em">LIFR_IL6ST</text>
<text transform="translate(704.7 2371.7) rotate(2.9)" text-anchor="start" dy="0.355em">OSMR_IL6ST</text>
<text transform="translate(702.9 2393.9) rotate(7.2)" text-anchor="start" dy="0.355em">ITGA1_ITGB1</text>
<text transform="translate(699.5 2415.9) rotate(11.5)" text-anchor="start" dy="0.355em">JAG1</text>
<text transform="translate(694.7 2436.7) rotate(15.6)" text-anchor="start" dy="0.355em">ITGA2_ITGB1</text>
<text transform="translate(525.2 2632.6) rotate(67.2)" text-anchor="start" dy="0.355em">NAMPT</text>
<text transform="translate(247.2 2610.1) rotate(303.1)" text-anchor="end" dy="0.355em">OSM</text>
<text transform="translate(180.5 2551.9) rotate(320.3)" text-anchor="end" dy="0.355em">CD46</text>
<text transform="translate(150.1 2508.8) rotate(330.4)" text-anchor="end" dy="0.355em">COL1A2</text>
<text transform="translate(113.8 2407.3) rotate(351.3)" text-anchor="end" dy="0.355em">ITGA5_ITGB1</text>
<text transform="translate(110.3 2344.0) rotate(363.5)" text-anchor="end" dy="0.355em">JAG1</text>
<text transform="translate(114.4 2307.9) rotate(370.5)" text-anchor="end" dy="0.355em">LIFR_IL6ST</text>
<text transform="translate(121.0 2278.7) rotate(376.3)" text-anchor="end" dy="0.355em">ITGA1_ITGB1</text>
<text transform="translate(135.9 2237.7) rotate(384.7)" text-anchor="end" dy="0.355em">ITGA5_ITGB1</text>
<text transform="translate(158.4 2196.6) rotate(393.7)" text-anchor="end" dy="0.355em">LIFR_IL6ST</text>
<text transform="translate(175.2 2173.4) rotate(399.3)" text-anchor="end" dy="0.355em">ITGA1_ITGB1</text>
<text transform="translate(191.3 2154.9) rotate(404.0)" text-anchor="end" dy="0.355em">JAG1</text>
<text transform="translate(243.7 2111.0) rotate(417.2)" text-anchor="end" dy="0.355em">ITGA5_ITGB1</text>
<text transform="translate(314.0 2076.9) rotate(432.3)" text-anchor="end" dy="0.355em">LIFR_IL6ST</text>
<text transform="translate(345.9 2068.3) rotate(438.6)" text-anchor="end" dy="0.355em">OSMR_IL6ST</text>
<text transform="translate(368.6 2064.4) rotate(443.1)" text-anchor="end" dy="0.355em">ITGA1_ITGB1</text>
<text transform="translate(389.4 2062.4) rotate(447.1)" text-anchor="end" dy="0.355em">JAG1</text>
</g>
</g>
<g id="cR">
<g fill-opacity="0.6" stroke-opacity="0.5" stroke-width="0.3">
<path d="M1517.6 2479.7A283.0 283.0 0 0 1 1512.9 2489.3Q1261.4 2359.6 1015.8 2223.4L1011.9 2215.1L1021.0 2214.5Q1261.4 2359.6 1517.6 2479.7Z" fill="#F52337" stroke="#F52337"/>
<path d="M1521.2 2471.8A283.0 283.0 0 0 1 1517.6 2479.7Q1261.4 2359.6 1030.5 2199.8L1026.8 2192.0L1035.3 2193.0Q1261.4 2359.6 1521.2 2471.8Z" fill="#F52337" stroke="#F52337"/>
<path d="M1535.7 2429.2A283.0 283.0 0 0 1 1521.2 2471.8Q1261.4 2359.6 1058.9 2165.0L1069.5 2144.4L1091.2 2136.3Q1261.4 2359.6 1535.7 2429.2Z" fill="#F52337" stroke="#F52337"/>
<path d="M1537.8 2420.2A283.0 283.0 0 0 1 1535.7 2429.2Q1261.4 2359.6 1197.5 2086.2L1200.2 2077.8L1206.1 2084.3Q1261.4 2359.6 1537.8 2420.2Z" fill="#F52337" stroke="#F52337"/>
<path d="M1538.9 2415.2A283.0 283.0 0 0 1 1537.8 2420.2Q1261.4 2359.6 1224.1 2081.3L1225.6 2073.5L1228.9 2080.7Q1261.4 2359.6 1538.9 2415.2Z" fill="#F52337" stroke="#F52337"/>
<path d="M1502.8 2507.4A283.0 283.0 0 0 1 1487.7 2529.5Q1261.4 2359.6 1541.3 2337.0L1549.6 2350.4L1542.2 2364.4Q1261.4 2359.6 1502.8 2507.4Z" fill="#F52337" stroke="#F52337"/>
<path d="M1487.7 2529.5A283.0 283.0 0 0 1 1469.2 2551.7Q1261.4 2359.6 980.7 2365.4L973.2 2350.4L981.6 2335.9Q1261.4 2359.6 1487.7 2529.5Z" fill="#F52337" stroke="#F52337"/>
<path d="M1417.3 2595.8A283.0 283.0 0 0 1 1399.4 2606.7Q1261.4 2359.6 1345.6 2091.7L1358.0 2087.9L1365.2 2098.7Q1261.4 2359.6 1417.3 2595.8Z" fill="#F52337" stroke="#F52337"/>
<path d="M1437.0 2581.5A283.0 283.0 0 0 1 1417.3 2595.8Q1261.4 2359.6 1476.9 2179.5L1490.4 2184.4L1491.6 2198.8Q1261.4 2359.6 1437.0 2581.5Z" fill="#F52337" stroke="#F52337"/>
<path d="M1455.0 2566.0A283.0 283.0 0 0 1 1437.0 2581.5Q1261.4 2359.6 1529.9 2277.5L1540.4 2286.9L1535.9 2300.3Q1261.4 2359.6 1455.0 2566.0Z" fill="#F52337" stroke="#F52337"/>
<path d="M1381.1 2616.0A283.0 283.0 0 0 1 1362.0 2624.1Q1261.4 2359.6 999.2 2259.0L996.2 2246.5L1007.3 2240.0Q1261.4 2359.6 1381.1 2616.0Z" fill="#F52337" stroke="#F52337"/>
<path d="M1399.4 2606.7A283.0 283.0 0 0 1 1381.1 2616.0Q1261.4 2359.6 1160.3 2097.6L1167.4 2087.0L1179.5 2091.0Q1261.4 2359.6 1399.4 2606.7Z" fill="#F52337" stroke="#F52337"/>
<path d="M1309.9 2638.4A283.0 283.0 0 0 1 1294.4 2640.7Q1261.4 2359.6 1330.6 2087.5L1340.2 2082.2L1345.6 2091.7Q1261.4 2359.6 1309.9 2638.4Z" fill="#F52337" stroke="#F52337"/>
<path d="M1327.7 2634.7A283.0 283.0 0 0 1 1309.9 2638.4Q1261.4 2359.6 1464.8 2166.0L1476.6 2167.7L1476.9 2179.5Q1261.4 2359.6 1327.7 2634.7Z" fill="#F52337" stroke="#F52337"/>
<path d="M1344.8 2630.0A283.0 283.0 0 0 1 1327.7 2634.7Q1261.4 2359.6 1524.2 2260.8L1534.4 2266.7L1529.9 2277.5Q1261.4 2359.6 1344.8 2630.0Z" fill="#F52337" stroke="#F52337"/>
<path d="M1279.2 2642.0A283.0 283.0 0 0 1 1263.7 2642.6Q1261.4 2359.6 994.1 2273.5L989.5 2263.7L999.2 2259.0Q1261.4 2359.6 1279.2 2642.0Z" fill="#F52337" stroke="#F52337"/>
<path d="M1294.4 2640.7A283.0 283.0 0 0 1 1279.2 2642.0Q1261.4 2359.6 1146.3 2103.5L1150.3 2093.5L1160.3 2097.6Q1261.4 2359.6 1294.4 2640.7Z" fill="#F52337" stroke="#F52337"/>
<path d="M1213.5 2638.5A283.0 283.0 0 0 1 1199.4 2635.7Q1261.4 2359.6 1316.7 2084.3L1325.3 2078.4L1330.6 2087.5Q1261.4 2359.6 1213.5 2638.5Z" fill="#F52337" stroke="#F52337"/>
<path d="M1230.2 2640.9A283.0 283.0 0 0 1 1213.5 2638.5Q1261.4 2359.6 1452.9 2154.3L1464.3 2154.7L1464.8 2166.0Q1261.4 2359.6 1230.2 2640.9Z" fill="#F52337" stroke="#F52337"/>
<path d="M1246.5 2642.2A283.0 283.0 0 0 1 1230.2 2640.9Q1261.4 2359.6 1518.1 2245.8L1528.3 2250.4L1524.2 2260.8Q1261.4 2359.6 1246.5 2642.2Z" fill="#F52337" stroke="#F52337"/>
<path d="M1185.7 2632.3A283.0 283.0 0 0 1 1172.0 2628.1Q1261.4 2359.6 990.1 2287.1L984.8 2278.1L994.1 2273.5Q1261.4 2359.6 1185.7 2632.3Z" fill="#F52337" stroke="#F52337"/>
<path d="M1199.4 2635.7A283.0 283.0 0 0 1 1185.7 2632.3Q1261.4 2359.6 1133.6 2109.6L1136.6 2099.6L1146.3 2103.5Q1261.4 2359.6 1199.4 2635.7Z" fill="#F52337" stroke="#F52337"/>
<path d="M1127.9 2609.1A283.0 283.0 0 0 1 1116.7 2602.8Q1261.4 2359.6 1304.0 2082.0L1311.7 2075.7L1316.7 2084.3Q1261.4 2359.6 1127.9 2609.1Z" fill="#F52337" stroke="#F52337"/>
<path d="M1141.4 2615.9A283.0 283.0 0 0 1 1127.9 2609.1Q1261.4 2359.6 1441.7 2144.3L1452.4 2143.6L1452.9 2154.3Q1261.4 2359.6 1141.4 2615.9Z" fill="#F52337" stroke="#F52337"/>
<path d="M1154.9 2621.8A283.0 283.0 0 0 1 1141.4 2615.9Q1261.4 2359.6 1511.8 2232.6L1521.9 2235.9L1518.1 2245.8Q1261.4 2359.6 1154.9 2621.8Z" fill="#F52337" stroke="#F52337"/>
<path d="M1105.9 2596.1A283.0 283.0 0 0 1 1095.4 2588.8Q1261.4 2359.6 987.1 2299.5L981.2 2291.5L990.1 2287.1Q1261.4 2359.6 1105.9 2596.1Z" fill="#F52337" stroke="#F52337"/>
<path d="M1116.7 2602.8A283.0 283.0 0 0 1 1105.9 2596.1Q1261.4 2359.6 1122.6 2115.5L1124.5 2105.8L1133.6 2109.6Q1261.4 2359.6 1116.7 2602.8Z" fill="#F52337" stroke="#F52337"/>
<path d="M1059.9 2558.3A283.0 283.0 0 0 1 1051.4 2549.3Q1261.4 2359.6 1291.8 2080.4L1298.9 2073.7L1304.0 2082.0Q1261.4 2359.6 1059.9 2558.3Z" fill="#F52337" stroke="#F52337"/>
<path d="M1070.3 2568.4A283.0 283.0 0 0 1 1059.9 2558.3Q1261.4 2359.6 1430.5 2135.4L1440.9 2133.9L1441.7 2144.3Q1261.4 2359.6 1070.3 2568.4Z" fill="#F52337" stroke="#F52337"/>
<path d="M1080.9 2577.6A283.0 283.0 0 0 1 1070.3 2568.4Q1261.4 2359.6 1505.2 2220.3L1515.2 2222.8L1511.8 2232.6Q1261.4 2359.6 1080.9 2577.6Z" fill="#F52337" stroke="#F52337"/>
<path d="M1043.5 2540.2A283.0 283.0 0 0 1 1035.9 2530.6Q1261.4 2359.6 984.8 2311.4L978.5 2304.0L987.1 2299.5Q1261.4 2359.6 1043.5 2540.2Z" fill="#F52337" stroke="#F52337"/>
<path d="M1051.4 2549.3A283.0 283.0 0 0 1 1043.5 2540.2Q1261.4 2359.6 1112.2 2121.7L1113.5 2112.1L1122.6 2115.5Q1261.4 2359.6 1051.4 2549.3Z" fill="#F52337" stroke="#F52337"/>
<path d="M1024.1 2513.8A283.0 283.0 0 0 1 1017.5 2503.1Q1261.4 2359.6 1382.7 2106.3L1391.3 2102.2L1393.2 2111.6Q1261.4 2359.6 1024.1 2513.8Z" fill="#F52337" stroke="#F52337"/>
<path d="M1025.6 2516.0A283.0 283.0 0 0 1 1024.1 2513.8Q1261.4 2359.6 1539.0 2317.4L1546.7 2317.5L1539.4 2319.8Q1261.4 2359.6 1025.6 2516.0Z" fill="#F52337" stroke="#F52337"/>
<path d="M1017.5 2503.1A283.0 283.0 0 0 1 1016.2 2500.9Q1261.4 2359.6 1246.3 2079.2L1247.1 2071.6L1248.7 2079.1Q1261.4 2359.6 1017.5 2503.1Z" fill="#F52337" stroke="#F52337"/>
<path d="M1001.1 2470.6A283.0 283.0 0 0 1 998.8 2465.0Q1261.4 2359.6 1285.8 2079.9L1289.5 2072.6L1291.8 2080.4Q1261.4 2359.6 1001.1 2470.6Z" fill="#F52337" stroke="#F52337"/>
<path d="M1004.0 2477.1A283.0 283.0 0 0 1 1001.1 2470.6Q1261.4 2359.6 1424.8 2131.2L1432.1 2127.2L1430.5 2135.4Q1261.4 2359.6 1004.0 2477.1Z" fill="#F52337" stroke="#F52337"/>
<path d="M1006.9 2483.4A283.0 283.0 0 0 1 1004.0 2477.1Q1261.4 2359.6 1501.7 2214.4L1510.0 2213.5L1505.2 2220.3Q1261.4 2359.6 1006.9 2483.4Z" fill="#F52337" stroke="#F52337"/>
<path d="M996.6 2459.4A283.0 283.0 0 0 1 994.5 2453.7Q1261.4 2359.6 983.8 2317.4L976.8 2313.2L984.8 2311.4Q1261.4 2359.6 996.6 2459.4Z" fill="#F52337" stroke="#F52337"/>
<path d="M998.8 2465.0A283.0 283.0 0 0 1 996.6 2459.4Q1261.4 2359.6 1107.2 2124.9L1105.6 2116.9L1112.2 2121.7Q1261.4 2359.6 998.8 2465.0Z" fill="#F52337" stroke="#F52337"/>
<path d="M988.2 2433.5A283.0 283.0 0 0 1 987.9 2432.5Q1261.4 2359.6 1266.7 2078.8L1267.3 2071.3L1267.6 2078.9Q1261.4 2359.6 988.2 2433.5Z" fill="#F52337" stroke="#F52337"/>
<path d="M989.0 2436.3A283.0 283.0 0 0 1 988.2 2433.5Q1261.4 2359.6 1409.1 2120.8L1414.1 2115.0L1411.2 2122.1Q1261.4 2359.6 989.0 2436.3Z" fill="#F52337" stroke="#F52337"/>
<path d="M983.8 2414.6A283.0 283.0 0 0 1 983.6 2413.6Q1261.4 2359.6 1045.8 2179.7L1040.4 2174.4L1046.5 2178.9Q1261.4 2359.6 983.8 2414.6Z" fill="#F52337" stroke="#F52337"/>
</g>
<path d="M1522.2 2481.8A288.0 288.0 0 0 1 1517.4 2491.7L1514.7 2490.3A285.1 285.1 0 0 0 1519.5 2480.6Z" fill="#19F541"/>
<path d="M1525.8 2473.8A288.0 288.0 0 0 1 1522.2 2481.8L1519.5 2480.6A285.1 285.1 0 0 0 1523.1 2472.6Z" fill="#19F541"/>
<path d="M1540.6 2430.4A288.0 288.0 0 0 1 1525.8 2473.8L1523.1 2472.6A285.1 285.1 0 0 0 1537.7 2429.7Z" fill="#23B955"/>
<path d="M1542.8 2421.3A288.0 288.0 0 0 1 1540.6 2430.4L1537.7 2429.7A285.1 285.1 0 0 0 1539.8 2420.7Z" fill="#23B955"/>
<path d="M1543.8 2416.2A288.0 288.0 0 0 1 1542.8 2421.3L1539.8 2420.7A285.1 285.1 0 0 0 1540.9 2415.7Z" fill="#23B955"/>
<path d="M1507.1 2510.0A288.0 288.0 0 0 1 1491.8 2532.5L1489.4 2530.7A285.1 285.1 0 0 0 1504.5 2508.4Z" fill="#BE73AA"/>
<path d="M1491.8 2532.5A288.0 288.0 0 0 1 1472.9 2555.1L1470.8 2553.1A285.1 285.1 0 0 0 1489.4 2530.7Z" fill="#7328B9"/>
<path d="M1420.0 2600.0A288.0 288.0 0 0 1 1401.8 2611.1L1400.4 2608.5A285.1 285.1 0 0 0 1418.4 2597.5Z" fill="#C3461E"/>
<path d="M1440.2 2585.5A288.0 288.0 0 0 1 1420.0 2600.0L1418.4 2597.5A285.1 285.1 0 0 0 1438.3 2583.1Z" fill="#375A9B"/>
<path d="M1458.5 2569.7A288.0 288.0 0 0 1 1440.2 2585.5L1438.3 2583.1A285.1 285.1 0 0 0 1456.4 2567.5Z" fill="#FCAA1E"/>
<path d="M1383.3 2620.6A288.0 288.0 0 0 1 1363.8 2628.8L1362.8 2626.0A285.1 285.1 0 0 0 1382.0 2617.9Z" fill="#19F541"/>
<path d="M1401.8 2611.1A288.0 288.0 0 0 1 1383.3 2620.6L1382.0 2617.9A285.1 285.1 0 0 0 1400.4 2608.5Z" fill="#23B955"/>
<path d="M1310.7 2643.4A288.0 288.0 0 0 1 1295.0 2645.7L1294.6 2642.7A285.1 285.1 0 0 0 1310.2 2640.4Z" fill="#C3461E"/>
<path d="M1328.9 2639.6A288.0 288.0 0 0 1 1310.7 2643.4L1310.2 2640.4A285.1 285.1 0 0 0 1328.2 2636.7Z" fill="#375A9B"/>
<path d="M1346.3 2634.8A288.0 288.0 0 0 1 1328.9 2639.6L1328.2 2636.7A285.1 285.1 0 0 0 1345.4 2632.0Z" fill="#FCAA1E"/>
<path d="M1279.5 2647.1A288.0 288.0 0 0 1 1263.8 2647.6L1263.7 2644.6A285.1 285.1 0 0 0 1279.3 2644.1Z" fill="#19F541"/>
<path d="M1295.0 2645.7A288.0 288.0 0 0 1 1279.5 2647.1L1279.3 2644.1A285.1 285.1 0 0 0 1294.6 2642.7Z" fill="#23B955"/>
<path d="M1212.7 2643.5A288.0 288.0 0 0 1 1198.2 2640.6L1198.9 2637.7A285.1 285.1 0 0 0 1213.2 2640.5Z" fill="#C3461E"/>
<path d="M1229.6 2645.9A288.0 288.0 0 0 1 1212.7 2643.5L1213.2 2640.5A285.1 285.1 0 0 0 1229.9 2642.9Z" fill="#375A9B"/>
<path d="M1246.2 2647.2A288.0 288.0 0 0 1 1229.6 2645.9L1229.9 2642.9A285.1 285.1 0 0 0 1246.4 2644.3Z" fill="#FCAA1E"/>
<path d="M1184.3 2637.1A288.0 288.0 0 0 1 1170.4 2632.9L1171.4 2630.1A285.1 285.1 0 0 0 1185.1 2634.3Z" fill="#19F541"/>
<path d="M1198.2 2640.6A288.0 288.0 0 0 1 1184.3 2637.1L1185.1 2634.3A285.1 285.1 0 0 0 1198.9 2637.7Z" fill="#23B955"/>
<path d="M1125.6 2613.6A288.0 288.0 0 0 1 1114.1 2607.1L1115.6 2604.6A285.1 285.1 0 0 0 1127.0 2611.0Z" fill="#C3461E"/>
<path d="M1139.3 2620.5A288.0 288.0 0 0 1 1125.6 2613.6L1127.0 2611.0A285.1 285.1 0 0 0 1140.5 2617.8Z" fill="#375A9B"/>
<path d="M1153.0 2626.5A288.0 288.0 0 0 1 1139.3 2620.5L1140.5 2617.8A285.1 285.1 0 0 0 1154.1 2623.7Z" fill="#FCAA1E"/>
<path d="M1103.2 2600.3A288.0 288.0 0 0 1 1092.4 2592.9L1094.2 2590.5A285.1 285.1 0 0 0 1104.8 2597.8Z" fill="#19F541"/>
<path d="M1114.1 2607.1A288.0 288.0 0 0 1 1103.2 2600.3L1104.8 2597.8A285.1 285.1 0 0 0 1115.6 2604.6Z" fill="#23B955"/>
<path d="M1056.3 2561.9A288.0 288.0 0 0 1 1047.7 2552.7L1049.9 2550.7A285.1 285.1 0 0 0 1058.5 2559.8Z" fill="#C3461E"/>
<path d="M1066.9 2572.1A288.0 288.0 0 0 1 1056.3 2561.9L1058.5 2559.8A285.1 285.1 0 0 0 1068.9 2569.9Z" fill="#375A9B"/>
<path d="M1077.7 2581.5A288.0 288.0 0 0 1 1066.9 2572.1L1068.9 2569.9A285.1 285.1 0 0 0 1079.6 2579.2Z" fill="#FCAA1E"/>
<path d="M1039.6 2543.4A288.0 288.0 0 0 1 1031.9 2533.6L1034.2 2531.8A285.1 285.1 0 0 0 1041.9 2541.5Z" fill="#19F541"/>
<path d="M1047.7 2552.7A288.0 288.0 0 0 1 1039.6 2543.4L1041.9 2541.5A285.1 285.1 0 0 0 1049.9 2550.7Z" fill="#23B955"/>
<path d="M1019.9 2516.6A288.0 288.0 0 0 1 1013.2 2505.7L1015.7 2504.2A285.1 285.1 0 0 0 1022.4 2515.0Z" fill="#C3461E"/>
<path d="M1021.4 2518.8A288.0 288.0 0 0 1 1019.9 2516.6L1022.4 2515.0A285.1 285.1 0 0 0 1023.9 2517.2Z" fill="#FCAA1E"/>
<path d="M1013.2 2505.7A288.0 288.0 0 0 1 1011.8 2503.4L1014.4 2501.9A285.1 285.1 0 0 0 1015.7 2504.2Z" fill="#23B955"/>
<path d="M996.5 2472.6A288.0 288.0 0 0 1 994.1 2466.9L996.8 2465.7A285.1 285.1 0 0 0 999.2 2471.4Z" fill="#C3461E"/>
<path d="M999.4 2479.2A288.0 288.0 0 0 1 996.5 2472.6L999.2 2471.4A285.1 285.1 0 0 0 1002.1 2478.0Z" fill="#375A9B"/>
<path d="M1002.4 2485.6A288.0 288.0 0 0 1 999.4 2479.2L1002.1 2478.0A285.1 285.1 0 0 0 1005.1 2484.3Z" fill="#FCAA1E"/>
<path d="M991.9 2461.2A288.0 288.0 0 0 1 989.8 2455.4L992.6 2454.4A285.1 285.1 0 0 0 994.7 2460.1Z" fill="#19F541"/>
<path d="M994.1 2466.9A288.0 288.0 0 0 1 991.9 2461.2L994.7 2460.1A285.1 285.1 0 0 0 996.8 2465.7Z" fill="#23B955"/>
<path d="M983.4 2434.9A288.0 288.0 0 0 1 983.1 2433.8L986.0 2433.0A285.1 285.1 0 0 0 986.2 2434.1Z" fill="#23B955"/>
<path d="M984.1 2437.6A288.0 288.0 0 0 1 983.4 2434.9L986.2 2434.1A285.1 285.1 0 0 0 987.0 2436.8Z" fill="#C3461E"/>
<path d="M978.9 2415.6A288.0 288.0 0 0 1 978.7 2414.6L981.6 2414.0A285.1 285.1 0 0 0 981.8 2415.0Z" fill="#19F541"/>
<path d="M1267.2 2051.7A308.0 308.0 0 0 1 1268.2 2051.7L1268.0 2063.5A296.2 296.2 0 0 0 1266.9 2063.4Z" fill="#23B955"/>
<path d="M1288.1 2052.8A308.0 308.0 0 0 1 1375.2 2073.4L1370.9 2084.4A296.2 296.2 0 0 0 1287.1 2064.5Z" fill="#C3461E"/>
<path d="M1394.4 2081.8A308.0 308.0 0 0 1 1405.9 2087.6L1400.4 2098.0A296.2 296.2 0 0 0 1389.3 2092.4Z" fill="#C3461E"/>
<path d="M1423.4 2097.6A308.0 308.0 0 0 1 1425.7 2099.1L1419.4 2109.1A296.2 296.2 0 0 0 1417.2 2107.7Z" fill="#C3461E"/>
<path d="M1440.6 2109.1A308.0 308.0 0 0 1 1513.9 2183.2L1504.2 2190.0A296.2 296.2 0 0 0 1433.8 2118.7Z" fill="#375A9B"/>
<path d="M1525.0 2200.3A308.0 308.0 0 0 1 1562.5 2294.6L1550.9 2297.1A296.2 296.2 0 0 0 1514.9 2206.4Z" fill="#FCAA1E"/>
<path d="M1565.9 2313.3A308.0 308.0 0 0 1 1566.3 2315.9L1554.6 2317.6A296.2 296.2 0 0 0 1554.2 2315.1Z" fill="#FCAA1E"/>
<path d="M1568.4 2334.8A308.0 308.0 0 0 1 1569.4 2364.8L1557.6 2364.6A296.2 296.2 0 0 0 1556.6 2335.8Z" fill="#BE73AA"/>
<path d="M1563.4 2420.2A308.0 308.0 0 0 1 1535.1 2500.8L1524.6 2495.4A296.2 296.2 0 0 0 1551.8 2417.8Z" fill="#F52337"/>
<path d="M1524.1 2520.4A308.0 308.0 0 0 1 1487.6 2568.6L1478.9 2560.6A296.2 296.2 0 0 0 1514.0 2514.3Z" fill="#F52337"/>
<path d="M1472.1 2584.2A308.0 308.0 0 0 1 1370.9 2647.5L1366.7 2636.4A296.2 296.2 0 0 0 1464.1 2575.6Z" fill="#F52337"/>
<path d="M1352.2 2653.9A308.0 308.0 0 0 1 1263.9 2667.6L1263.8 2655.8A296.2 296.2 0 0 0 1348.7 2642.6Z" fill="#F52337"/>
<path d="M1245.1 2667.2A308.0 308.0 0 0 1 1164.1 2651.8L1167.8 2640.6A296.2 296.2 0 0 0 1245.8 2655.4Z" fill="#F52337"/>
<path d="M1145.5 2644.9A308.0 308.0 0 0 1 1080.7 2609.0L1087.6 2599.5A296.2 296.2 0 0 0 1149.9 2634.0Z" fill="#F52337"/>
<path d="M1065.0 2596.8A308.0 308.0 0 0 1 1015.9 2545.7L1025.4 2538.5A296.2 296.2 0 0 0 1072.5 2587.8Z" fill="#F52337"/>
<path d="M1004.7 2529.9A308.0 308.0 0 0 1 994.5 2513.4L1004.8 2507.5A296.2 296.2 0 0 0 1014.6 2523.3Z" fill="#F52337"/>
<path d="M984.4 2494.3A308.0 308.0 0 0 1 970.9 2462.0L982.1 2458.1A296.2 296.2 0 0 0 995.0 2489.2Z" fill="#F52337"/>
<path d="M964.9 2443.0A308.0 308.0 0 0 1 963.8 2438.9L975.2 2435.9A296.2 296.2 0 0 0 976.3 2439.8Z" fill="#F52337"/>
<path d="M959.3 2419.5A308.0 308.0 0 0 1 959.1 2418.4L970.6 2416.2A296.2 296.2 0 0 0 970.8 2417.2Z" fill="#F52337"/>
<path d="M953.5 2365.9A308.0 308.0 0 0 1 954.5 2333.6L966.3 2334.6A296.2 296.2 0 0 0 965.3 2365.7Z" fill="#7328B9"/>
<path d="M956.9 2313.3A308.0 308.0 0 0 1 982.7 2228.4L993.4 2233.5A296.2 296.2 0 0 0 968.6 2315.0Z" fill="#19F541"/>
<path d="M992.1 2210.2A308.0 308.0 0 0 1 997.7 2200.4L1007.8 2206.5A296.2 296.2 0 0 0 1002.4 2215.9Z" fill="#19F541"/>
<path d="M1008.1 2184.3A308.0 308.0 0 0 1 1013.5 2176.9L1022.9 2183.9A296.2 296.2 0 0 0 1017.8 2191.0Z" fill="#19F541"/>
<path d="M1024.9 2162.2A308.0 308.0 0 0 1 1025.6 2161.4L1034.7 2169.0A296.2 296.2 0 0 0 1034.0 2169.8Z" fill="#19F541"/>
<path d="M1039.3 2146.2A308.0 308.0 0 0 1 1074.7 2114.6L1081.9 2124.0A296.2 296.2 0 0 0 1047.8 2154.3Z" fill="#23B955"/>
<path d="M1092.3 2102.2A308.0 308.0 0 0 1 1171.6 2065.0L1175.0 2076.3A296.2 296.2 0 0 0 1098.8 2112.0Z" fill="#23B955"/>
<path d="M1191.3 2059.7A308.0 308.0 0 0 1 1200.8 2057.6L1203.1 2069.2A296.2 296.2 0 0 0 1194.0 2071.2Z" fill="#23B955"/>
<path d="M1220.5 2054.3A308.0 308.0 0 0 1 1225.8 2053.7L1227.1 2065.4A296.2 296.2 0 0 0 1222.0 2066.0Z" fill="#23B955"/>
<path d="M1244.8 2052.0A308.0 308.0 0 0 1 1247.5 2051.9L1248.0 2063.7A296.2 296.2 0 0 0 1245.5 2063.8Z" fill="#23B955"/>
<g font-size="19.2" fill="#000" stroke="#000" stroke-width="0.3">
<text transform="translate(1265.7 2045.1) rotate(-88.8)" text-anchor="start" dy="0.355em">CCR5</text>
<text transform="translate(1331.6 2053.0) rotate(-76.7)" text-anchor="start" dy="0.355em">CD4</text>
<text transform="translate(1400.6 2077.6) rotate(-63.2)" text-anchor="start" dy="0.355em">IL1R2</text>
<text transform="translate(1425.5 2091.3) rotate(-58.0)" text-anchor="start" dy="0.355em">CCR5</text>
<text transform="translate(1482.7 2136.1) rotate(-44.7)" text-anchor="start" dy="0.355em">CD4</text>
<text transform="translate(1552.2 2239.9) rotate(-21.7)" text-anchor="start" dy="0.355em">CD4</text>
<text transform="translate(1571.9 2309.5) rotate(-8.4)" text-anchor="start" dy="0.355em">IL1R2</text>
<text transform="translate(1575.6 2345.3) rotate(-1.8)" text-anchor="start" dy="0.355em">ACKR1</text>
<text transform="translate(1559.7 2459.4) rotate(19.3)" text-anchor="start" dy="0.355em">ANXA1</text>
<text transform="translate(1515.0 2545.7) rotate(37.1)" text-anchor="start" dy="0.355em">CXCL2</text>
<text transform="translate(995.2 2527.1) rotate(328.2)" text-anchor="end" dy="0.355em">IL1B</text>
<text transform="translate(972.1 2482.9) rotate(337.3)" text-anchor="end" dy="0.355em">HLA−DQB1</text>
<text transform="translate(958.6 2444.6) rotate(344.7)" text-anchor="end" dy="0.355em">CCL4</text>
<text transform="translate(953.2 2422.0) rotate(348.9)" text-anchor="end" dy="0.355em">CD48</text>
<text transform="translate(947.0 2351.2) rotate(361.8)" text-anchor="end" dy="0.355em">ACKR1</text>
<text transform="translate(960.1 2269.5) rotate(376.9)" text-anchor="end" dy="0.355em">CD4</text>
<text transform="translate(988.5 2203.3) rotate(390.1)" text-anchor="end" dy="0.355em">FPR1</text>
<text transform="translate(1004.7 2178.0) rotate(395.5)" text-anchor="end" dy="0.355em">FPR2</text>
<text transform="translate(1019.4 2158.7) rotate(400.0)" text-anchor="end" dy="0.355em">CD244</text>
<text transform="translate(1051.0 2125.8) rotate(408.3)" text-anchor="end" dy="0.355em">FPR1</text>
<text transform="translate(1126.4 2075.6) rotate(424.9)" text-anchor="end" dy="0.355em">CD4</text>
<text transform="translate(1192.9 2052.7) rotate(437.8)" text-anchor="end" dy="0.355em">FPR2_LXA4</text>
<text transform="translate(1220.4 2047.8) rotate(442.9)" text-anchor="end" dy="0.355em">FPR2</text>
<text transform="translate(1243.8 2045.6) rotate(447.2)" text-anchor="end" dy="0.355em">IL1R2</text>
<text transform="translate(941.3 2616.0) rotate(-13.8)" text-anchor="start" dy="0">HLA−DPB1</text>
<text transform="translate(1013.7 2671.0) rotate(-13.7)" text-anchor="start" dy="0">HLA−DRB5</text>
<text transform="translate(1115.6 2706.1) rotate(-14.1)" text-anchor="start" dy="0">HLA−DPA1</text>
<text transform="translate(1300.5 2688.0) rotate(13.7)" text-anchor="start" dy="0">HLA−DRB1</text>
<text transform="translate(1439.0 2632.6) rotate(14.5)" text-anchor="start" dy="0">HLA−DRA</text>
</g>
</g>
<g font-size="36.4" fill="#000" stroke="#000" stroke-width="0.4" text-anchor="middle">
<text x="805.5" y="40">EC <tspan font-size="47" dx="-5.5" dy="1">→</tspan><tspan dx="-5.5" dy="-1"> </tspan>MoMac/Neutrophil</text>
<text x="391" y="96.5">Upregulated in PAD</text>
<text x="1220" y="96.5">Downregulated in PAD</text>
<text x="805.5" y="970">MoMac <tspan font-size="47" dx="-5.5" dy="1">→</tspan><tspan dx="-5.5" dy="-1"> </tspan>EC/Neutrophil</text>
<text x="391" y="1026">Upregulated in PAD</text>
<text x="1220" y="1026">Downregulated in PAD</text>
<text x="805.5" y="1855.5">Neutrophil <tspan font-size="47" dx="-5.5" dy="1">→</tspan><tspan dx="-5.5" dy="-1"> </tspan>MoMac/EC</text>
<text x="391" y="1912.5">Upregulated in PAD</text>
<text x="1220" y="1912.5">Downregulated in PAD</text>
</g>
<g font-size="45" font-weight="bold" fill="#000">
<text x="19" y="25.5">a</text>
<text x="19" y="932">b</text>
<text x="19" y="1826">c</text>
</g>
<g font-size="22.6" fill="#000" stroke="#000" stroke-width="0.3">
<rect x="1622.2" y="218.8" width="23.6" height="23.2" fill="#A414FA"/>
<text x="1652.5" y="238.2">Artery</text>
<rect x="1622.2" y="245.8" width="23.6" height="23.2" fill="#3388FA"/>
<text x="1652.5" y="265.2">ATF3/4<tspan font-size="13.5" dy="-7.5">+</tspan><tspan dy="7.5" font-size="22.6">&#8203;</tspan> Capillary</text>
<rect x="1622.2" y="272.8" width="23.6" height="23.2" fill="#1E875A"/>
<text x="1652.5" y="292.2">Capillary</text>
<rect x="1622.2" y="299.8" width="23.6" height="23.2" fill="#7328B9"/>
<text x="1652.5" y="319.2">ATF3/4<tspan font-size="13.5" dy="-7.5">+</tspan><tspan dy="7.5" font-size="22.6">&#8203;</tspan> Venous</text>
<rect x="1622.2" y="326.8" width="23.6" height="23.2" fill="#BE73AA"/>
<text x="1652.5" y="346.2">Venous</text>
<rect x="1622.2" y="353.8" width="23.6" height="23.2" fill="#375A9B"/>
<text x="1652.5" y="373.2">LYVE1<tspan font-size="13.5" dy="-7.5">hi</tspan><tspan dy="7.5" font-size="22.6">&#8203;</tspan> MHCII<tspan font-size="13.5" dy="-7.5">low</tspan><tspan dy="7.5" font-size="22.6">&#8203;</tspan> Mac</text>
<rect x="1622.2" y="380.8" width="23.6" height="23.2" fill="#FCAA1E"/>
<text x="1652.5" y="400.2">LYVE1<tspan font-size="13.5" dy="-7.5">low</tspan><tspan dy="7.5" font-size="22.6">&#8203;</tspan> MHCII<tspan font-size="13.5" dy="-7.5">hi</tspan><tspan dy="7.5" font-size="22.6">&#8203;</tspan> Mac</text>
<rect x="1622.2" y="407.8" width="23.6" height="23.2" fill="#23B955"/>
<text x="1652.5" y="427.2">cMonocytes</text>
<rect x="1622.2" y="434.8" width="23.6" height="23.2" fill="#19F541"/>
<text x="1652.5" y="454.2">CD16<tspan font-size="13.5" dy="-7.5">+</tspan><tspan dy="7.5" font-size="22.6">&#8203;</tspan> Monocytes</text>
<rect x="1622.2" y="461.8" width="23.6" height="23.2" fill="#C3461E"/>
<text x="1652.5" y="481.2">DCs</text>
<rect x="1622.2" y="488.8" width="23.6" height="23.2" fill="#F52337"/>
<text x="1652.5" y="508.2">Neutrophils</text>
</g>
</svg></body></html>
